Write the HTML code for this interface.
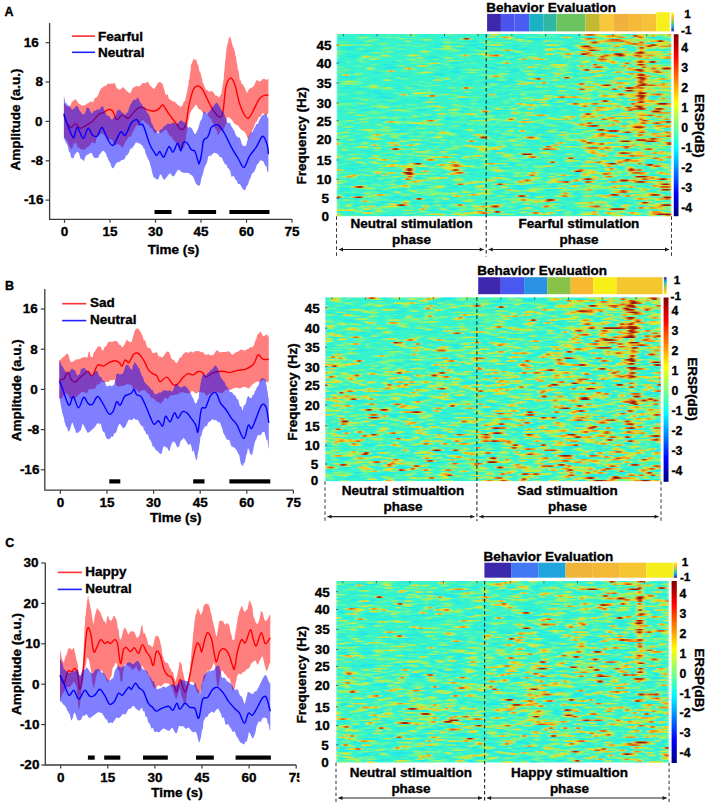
<!DOCTYPE html><html><head><meta charset="utf-8"><style>html,body{margin:0;padding:0;background:#fff}svg{display:block}</style></head><body>
<svg width="708" height="806" viewBox="0 0 708 806">
<defs>
<linearGradient id="jet" x1="0" y1="0" x2="0" y2="1"><stop offset="0" stop-color="#800000"/><stop offset="0.125" stop-color="#ff0000"/><stop offset="0.375" stop-color="#ffff00"/><stop offset="0.5" stop-color="#80ff80"/><stop offset="0.625" stop-color="#00ffff"/><stop offset="0.875" stop-color="#0000ff"/><stop offset="1" stop-color="#000080"/></linearGradient>
<linearGradient id="parD" x1="0" y1="0" x2="0" y2="1"><stop offset="0" stop-color="#f9fb0e"/><stop offset="0.25" stop-color="#f5b836"/><stop offset="0.5" stop-color="#7ccb5e"/><stop offset="0.75" stop-color="#12b1d0"/><stop offset="1" stop-color="#3e26a8"/></linearGradient>
<linearGradient id="parU" x1="0" y1="1" x2="0" y2="0"><stop offset="0" stop-color="#f9fb0e"/><stop offset="0.25" stop-color="#f5b836"/><stop offset="0.5" stop-color="#7ccb5e"/><stop offset="0.75" stop-color="#12b1d0"/><stop offset="1" stop-color="#3e26a8"/></linearGradient>
<filter id="hb" x="0" y="0" width="1" height="1"><feGaussianBlur stdDeviation="0.8 0.45"/></filter>
<clipPath id="clipA"><rect x="336.5" y="34" width="335" height="182.5"/></clipPath>
<clipPath id="clipB"><rect x="325" y="297.3" width="336" height="184"/></clipPath>
<clipPath id="clipC"><rect x="336" y="581" width="333.3" height="181.7"/></clipPath>
</defs>
<rect width="708" height="806" fill="#fff"/>
<text x="4.6" y="16.2" font-size="12.5" font-family="Liberation Sans, sans-serif" font-weight="bold" stroke="#000" stroke-width="0.35">A</text>
<path d="M63.9,103.4 64.9,104.0 66.3,105.6 67.8,107.0 69.3,107.1 70.2,106.2 71.1,103.7 72.0,101.6 72.9,101.2 73.9,100.5 74.8,99.2 75.9,99.4 77.0,101.1 78.1,103.1 79.2,103.8 80.2,104.3 81.4,105.4 82.5,105.5 83.6,105.4 84.9,105.0 86.0,104.5 87.2,103.6 88.5,103.0 89.8,101.9 91.1,101.2 92.0,101.9 92.9,102.5 93.8,100.7 94.7,98.5 95.6,97.6 96.5,97.6 97.3,96.6 98.0,95.5 98.7,93.7 99.3,91.7 99.9,90.9 100.5,89.6 101.2,88.3 101.9,88.0 102.9,87.3 103.9,86.2 105.0,85.9 106.0,85.8 107.1,84.3 108.2,83.5 109.4,84.1 110.7,83.6 112.0,83.6 113.2,83.6 114.4,82.9 115.4,84.6 116.4,87.4 117.2,88.5 118.1,89.0 119.0,89.7 120.2,89.6 121.3,88.8 122.4,87.5 123.7,87.3 124.8,88.9 126.1,90.3 127.4,91.4 128.6,92.5 129.9,93.2 130.8,92.4 131.7,90.3 132.7,87.9 133.6,87.0 134.5,87.4 135.3,86.6 136.1,85.7 137.7,86.5 139.2,86.6 140.8,85.3 141.9,83.6 143.2,83.1 144.4,83.3 145.7,83.0 147.0,82.1 148.0,81.9 149.0,83.8 150.0,85.5 151.0,86.4 152.1,87.6 153.2,88.7 154.2,88.8 155.3,87.4 156.4,85.4 157.6,83.2 158.7,82.2 159.9,82.2 161.0,82.6 161.6,83.1 162.1,83.5 162.7,84.6 163.3,86.4 163.9,88.4 164.4,90.1 165.0,92.7 165.6,94.5 166.2,94.7 166.8,95.0 167.3,94.6 167.9,94.8 168.4,97.3 168.9,98.9 170.1,99.5 171.3,100.2 172.4,101.2 173.5,101.6 174.5,101.5 175.6,102.4 177.0,104.3 178.4,105.3 179.7,106.2 181.1,106.7 182.3,105.6 182.8,104.6 183.2,103.0 183.6,102.1 184.0,101.8 184.4,101.3 184.8,100.9 185.2,100.7 185.5,98.9 185.9,96.9 186.3,95.7 186.6,93.7 187.0,92.3 187.3,90.3 187.6,88.6 187.9,86.7 188.2,86.1 188.4,85.2 188.6,82.3 188.8,80.2 189.0,80.1 189.2,79.7 189.4,78.7 189.6,77.1 189.7,74.9 189.9,73.9 190.1,73.2 190.3,72.4 190.4,71.4 190.6,69.7 190.8,67.1 190.9,65.6 191.1,64.7 191.3,64.6 191.8,63.3 192.4,61.7 193.0,60.3 193.5,59.2 194.1,58.8 194.6,59.2 195.2,60.0 195.8,59.8 196.3,59.6 196.9,62.0 197.4,64.1 198.0,64.4 198.4,65.1 198.7,67.7 199.1,69.4 199.5,71.0 199.9,72.3 200.2,72.2 200.6,73.1 201.0,74.8 201.3,76.4 201.7,77.4 202.1,79.0 202.4,80.9 202.8,82.9 203.1,83.6 203.5,83.5 203.9,84.8 204.3,86.0 204.7,87.2 205.5,89.0 206.3,89.8 207.2,90.1 208.2,90.9 209.2,91.6 210.2,91.5 211.4,91.0 212.5,91.4 213.7,92.8 214.7,94.6 215.7,95.7 216.7,95.5 217.6,96.2 218.4,97.5 219.2,97.2 219.6,96.3 220.0,95.5 220.4,95.2 220.8,94.8 221.1,93.7 221.5,93.0 221.8,90.7 222.2,87.9 222.6,84.8 222.7,83.3 222.8,83.6 222.9,85.3 223.0,85.0 223.2,82.9 223.3,81.6 223.4,80.0 223.5,78.9 223.6,79.5 223.8,78.6 223.9,75.6 224.0,73.4 224.1,72.2 224.2,71.2 224.4,70.8 224.5,69.8 224.6,68.1 224.7,67.0 224.8,65.6 225.0,62.9 225.1,61.0 225.2,60.1 225.3,59.9 225.4,59.2 225.6,58.3 225.7,56.8 225.8,55.2 225.9,54.0 226.2,51.4 226.4,48.6 226.7,46.8 227.0,46.5 227.2,45.0 227.5,43.8 227.7,43.5 228.0,43.2 228.2,41.4 228.5,39.4 228.8,38.7 229.0,38.3 229.3,37.5 230.1,36.6 230.9,38.8 231.8,42.5 232.6,45.4 232.9,47.3 233.1,48.4 233.4,46.8 233.7,45.6 233.9,47.4 234.2,50.1 234.4,50.9 234.7,50.7 234.9,52.0 235.2,53.8 235.5,55.3 235.7,56.2 236.0,56.9 236.2,58.2 236.4,60.3 236.6,62.1 236.8,63.1 237.1,64.0 237.3,65.2 237.5,67.3 237.7,68.6 237.9,69.8 238.1,70.6 238.4,69.9 238.6,70.7 238.8,72.9 239.1,74.3 239.3,76.5 239.7,79.4 240.2,79.7 240.6,80.1 241.0,81.7 241.5,83.4 242.0,84.2 242.4,84.1 242.9,84.2 243.3,85.2 243.8,86.0 244.7,87.4 245.6,89.8 246.5,92.0 247.4,92.4 248.3,90.4 249.2,89.1 250.1,88.6 250.9,88.1 251.8,87.5 252.7,86.9 253.6,86.1 254.5,84.8 255.3,82.7 256.2,80.6 257.2,80.2 258.5,80.9 259.9,81.4 261.4,80.6 262.8,78.9 264.0,78.7 265.3,79.2 266.5,79.7 267.6,79.7 268.4,78.1 L268.4,112.7 267.3,114.7 265.9,114.9 264.2,113.8 262.8,112.9 261.8,114.2 260.9,115.9 260.1,116.7 259.2,116.9 258.3,117.8 257.8,119.4 257.2,120.8 256.7,121.7 256.2,122.1 255.6,122.3 255.1,124.1 254.5,125.6 253.9,127.0 253.4,128.4 252.9,129.2 252.4,129.8 251.8,131.4 251.3,132.8 250.7,133.9 250.2,134.9 249.7,136.2 249.2,137.6 248.7,138.8 248.3,139.5 247.5,138.6 246.9,136.5 246.4,135.3 245.8,133.8 244.9,132.2 244.1,131.6 243.2,130.7 242.3,130.5 241.3,130.0 240.2,128.6 239.2,127.2 238.2,125.8 237.2,124.9 236.2,124.7 235.2,124.2 234.2,123.4 233.3,122.1 232.3,120.5 231.5,119.5 230.2,118.2 229.0,117.4 227.9,117.1 227.0,117.6 226.6,119.6 226.4,122.5 226.2,123.7 226.0,123.7 225.7,124.0 225.3,124.8 224.8,126.5 224.1,128.2 223.2,129.5 222.3,130.0 221.3,130.2 220.2,131.7 219.2,133.7 218.1,135.1 217.6,134.6 217.0,131.8 216.5,129.8 215.9,129.1 215.3,128.7 214.7,128.1 214.1,126.3 213.5,124.1 213.0,122.1 212.4,122.2 211.8,120.7 211.3,118.3 210.8,117.9 210.3,118.8 209.0,117.0 207.8,114.2 206.7,112.6 205.7,112.0 204.7,112.9 203.7,114.2 202.8,113.0 202.0,111.4 201.1,110.3 200.2,109.6 199.1,109.2 198.0,108.3 196.9,105.6 195.8,104.6 194.8,105.9 193.9,107.5 193.0,108.5 192.1,109.8 191.3,110.8 190.9,111.4 190.6,112.6 190.3,113.0 190.0,113.5 189.7,114.4 189.4,116.4 189.1,119.3 188.8,120.0 188.5,119.8 188.2,121.7 187.9,124.0 187.7,124.6 187.5,126.0 187.3,128.1 187.1,130.4 186.9,131.7 186.7,132.2 186.5,133.1 186.3,135.3 186.1,137.5 185.9,138.9 185.7,139.9 185.5,140.5 185.3,141.8 185.1,143.2 184.8,144.5 184.6,146.0 183.8,147.8 183.0,148.8 182.1,148.6 181.2,148.6 180.1,148.4 179.5,148.1 178.8,148.4 178.0,147.1 177.3,144.7 176.5,143.4 175.7,142.7 174.9,141.6 174.2,140.7 173.4,140.0 172.6,138.8 171.9,137.3 171.1,136.3 170.3,136.5 169.5,135.7 168.8,134.0 168.0,133.2 167.3,131.5 166.7,130.0 165.2,129.7 164.0,130.6 162.5,131.9 161.4,132.7 160.2,133.2 158.9,131.9 157.6,131.4 156.3,132.3 155.3,133.3 154.3,132.9 153.2,131.1 152.2,128.6 151.1,128.3 150.1,127.8 149.2,125.5 148.3,124.1 147.4,124.4 146.6,124.1 145.7,122.7 144.8,121.9 143.9,121.1 142.9,119.9 141.8,120.3 140.8,122.8 139.8,124.3 138.7,125.2 137.7,125.8 136.9,125.0 136.1,125.4 135.4,127.2 134.6,128.8 133.8,130.4 133.0,131.8 132.2,133.1 131.5,135.2 130.8,136.8 130.1,136.9 129.4,136.4 128.7,137.0 128.0,137.9 127.3,139.4 126.6,140.4 125.9,140.7 125.3,141.9 124.0,145.1 122.8,147.6 121.5,147.1 120.3,145.5 119.0,144.5 117.8,144.0 116.6,144.8 115.3,145.6 114.1,144.2 112.8,141.1 111.9,139.7 111.0,139.7 110.2,138.9 109.3,139.1 108.4,140.0 107.5,140.0 106.6,138.3 105.4,136.2 104.1,134.9 102.9,133.8 101.6,133.4 100.4,133.9 99.7,134.5 99.0,135.1 98.3,136.0 97.6,136.5 96.9,137.2 96.3,139.2 95.6,142.4 94.9,144.1 94.2,143.2 92.9,142.2 91.7,142.7 90.5,144.5 89.2,146.2 88.0,146.4 87.1,147.0 86.2,148.6 85.3,149.2 84.4,149.3 83.5,150.1 82.6,149.5 81.8,149.2 81.0,149.4 80.2,148.4 79.4,147.7 78.5,147.7 77.8,147.6 77.0,145.4 76.2,142.9 75.5,142.6 74.5,143.2 73.7,144.2 72.8,146.6 71.9,149.1 70.9,148.7 70.2,147.2 69.5,146.4 68.7,144.5 67.9,142.5 67.1,140.8 66.3,140.2 65.5,139.3 64.9,138.1 64.3,137.5 63.9,136.8 Z" fill="#ff0000" fill-opacity="0.5"/>
<path d="M63.9,115.1 C64.4,116.4 65.8,120.8 67.0,122.8 C68.2,124.9 69.5,127.4 70.9,127.5 C72.3,127.6 74.0,123.5 75.5,123.6 C77.1,123.7 78.4,128.0 80.2,128.3 C82.0,128.5 84.3,126.3 86.4,125.2 C88.5,124.0 90.6,123.1 92.6,121.3 C94.7,119.5 97.0,115.7 98.8,114.3 C100.7,112.9 101.9,113.5 103.5,112.7 C105.1,111.9 106.6,109.9 108.2,109.6 C109.7,109.4 111.4,109.5 112.8,111.2 C114.2,112.9 115.2,119.1 116.7,119.7 C118.3,120.4 120.2,115.3 122.1,115.1 C124.1,114.8 126.3,118.8 128.4,118.2 C130.4,117.5 132.5,113.0 134.6,111.2 C136.6,109.4 138.7,107.5 140.8,107.3 C142.9,107.0 144.9,109.0 147.0,109.6 C149.1,110.3 151.4,111.2 153.2,111.2 C155.0,111.2 156.3,110.7 157.9,109.6 C159.4,108.6 161.4,105.4 162.5,105.0 C163.6,104.5 163.4,105.7 164.5,107.2 C165.5,108.6 167.1,111.2 168.9,113.9 C170.8,116.5 173.6,120.2 175.6,122.8 C177.7,125.4 179.6,129.1 181.2,129.5 C182.9,129.9 184.4,129.1 185.7,125.0 C187.0,120.9 187.7,110.9 189.1,104.9 C190.4,99.0 192.0,92.4 193.5,89.3 C195.0,86.1 196.5,85.9 198.0,85.9 C199.5,85.9 201.0,87.2 202.5,89.3 C203.9,91.3 205.4,95.2 206.9,98.2 C208.4,101.2 209.5,104.2 211.4,107.2 C213.3,110.1 216.2,115.0 218.1,116.1 C220.0,117.2 221.3,118.7 222.6,113.9 C223.9,109.0 224.6,93.0 225.9,87.0 C227.2,81.1 228.9,78.5 230.4,78.1 C231.9,77.7 233.4,80.7 234.9,84.8 C236.4,88.9 237.8,97.8 239.3,102.7 C240.8,107.5 242.3,111.2 243.8,113.9 C245.3,116.5 246.6,119.1 248.3,118.3 C249.9,117.6 252.2,112.4 253.9,109.4 C255.5,106.4 256.8,102.7 258.3,100.4 C259.8,98.2 261.1,96.9 262.8,96.0 C264.5,95.0 267.4,95.0 268.4,94.9" fill="none" stroke="#ff0000" stroke-width="1.4"/>
<path d="M63.9,94.1 64.0,95.1 64.2,96.8 64.5,99.1 64.8,100.0 65.1,101.6 65.4,103.0 65.8,103.0 66.2,102.9 67.0,104.4 67.8,105.2 68.8,105.2 69.8,106.3 70.9,108.3 72.0,109.4 73.3,109.3 74.6,108.0 75.9,106.3 77.1,105.9 77.8,106.5 78.5,107.7 79.2,109.8 79.9,111.1 80.5,111.8 81.2,112.6 81.9,113.4 82.5,114.3 83.2,114.6 83.9,114.2 84.6,113.8 85.3,112.5 86.0,109.8 86.7,108.0 87.3,107.5 88.0,108.0 88.9,108.2 89.7,109.5 90.5,111.8 91.5,113.6 92.6,112.9 93.5,111.2 94.6,110.8 95.7,110.6 96.9,109.6 98.0,109.2 99.2,109.7 100.2,108.3 101.2,106.7 102.1,106.2 102.9,106.5 103.7,108.0 104.4,110.2 105.1,111.9 105.8,113.4 106.6,115.1 107.6,115.9 108.6,115.9 109.7,116.6 110.7,118.6 111.8,119.7 112.8,119.0 113.4,117.9 114.1,117.1 114.7,116.2 115.3,115.9 115.9,114.7 116.6,112.6 117.2,110.5 117.8,109.7 118.4,110.4 119.0,110.1 119.9,109.6 120.8,111.0 121.7,112.3 122.6,112.4 123.5,113.2 124.4,114.5 125.3,114.8 125.8,114.0 126.4,113.2 127.0,112.4 127.6,112.2 128.2,111.1 128.7,109.2 129.3,107.5 129.9,105.5 130.4,104.5 131.0,104.1 131.5,103.0 132.7,101.0 133.9,99.7 135.0,99.8 136.1,99.4 137.0,98.1 137.9,97.6 138.8,99.1 139.8,101.7 140.8,103.2 141.6,103.7 142.5,105.4 143.3,106.9 144.3,107.2 145.2,108.0 146.1,110.3 147.0,112.6 147.5,113.0 148.0,112.9 148.4,114.0 148.9,115.1 149.4,115.8 149.9,117.0 150.4,118.7 150.8,120.3 151.3,122.3 151.8,123.8 152.3,124.5 152.7,124.6 153.2,125.9 154.1,128.1 155.0,129.4 155.8,130.1 156.7,131.2 157.6,133.1 158.5,133.5 159.4,131.8 160.3,129.6 161.2,129.3 162.1,129.2 163.0,127.5 164.0,125.9 164.9,125.9 165.8,125.4 166.7,124.0 168.1,123.4 169.5,123.9 170.9,124.0 172.2,122.9 173.4,122.5 174.7,123.1 175.7,124.0 176.7,124.4 177.9,123.2 178.9,122.0 180.0,120.9 181.2,120.3 182.3,121.1 183.5,121.9 184.3,121.9 185.0,122.6 185.8,123.8 186.6,125.1 187.4,126.7 188.2,127.9 189.1,127.1 190.1,127.2 191.2,127.7 192.3,128.9 193.5,131.7 194.6,134.0 195.8,133.8 196.2,132.9 196.7,131.5 197.2,130.6 197.7,129.9 198.2,128.3 198.7,126.8 199.2,124.8 199.7,123.1 200.1,121.9 200.6,120.7 201.1,119.8 201.6,119.3 202.0,118.4 202.5,115.9 203.6,112.6 204.8,111.5 205.9,112.3 206.9,113.4 208.0,113.4 208.8,112.1 209.5,111.4 210.2,110.7 210.9,109.5 211.6,108.2 212.3,107.1 213.0,106.4 213.6,105.9 215.2,103.7 216.6,102.4 218.1,104.1 218.8,105.4 219.5,106.0 220.2,107.4 221.0,109.6 221.7,110.5 222.4,110.9 223.1,112.0 223.7,112.9 224.3,114.0 224.8,116.0 225.3,117.5 225.8,118.2 226.3,119.3 227.0,121.9 227.6,122.9 228.3,122.9 229.1,122.8 229.9,123.1 230.7,124.6 231.5,126.8 232.3,127.6 233.0,128.8 233.7,130.0 234.5,131.0 235.2,133.3 235.9,135.3 236.6,136.1 237.3,137.0 238.0,137.4 238.6,137.3 239.3,137.4 240.1,138.4 241.0,141.1 241.8,143.9 242.6,145.3 243.4,146.1 244.2,146.3 244.9,145.8 245.5,146.0 246.1,145.6 246.6,143.4 247.1,141.5 247.6,140.0 248.1,138.4 248.7,136.8 249.4,135.3 250.0,133.9 250.6,133.0 251.2,132.3 251.9,132.0 252.6,131.7 253.3,130.4 254.0,128.7 254.7,127.7 255.4,126.4 256.1,124.3 256.8,123.9 257.4,124.3 258.1,123.5 258.8,121.4 259.5,119.7 260.2,118.6 260.9,117.5 261.5,116.4 262.2,115.6 262.8,115.3 264.1,114.5 265.4,113.7 266.6,114.5 267.6,117.5 268.4,118.3 L268.4,172.0 268.1,171.7 267.7,171.8 267.2,171.0 266.7,167.8 266.2,165.6 265.6,166.2 265.0,165.4 264.0,162.4 263.0,161.1 261.9,160.7 260.6,160.2 260.0,160.4 259.3,161.9 258.7,163.0 258.0,163.6 257.3,164.3 256.6,165.5 255.9,168.1 255.2,169.8 254.5,171.0 253.9,172.1 253.3,172.8 252.7,173.3 252.1,173.4 251.5,174.6 251.0,177.1 250.4,178.0 249.9,178.9 249.4,179.9 248.8,181.7 248.3,184.0 247.5,185.2 246.6,185.9 245.8,188.4 245.0,190.4 244.2,190.1 243.4,189.6 242.7,189.1 241.9,187.5 241.2,186.3 240.5,185.1 239.8,184.2 239.1,184.0 238.2,184.0 237.6,183.0 236.9,180.9 236.1,179.9 235.4,179.6 234.6,178.0 233.8,176.1 233.0,175.7 232.3,176.8 231.5,176.7 230.8,173.8 230.2,170.9 229.5,169.7 228.8,168.8 228.2,168.3 227.5,167.7 226.8,165.6 226.1,164.2 225.5,164.6 224.8,164.0 224.1,162.6 223.3,161.0 222.6,159.5 221.9,157.8 221.2,157.1 220.4,157.2 219.7,157.1 218.9,155.8 218.1,154.3 216.8,153.4 215.5,153.0 214.2,152.8 212.8,153.7 211.5,155.0 210.3,156.6 209.8,155.8 209.3,155.2 208.7,156.0 208.2,157.1 207.8,159.0 207.3,161.5 206.8,162.9 206.3,163.7 205.8,165.0 205.4,166.1 204.9,166.5 204.5,167.7 204.0,168.9 203.6,170.9 203.1,173.1 202.6,174.8 202.1,176.2 201.7,177.1 201.2,178.8 200.8,181.7 200.3,183.9 199.9,184.9 199.4,185.7 199.0,185.4 198.5,185.5 198.0,185.5 197.4,184.9 196.7,184.5 196.1,183.8 195.4,182.5 194.7,180.5 194.0,178.8 193.3,177.4 192.6,175.9 192.0,175.2 191.3,175.2 189.9,174.0 188.6,172.9 187.3,172.8 185.9,173.0 184.6,172.8 183.2,172.8 181.8,172.3 180.4,171.0 179.1,169.8 177.9,170.1 176.8,171.5 175.9,173.1 175.1,174.2 174.3,175.7 173.4,176.6 172.3,175.9 171.2,174.5 170.1,173.2 168.9,174.1 168.0,175.4 167.1,176.6 166.2,177.8 165.3,178.7 164.5,179.7 163.3,179.3 162.3,177.0 161.0,174.4 159.9,174.8 158.7,178.2 157.4,179.8 156.1,179.0 154.8,177.7 154.4,177.3 153.9,177.8 153.5,177.0 153.1,175.8 152.7,174.3 152.3,172.7 151.9,171.2 151.5,168.9 151.0,167.0 150.6,166.0 150.2,164.7 149.8,163.0 149.4,161.7 149.0,161.0 148.6,160.1 148.0,158.8 147.5,158.0 147.0,156.7 146.5,155.3 146.0,154.8 145.5,153.3 144.9,150.6 144.4,148.7 143.9,148.6 143.4,148.2 142.9,146.3 142.3,145.6 141.1,144.7 139.9,143.4 138.6,143.3 137.4,142.7 136.1,142.3 135.4,143.2 134.6,144.9 133.8,145.8 133.0,146.8 132.2,148.3 131.5,148.7 130.7,148.2 129.9,149.7 129.1,151.9 128.4,153.4 127.6,154.7 126.8,155.3 126.0,155.8 125.3,157.5 124.5,159.1 123.7,159.6 122.5,160.0 121.2,160.2 120.0,161.5 118.7,161.9 117.5,162.3 116.3,163.3 115.1,165.0 113.9,167.6 112.6,168.6 111.3,166.5 110.7,164.0 110.1,162.7 109.6,161.7 108.9,161.0 108.3,159.4 107.7,157.8 107.1,157.1 106.4,155.3 105.8,153.2 105.2,152.4 104.6,151.9 104.1,151.2 103.5,150.8 102.5,150.8 101.7,152.1 100.8,153.2 100.0,153.9 99.1,155.5 98.2,157.7 97.3,158.1 96.2,157.7 95.1,157.9 94.0,157.6 92.8,155.4 91.7,153.1 90.6,153.0 89.5,153.5 88.7,154.2 87.9,154.5 87.1,155.0 86.3,155.5 85.6,156.2 84.8,158.4 84.1,160.7 83.3,160.8 82.6,159.7 81.9,159.0 81.2,159.2 80.5,158.5 79.7,155.6 79.0,153.3 78.4,152.4 77.7,151.7 77.1,151.8 76.4,152.5 75.8,153.5 75.2,153.8 74.6,154.8 74.0,157.0 73.3,158.5 72.4,158.1 72.0,158.0 71.6,158.1 71.1,157.2 70.6,154.7 70.1,152.7 69.6,152.2 69.0,151.4 68.4,149.3 67.9,146.5 67.3,144.7 66.8,144.0 66.2,143.0 65.7,141.9 65.3,141.2 64.9,139.9 64.5,139.0 64.2,138.7 63.9,138.4 Z" fill="#0000ff" fill-opacity="0.5"/>
<path d="M63.9,113.5 C64.3,114.8 64.7,117.3 66.2,121.3 C67.8,125.3 71.4,136.5 73.2,137.6 C75.0,138.6 75.4,127.4 77.1,127.5 C78.8,127.6 81.5,138.2 83.3,138.4 C85.1,138.5 86.4,128.8 88.0,128.3 C89.5,127.7 91.1,134.0 92.6,135.3 C94.2,136.5 95.7,137.3 97.3,136.0 C98.8,134.7 100.4,127.4 101.9,127.5 C103.5,127.6 104.8,133.8 106.6,136.8 C108.4,139.8 110.5,146.1 112.8,145.4 C115.2,144.6 118.5,133.8 120.6,132.1 C122.7,130.5 123.4,136.8 125.3,135.3 C127.1,133.7 129.5,125.4 131.5,122.8 C133.4,120.2 135.5,119.4 136.9,119.7 C138.3,120.0 139.1,124.0 140.0,124.7 C140.9,125.5 141.6,123.4 142.5,124.2 C143.3,125.1 144.1,127.4 144.9,129.7 C145.8,131.9 146.6,135.1 147.4,137.6 C148.2,140.1 149.1,142.7 149.9,144.5 C150.6,146.3 151.1,147.1 151.9,148.5 C152.6,149.8 153.6,151.3 154.3,152.4 C155.1,153.6 155.7,155.2 156.3,155.4 C157.0,155.6 157.7,154.1 158.3,153.4 C158.9,152.8 159.2,151.2 159.8,151.4 C160.4,151.7 161.1,153.9 161.8,154.9 C162.4,155.9 163.1,157.6 163.7,157.4 C164.4,157.1 165.1,154.9 165.7,153.4 C166.4,151.9 167.1,149.6 167.7,148.5 C168.3,147.3 168.7,146.5 169.2,146.5 C169.7,146.5 170.1,147.5 170.7,148.5 C171.2,149.5 172.0,152.3 172.6,152.4 C173.3,152.6 174.0,150.8 174.6,149.5 C175.3,148.1 176.0,145.5 176.6,144.5 C177.2,143.5 177.5,142.7 178.1,143.5 C178.7,144.3 179.6,148.3 180.1,149.5 C180.6,150.6 180.6,151.3 181.0,150.4 C181.5,149.6 182.0,145.9 182.5,144.5 C183.0,143.1 183.4,142.4 184.0,142.0 C184.7,141.7 185.7,142.0 186.5,142.5 C187.2,143.0 187.8,144.0 188.5,145.0 C189.1,146.0 189.8,147.6 190.4,148.5 C191.1,149.4 191.8,150.1 192.4,150.4 C193.1,150.8 193.7,149.6 194.4,150.4 C195.1,151.3 195.7,153.4 196.4,155.4 C197.0,157.4 197.9,161.0 198.4,162.3 C198.9,163.6 198.9,164.5 199.3,163.3 C199.8,162.1 200.7,159.0 201.3,155.4 C202.0,151.8 202.6,144.3 203.3,141.5 C204.0,138.7 204.6,139.2 205.3,138.6 C205.9,137.9 206.6,138.4 207.3,137.6 C207.9,136.8 208.5,135.4 209.2,133.6 C209.9,131.9 209.9,128.7 211.4,127.3 C212.9,125.8 215.9,123.9 218.1,125.0 C220.3,126.1 222.6,130.2 224.8,134.0 C227.0,137.7 229.3,143.3 231.5,147.4 C233.7,151.5 236.2,155.2 238.2,158.5 C240.3,161.9 241.9,167.9 243.8,167.5 C245.7,167.1 247.3,159.7 249.4,156.3 C251.4,153.0 253.9,150.7 256.1,147.4 C258.3,144.0 260.9,136.6 262.8,136.2 C264.7,135.8 266.3,142.2 267.3,145.1 C268.2,148.1 268.2,152.6 268.4,154.1" fill="none" stroke="#0000ff" stroke-width="1.4"/>
<path d="M49.6,23.0 V219.3 H292.0" fill="none" stroke="#3a3a3a" stroke-width="1.3"/>
<path d="M45.6,42.7 H49.6" stroke="#3a3a3a" stroke-width="1.2"/>
<text x="38.9" y="47.0" font-size="13.5" text-anchor="end" font-family="Liberation Sans, sans-serif" font-weight="bold" stroke="#000" stroke-width="0.35">16</text>
<path d="M45.6,82.0 H49.6" stroke="#3a3a3a" stroke-width="1.2"/>
<text x="43" y="86.3" font-size="13.5" text-anchor="end" font-family="Liberation Sans, sans-serif" font-weight="bold" stroke="#000" stroke-width="0.35">8</text>
<path d="M45.6,121.4 H49.6" stroke="#3a3a3a" stroke-width="1.2"/>
<text x="42.6" y="125.7" font-size="13.5" text-anchor="end" font-family="Liberation Sans, sans-serif" font-weight="bold" stroke="#000" stroke-width="0.35">0</text>
<path d="M45.6,160.8 H49.6" stroke="#3a3a3a" stroke-width="1.2"/>
<text x="43" y="165.1" font-size="13.5" text-anchor="end" font-family="Liberation Sans, sans-serif" font-weight="bold" stroke="#000" stroke-width="0.35">-8</text>
<path d="M45.6,200.1 H49.6" stroke="#3a3a3a" stroke-width="1.2"/>
<text x="43.4" y="204.4" font-size="13.5" text-anchor="end" font-family="Liberation Sans, sans-serif" font-weight="bold" stroke="#000" stroke-width="0.35">-16</text>
<path d="M64.5,219.3 V222.8" stroke="#3a3a3a" stroke-width="1.2"/>
<text x="64.5" y="236.3" font-size="13.5" text-anchor="middle" font-family="Liberation Sans, sans-serif" font-weight="bold" stroke="#000" stroke-width="0.35">0</text>
<path d="M110.0,219.3 V222.8" stroke="#3a3a3a" stroke-width="1.2"/>
<text x="110.0" y="236.3" font-size="13.5" text-anchor="middle" font-family="Liberation Sans, sans-serif" font-weight="bold" stroke="#000" stroke-width="0.35">15</text>
<path d="M155.5,219.3 V222.8" stroke="#3a3a3a" stroke-width="1.2"/>
<text x="155.5" y="236.3" font-size="13.5" text-anchor="middle" font-family="Liberation Sans, sans-serif" font-weight="bold" stroke="#000" stroke-width="0.35">30</text>
<path d="M201.0,219.3 V222.8" stroke="#3a3a3a" stroke-width="1.2"/>
<text x="201.0" y="236.3" font-size="13.5" text-anchor="middle" font-family="Liberation Sans, sans-serif" font-weight="bold" stroke="#000" stroke-width="0.35">45</text>
<path d="M246.5,219.3 V222.8" stroke="#3a3a3a" stroke-width="1.2"/>
<text x="246.5" y="236.3" font-size="13.5" text-anchor="middle" font-family="Liberation Sans, sans-serif" font-weight="bold" stroke="#000" stroke-width="0.35">60</text>
<path d="M292.0,219.3 V222.8" stroke="#3a3a3a" stroke-width="1.2"/>
<text x="292.0" y="236.3" font-size="13.5" text-anchor="middle" font-family="Liberation Sans, sans-serif" font-weight="bold" stroke="#000" stroke-width="0.35">75</text>
<text x="173.4" y="253.6" font-size="13.5" text-anchor="middle" font-family="Liberation Sans, sans-serif" font-weight="bold" stroke="#000" stroke-width="0.35">Time (s)</text>
<text x="20.2" y="119.5" font-size="13.5" text-anchor="middle" transform="rotate(-90 20.2 119.5)" font-family="Liberation Sans, sans-serif" font-weight="bold" stroke="#000" stroke-width="0.35">Amplitude (a.u.)</text>
<path d="M72,36.1 H95" stroke="#ff3030" stroke-width="1.6"/>
<path d="M72,52.3 H95" stroke="#2020ff" stroke-width="1.6"/>
<text x="98" y="40.9" font-size="13.5" font-family="Liberation Sans, sans-serif" font-weight="bold" stroke="#000" stroke-width="0.35">Fearful</text>
<text x="98" y="57.2" font-size="13.5" font-family="Liberation Sans, sans-serif" font-weight="bold" stroke="#000" stroke-width="0.35">Neutral</text>
<rect x="154.5" y="210" width="17.0" height="4.0" fill="#000"/>
<rect x="188.4" y="210" width="27.7" height="4.0" fill="#000"/>
<rect x="229.4" y="210" width="40.1" height="4.0" fill="#000"/>
<text x="4.9" y="289.5" font-size="12.5" font-family="Liberation Sans, sans-serif" font-weight="bold" stroke="#000" stroke-width="0.35">B</text>
<path d="M59.3,360.0 60.2,360.0 61.5,358.7 62.8,357.2 63.6,356.7 64.5,356.2 65.4,355.2 66.3,354.1 67.2,353.9 67.7,353.7 68.2,353.9 68.6,355.4 69.1,357.2 69.5,359.0 70.1,360.7 70.6,361.8 71.8,362.1 73.1,361.4 74.5,360.7 75.9,359.3 77.2,359.2 78.5,359.4 79.8,359.0 81.1,358.2 82.4,357.6 83.8,357.2 85.2,356.8 86.3,357.8 87.1,357.9 87.7,356.0 88.2,354.0 88.9,351.8 89.4,351.0 89.9,353.0 90.5,356.2 91.0,357.2 91.7,356.8 92.4,357.1 92.8,356.8 93.2,354.8 93.7,352.7 94.1,352.1 94.6,352.0 95.1,350.9 95.6,349.7 96.1,349.4 96.6,348.7 97.1,347.5 97.6,346.9 98.6,346.3 99.7,346.2 100.8,347.1 101.8,349.8 102.8,350.8 103.4,349.9 104.0,348.2 104.6,346.8 105.1,346.6 105.7,346.4 106.4,345.7 107.1,343.9 108.4,342.0 109.9,341.6 111.4,342.0 112.8,341.7 114.1,340.9 115.7,340.7 117.1,341.6 118.4,343.1 119.3,344.7 120.2,345.0 121.0,345.3 121.9,347.2 122.8,347.2 123.5,345.8 124.2,344.9 124.9,343.6 125.7,341.7 126.4,340.2 127.1,340.1 128.6,341.2 130.1,342.1 131.5,342.0 132.0,340.8 132.5,338.7 133.0,336.5 133.4,335.0 133.9,333.9 134.4,331.9 134.9,330.2 136.4,328.6 137.9,328.5 139.3,329.9 140.0,330.8 140.7,331.8 141.3,333.6 142.0,334.8 142.8,336.4 143.2,338.0 143.6,339.8 144.1,340.4 144.6,340.3 145.1,340.4 145.6,341.6 146.1,343.7 146.6,345.6 147.1,346.7 147.9,347.4 148.8,348.1 149.8,348.2 150.7,348.6 151.5,350.8 152.3,352.9 154.1,352.9 155.8,352.6 156.4,352.4 157.0,352.1 157.7,354.0 158.4,356.3 159.2,356.3 160.1,356.3 161.1,357.3 162.1,357.5 163.3,356.4 164.5,354.6 165.7,353.0 166.8,351.8 167.8,351.4 168.7,351.8 169.6,352.9 170.4,355.4 171.2,358.2 172.0,359.1 172.7,359.5 173.4,360.1 174.6,361.1 175.7,362.7 176.8,363.1 177.9,361.5 178.4,360.6 178.9,359.8 179.5,358.3 180.0,357.0 180.5,357.2 181.1,357.8 181.7,356.4 182.3,354.9 183.6,353.8 184.9,352.4 186.3,351.9 187.7,352.8 189.1,352.7 190.5,351.3 191.8,352.0 193.2,352.6 194.6,351.6 195.9,351.1 197.3,351.2 198.7,350.9 200.1,351.6 201.3,352.2 202.5,352.1 203.7,352.7 204.7,354.2 205.8,355.0 206.9,354.6 208.3,354.1 209.7,355.1 211.1,355.3 212.5,355.3 213.6,354.8 214.7,353.0 215.8,351.2 216.9,350.3 218.1,350.8 219.4,351.9 220.7,352.4 222.1,352.1 223.4,351.9 224.8,351.9 226.1,352.0 227.5,351.5 228.8,351.3 230.2,352.6 231.5,354.2 232.8,354.7 234.2,353.7 235.5,352.3 236.9,352.1 238.2,351.4 239.6,350.4 241.0,349.5 242.4,349.7 243.7,350.4 244.9,350.4 246.2,349.7 247.3,349.3 248.3,349.0 249.4,347.7 250.5,346.9 251.7,347.4 252.8,346.8 253.9,345.3 254.4,343.5 254.9,341.7 255.4,340.4 255.9,339.5 256.4,338.7 256.8,336.8 257.2,335.6 257.8,333.9 258.3,333.5 258.8,334.1 259.4,332.9 260.1,331.5 260.9,331.7 261.7,333.7 262.8,335.8 263.9,336.5 265.3,335.1 266.7,334.6 268.0,335.9 268.8,336.9 L268.8,380.4 268.0,382.4 266.8,382.0 265.4,381.3 264.0,380.0 262.8,379.8 261.6,380.7 260.6,381.6 259.6,381.8 258.3,381.8 257.1,381.8 255.8,382.1 254.4,382.9 253.0,384.0 251.6,385.3 250.3,387.1 248.9,388.5 247.6,388.2 246.3,387.3 244.9,387.0 243.6,386.7 242.2,387.2 240.9,388.3 239.6,388.6 238.2,388.0 236.9,387.8 235.5,387.8 234.2,387.9 232.8,388.8 231.5,389.4 230.2,389.8 228.8,390.3 227.5,389.6 226.1,389.5 224.8,390.8 223.5,392.1 222.1,393.2 220.8,393.0 219.4,392.7 218.1,392.4 216.8,392.1 215.4,391.6 214.1,391.7 212.7,392.9 211.4,393.7 210.0,393.8 208.6,394.2 207.2,395.7 205.9,395.4 204.7,392.8 203.4,392.5 202.3,392.9 201.3,392.1 200.2,392.1 198.9,392.0 197.6,392.7 195.8,393.4 194.7,392.7 193.5,391.5 192.2,391.1 190.9,391.7 189.5,393.0 188.1,393.4 186.8,393.1 185.5,392.9 184.3,392.5 183.0,392.3 181.7,392.1 180.4,392.6 179.2,393.3 177.9,394.2 176.6,394.6 175.3,394.8 174.1,395.0 172.8,395.0 171.5,395.2 170.3,395.6 168.9,397.2 168.0,399.0 167.0,398.9 166.0,397.7 165.0,397.8 164.0,399.2 163.0,400.8 162.0,402.2 161.0,403.7 160.1,403.4 159.3,402.4 158.3,402.1 157.3,401.8 156.5,401.7 155.6,400.4 154.8,399.3 154.0,398.9 153.2,398.3 152.3,398.2 151.2,397.5 150.0,395.7 148.8,394.1 147.7,393.2 146.5,392.4 145.4,390.8 144.2,390.0 143.0,390.3 141.9,390.3 140.7,390.9 139.6,391.9 138.4,391.8 137.3,390.5 136.1,389.1 134.9,389.2 133.8,389.2 132.6,387.9 131.5,385.1 130.1,384.4 128.7,384.6 127.3,384.1 125.9,384.5 124.5,385.5 123.1,386.1 121.6,386.0 120.1,386.2 118.7,386.8 117.6,386.1 116.7,386.1 116.0,385.0 115.4,382.1 114.8,379.8 114.1,379.7 112.9,380.3 111.7,380.1 110.3,380.2 108.9,381.6 107.6,382.1 106.2,381.9 104.8,382.3 103.3,382.2 101.9,381.6 100.9,381.9 99.9,383.5 98.8,384.4 97.8,384.3 96.8,385.0 95.9,387.0 95.0,388.7 93.5,388.8 92.2,388.9 91.0,389.2 89.8,388.9 88.6,389.8 87.5,392.3 86.5,393.2 85.4,392.7 84.0,391.9 82.5,391.7 81.1,392.5 80.0,393.8 78.9,394.7 77.8,395.6 76.7,397.0 75.2,398.2 73.8,398.6 72.4,399.1 71.4,399.6 70.6,399.3 69.8,398.4 68.9,396.9 68.1,395.0 67.3,393.7 66.5,393.4 65.4,393.0 64.5,394.0 63.4,395.8 62.2,397.5 61.0,399.1 60.0,398.6 59.3,398.2 Z" fill="#ff0000" fill-opacity="0.5"/>
<path d="M59.3,379.1 C60.1,379.1 62.2,380.2 63.7,379.1 C65.1,377.9 66.7,372.0 68.0,372.1 C69.3,372.3 70.2,378.4 71.5,380.0 C72.8,381.5 74.4,382.1 75.9,381.7 C77.3,381.3 78.7,378.6 80.2,377.3 C81.6,376.0 83.2,374.9 84.5,373.9 C85.8,372.9 86.7,371.0 88.0,371.3 C89.3,371.6 90.8,376.6 92.4,375.6 C94.0,374.6 95.7,366.8 97.6,365.2 C99.5,363.6 101.8,366.5 103.7,366.1 C105.5,365.6 107.0,363.4 108.9,362.6 C110.8,361.7 113.2,360.8 115.0,360.8 C116.7,360.8 118.1,361.7 119.3,362.6 C120.5,363.4 120.9,366.5 121.9,366.1 C122.9,365.6 124.2,360.5 125.4,360.0 C126.5,359.4 127.6,363.4 128.9,362.6 C130.2,361.7 131.8,356.3 133.2,354.8 C134.6,353.2 136.1,352.6 137.5,353.0 C139.0,353.5 140.6,355.6 141.9,357.4 C143.2,359.1 144.2,361.3 145.4,363.4 C146.5,365.6 147.5,368.7 148.8,370.4 C150.1,372.1 151.9,373.0 153.2,373.9 C154.5,374.7 155.5,374.3 156.7,375.6 C157.8,376.9 158.5,381.4 160.1,381.7 C161.8,381.9 164.5,376.6 166.7,377.1 C168.9,377.6 171.5,383.8 173.4,384.9 C175.3,386.0 176.4,384.9 177.9,383.8 C179.4,382.7 180.7,379.9 182.3,378.2 C184.0,376.5 186.1,374.3 187.9,373.7 C189.8,373.2 191.8,375.2 193.5,374.9 C195.2,374.5 196.5,371.9 198.0,371.5 C199.5,371.1 201.2,371.7 202.5,372.6 C203.8,373.6 204.3,376.9 205.8,377.1 C207.3,377.3 209.3,374.7 211.4,373.7 C213.4,372.8 215.9,371.9 218.1,371.5 C220.3,371.1 222.9,371.3 224.8,371.5 C226.7,371.7 227.8,372.6 229.3,372.6 C230.8,372.6 232.3,371.9 233.7,371.5 C235.2,371.1 236.4,370.8 238.2,370.4 C240.1,370.0 242.7,370.0 244.9,369.3 C247.2,368.5 249.9,367.2 251.6,365.9 C253.3,364.6 253.9,363.3 255.0,361.5 C256.1,359.6 257.0,355.1 258.3,354.7 C259.6,354.4 261.0,358.5 262.8,359.2 C264.5,360.0 267.8,359.2 268.8,359.2" fill="none" stroke="#ff0000" stroke-width="1.4"/>
<path d="M59.3,361.7 59.7,361.3 60.1,361.6 60.7,362.4 61.3,365.0 61.9,365.7 62.6,366.3 63.2,367.8 63.7,368.8 64.8,370.4 65.9,372.0 67.2,372.5 68.1,372.6 69.1,371.9 70.2,370.6 71.3,369.2 72.4,368.5 73.1,369.3 73.9,370.3 74.6,369.9 75.4,370.8 76.1,373.1 76.8,375.1 77.6,375.5 78.3,374.7 79.1,374.5 79.8,373.8 80.6,370.5 81.3,368.2 82.1,368.9 82.8,368.3 83.9,367.9 84.9,368.6 86.0,369.6 87.0,371.5 88.0,371.8 89.2,372.0 90.2,374.1 91.3,375.7 92.4,375.8 93.2,374.6 94.1,372.8 95.0,371.9 95.9,371.0 96.7,370.9 97.4,370.9 98.1,372.7 98.7,375.2 99.4,376.0 100.2,376.9 100.8,376.8 101.4,377.2 102.1,379.6 102.8,380.8 103.5,380.4 104.2,381.0 104.8,381.8 105.4,383.7 106.6,386.3 107.6,386.4 108.9,385.4 110.1,385.4 111.5,385.9 112.9,385.7 114.1,384.5 114.5,383.0 114.9,380.9 115.2,380.6 115.5,380.5 115.8,378.5 116.1,375.8 116.4,374.3 116.8,373.9 117.1,373.6 117.6,373.4 118.8,374.0 120.1,374.4 121.5,374.1 122.8,373.7 123.4,372.4 123.9,370.6 124.5,369.4 125.0,367.9 125.5,365.7 126.1,365.2 126.6,365.2 127.1,364.5 128.2,365.1 129.4,367.3 130.5,368.8 131.5,369.8 132.0,369.9 132.4,368.0 132.8,365.9 133.1,364.9 133.6,364.2 134.1,362.9 134.8,362.3 135.7,363.2 136.7,364.8 137.6,366.0 138.4,367.8 139.0,368.2 139.5,368.6 140.0,370.8 140.4,372.2 140.9,372.8 141.4,374.5 141.9,375.8 142.6,376.5 143.3,378.1 144.0,380.9 144.7,382.2 145.4,382.9 146.0,383.9 146.7,384.6 147.3,385.0 148.0,385.5 148.8,386.7 149.5,387.2 150.2,388.1 151.0,389.5 151.7,389.8 152.5,389.8 153.3,391.6 154.1,393.4 155.3,394.3 156.5,394.4 157.8,393.3 159.3,392.6 160.4,392.8 161.7,391.9 163.0,390.4 164.4,390.2 165.6,390.2 166.7,390.7 168.0,391.0 169.1,390.6 170.1,390.1 171.2,391.3 172.1,391.7 173.0,390.4 173.9,388.2 174.7,386.1 175.6,384.6 176.8,384.0 177.9,385.1 179.0,386.2 180.1,387.1 181.2,387.5 182.3,387.3 183.4,386.0 184.6,385.4 185.3,386.5 186.1,387.6 186.8,387.3 187.6,388.2 188.5,389.7 189.3,390.9 190.2,391.9 190.8,393.2 191.5,395.5 192.2,397.0 192.9,397.7 193.6,399.2 194.3,401.3 195.0,403.0 195.7,403.8 196.3,403.1 196.9,402.2 197.1,401.9 197.4,400.4 197.7,399.6 197.9,399.5 198.1,399.0 198.4,399.3 198.6,398.9 198.8,396.9 199.0,394.4 199.2,392.3 199.5,390.7 199.7,389.5 199.9,388.5 200.1,386.5 200.3,385.3 200.5,383.9 200.7,382.6 200.9,382.0 201.1,381.3 201.3,379.8 202.2,376.3 203.1,374.3 203.9,374.3 204.8,375.3 205.8,375.3 206.9,374.0 208.0,372.8 209.2,372.0 210.3,370.2 211.4,369.6 212.6,368.9 213.7,366.9 214.8,365.5 215.9,365.7 216.4,366.3 217.0,367.2 217.5,367.8 218.1,369.2 218.7,371.0 219.2,372.2 219.8,374.1 220.3,376.2 221.1,378.1 221.8,378.8 222.6,379.6 223.3,381.0 224.1,381.4 224.8,382.2 225.5,384.4 226.3,386.8 227.0,387.0 227.8,387.3 228.5,388.9 229.3,390.7 230.2,392.2 231.1,392.0 232.0,392.2 232.8,393.2 233.7,394.8 234.5,395.1 235.2,395.5 236.0,396.8 236.7,398.7 237.5,399.2 238.2,399.4 238.8,401.8 239.3,404.2 239.9,405.7 240.4,406.5 241.0,406.2 241.6,407.1 242.1,409.8 242.7,410.6 243.1,408.4 243.6,406.5 244.0,405.4 244.5,404.9 244.9,404.8 245.4,404.2 245.8,403.5 246.3,401.7 246.7,399.1 247.2,397.5 248.6,396.1 250.1,397.7 251.6,398.2 252.2,396.3 252.7,394.6 253.3,394.8 253.9,394.8 254.4,392.7 255.0,390.8 255.5,390.6 256.1,389.7 256.6,387.7 257.2,387.0 257.8,386.8 258.3,385.6 258.9,384.0 259.4,382.1 260.0,380.4 260.6,379.1 262.1,378.3 263.6,378.6 265.0,379.2 265.3,378.8 265.6,379.6 265.8,381.0 266.1,383.5 266.4,385.1 266.7,386.2 266.9,388.8 267.2,390.7 267.5,390.8 267.7,392.3 267.9,394.4 268.2,396.6 268.4,398.1 268.5,398.6 268.7,398.4 268.8,398.3 L268.8,447.5 268.6,449.2 268.3,447.2 268.0,443.8 267.6,441.3 267.2,439.6 266.8,440.1 266.4,439.8 265.9,437.6 265.5,436.1 265.0,434.5 264.6,432.4 264.3,431.8 263.9,431.8 262.7,432.0 261.7,433.6 260.6,435.2 259.7,435.3 258.9,434.9 257.9,435.1 257.0,437.0 256.1,439.8 255.7,440.4 255.4,440.5 255.0,441.9 254.7,442.9 254.3,444.3 254.0,446.1 253.6,447.8 253.3,450.0 252.9,451.8 252.6,453.0 252.2,454.6 251.9,454.9 251.6,454.6 250.8,454.7 250.0,453.5 249.2,450.5 248.3,448.5 247.9,448.0 247.5,450.5 247.1,453.3 246.7,454.0 246.2,455.4 245.8,457.8 245.3,460.6 244.9,462.1 244.4,462.9 243.9,463.1 243.5,464.2 243.1,466.5 242.7,466.5 242.2,464.8 241.8,464.4 241.3,464.9 240.9,463.9 240.5,461.7 240.1,460.2 239.7,457.2 239.2,454.9 238.7,454.1 238.2,453.7 237.6,452.3 236.9,450.5 236.1,449.7 235.4,448.6 234.6,447.8 233.8,447.5 233.0,446.9 232.3,446.5 231.5,446.5 230.8,445.1 230.2,442.5 229.5,440.6 228.8,439.8 228.2,439.8 227.5,440.1 226.8,439.2 226.1,438.2 225.5,436.8 224.8,435.4 224.2,434.6 223.7,433.8 223.1,432.3 222.5,429.5 221.9,427.5 221.3,426.3 220.7,424.4 220.2,422.9 219.6,422.3 219.1,421.7 218.6,422.1 218.1,422.4 216.5,420.3 215.2,420.1 213.6,420.2 212.6,419.0 211.5,420.0 210.3,421.4 209.2,421.6 208.0,423.1 206.9,426.0 206.2,426.6 205.4,426.0 204.7,427.1 204.0,428.2 203.3,429.0 202.6,430.6 202.0,433.2 201.3,435.8 201.1,437.2 200.9,437.1 200.6,436.0 200.4,436.6 200.2,439.7 199.9,442.7 199.7,443.9 199.5,444.0 199.3,445.3 199.1,447.2 198.9,449.1 198.7,449.7 198.4,450.5 198.2,452.4 198.0,453.1 197.8,453.7 197.6,455.3 197.4,457.2 197.2,458.5 197.1,458.7 196.9,459.4 196.3,460.3 195.9,459.3 195.4,457.3 195.0,455.5 194.5,454.2 194.0,451.7 193.5,450.0 193.0,451.2 192.5,452.1 192.0,450.0 191.5,447.1 190.9,445.0 190.4,444.1 189.7,444.1 189.1,444.9 188.0,444.5 186.9,442.5 185.7,440.6 184.5,438.8 183.4,438.0 182.3,439.4 181.7,440.5 181.1,440.3 180.5,441.2 180.0,443.1 179.5,445.4 178.9,446.7 178.4,447.0 177.9,447.2 177.0,447.1 176.1,444.8 175.2,442.8 174.3,441.9 173.4,441.2 172.7,442.0 171.9,443.2 171.2,444.7 170.4,447.4 169.7,450.7 168.9,451.3 168.0,449.0 167.1,447.5 166.2,447.6 165.3,446.9 164.5,445.9 163.9,446.3 163.5,447.0 163.0,447.4 162.6,449.5 162.1,451.9 161.6,453.2 161.0,454.1 160.1,454.1 159.0,452.8 158.0,451.6 156.9,450.7 155.8,450.1 155.1,449.1 154.5,447.5 153.8,446.5 153.2,447.0 152.5,445.9 151.9,443.5 151.2,441.8 150.6,440.6 150.0,439.8 149.4,439.0 148.8,437.6 148.3,435.6 147.7,434.4 147.1,434.0 146.5,434.5 145.9,433.6 145.4,431.7 144.7,430.6 144.1,429.9 143.4,427.9 142.8,426.6 142.1,426.0 141.5,426.1 140.8,425.1 140.2,424.1 139.3,422.5 138.4,420.8 137.5,419.7 136.7,419.8 135.8,419.9 134.9,418.7 133.6,418.5 132.3,419.7 131.0,420.2 129.7,419.5 129.1,419.4 128.4,420.3 127.8,421.7 127.1,422.8 126.5,424.1 125.8,425.9 125.2,427.0 124.5,427.6 123.5,428.2 122.4,427.6 121.4,425.7 120.3,424.2 119.3,424.1 118.7,424.9 118.1,426.2 117.6,427.6 117.0,429.9 116.4,431.5 115.8,432.6 115.2,433.3 114.7,433.0 114.1,434.0 113.2,436.3 112.3,436.9 111.5,436.6 110.6,438.0 109.7,439.1 108.9,439.1 108.2,439.5 107.6,439.1 106.9,438.3 106.3,438.1 105.6,436.6 105.0,434.1 104.3,432.2 103.7,431.9 103.0,431.6 102.4,430.6 101.7,427.7 101.1,424.7 100.4,423.2 99.7,423.7 99.1,424.4 98.4,423.3 97.6,423.0 96.7,424.2 95.8,425.6 95.0,427.1 94.1,427.7 93.2,428.7 92.2,429.5 91.1,430.4 90.1,431.5 89.1,432.3 88.0,432.7 87.3,432.4 86.5,431.1 85.8,429.3 85.0,427.9 84.3,426.6 83.5,425.1 82.8,423.8 82.2,424.9 81.6,427.6 81.1,429.4 80.5,430.4 79.9,430.8 79.3,431.4 78.7,432.6 78.2,432.6 77.6,432.5 77.0,432.9 76.4,433.0 75.8,431.9 75.2,429.8 74.6,428.4 74.0,426.8 73.4,425.0 72.9,423.2 72.4,422.4 71.7,423.7 71.2,425.3 70.6,427.6 70.1,429.5 69.6,430.4 68.9,431.1 68.5,432.0 68.1,431.2 67.7,429.2 67.3,428.1 66.8,427.0 66.3,427.0 65.9,426.8 65.4,424.6 65.0,423.1 64.5,421.9 64.1,419.1 63.7,417.1 63.4,416.6 63.1,415.3 62.8,414.3 62.4,413.2 62.1,412.3 61.8,410.6 61.5,408.4 61.2,407.0 60.9,406.0 60.6,403.6 60.4,402.5 60.1,401.6 59.9,399.5 59.7,398.3 59.5,397.6 59.3,398.2 Z" fill="#0000ff" fill-opacity="0.5"/>
<path d="M59.3,380.8 C59.9,382.3 61.2,385.5 62.8,389.5 C64.4,393.6 67.2,404.0 68.9,405.2 C70.6,406.3 71.7,396.0 73.2,396.5 C74.8,396.9 76.7,407.6 78.5,407.8 C80.2,407.9 82.1,398.1 83.7,397.3 C85.3,396.6 86.6,402.3 88.0,403.4 C89.5,404.6 90.8,405.4 92.4,404.3 C94.0,403.1 95.8,396.6 97.6,396.5 C99.3,396.3 100.9,400.5 102.8,403.4 C104.7,406.3 107.1,412.5 108.9,413.8 C110.6,415.1 111.9,413.3 113.2,411.2 C114.5,409.2 115.5,402.7 116.7,401.7 C117.8,400.7 118.9,406.0 120.2,405.2 C121.5,404.3 123.2,398.2 124.5,396.5 C125.8,394.7 126.8,395.3 128.0,394.7 C129.1,394.1 130.4,393.9 131.5,393.0 C132.5,392.1 133.2,389.2 134.1,389.5 C134.9,389.8 135.5,393.6 136.7,394.7 C137.8,395.9 139.6,394.7 141.0,396.5 C142.5,398.2 143.9,402.0 145.4,405.2 C146.8,408.3 148.3,412.4 149.7,415.6 C151.2,418.8 152.6,423.4 154.1,424.3 C155.5,425.1 156.9,420.5 158.4,420.8 C159.8,421.1 161.5,426.8 162.7,426.0 C163.9,425.2 164.4,416.9 165.6,416.2 C166.8,415.5 168.6,422.3 170.1,421.8 C171.5,421.2 173.2,413.4 174.5,412.8 C175.8,412.3 176.6,418.6 177.9,418.4 C179.2,418.2 180.9,412.7 182.3,411.7 C183.8,410.8 185.3,411.7 186.8,412.8 C188.3,414.0 189.8,416.4 191.3,418.4 C192.8,420.5 194.6,422.9 195.8,425.1 C196.9,427.4 197.1,434.5 198.0,431.8 C198.9,429.2 200.0,413.6 201.3,409.5 C202.6,405.4 204.3,409.5 205.8,407.3 C207.3,405.0 208.6,398.5 210.3,396.1 C212.0,393.7 214.2,391.6 215.9,392.7 C217.5,393.9 218.7,400.0 220.3,402.8 C222.0,405.6 224.1,406.9 225.9,409.5 C227.8,412.1 229.6,415.8 231.5,418.4 C233.4,421.0 235.0,421.8 237.1,425.1 C239.1,428.5 241.9,438.5 243.8,438.5 C245.7,438.5 247.0,426.8 248.3,425.1 C249.6,423.5 250.3,429.6 251.6,428.5 C252.9,427.4 254.4,422.3 256.1,418.4 C257.8,414.5 260.0,406.9 261.7,405.0 C263.4,403.2 265.0,404.3 266.1,407.3 C267.3,410.2 268.4,420.3 268.8,422.9" fill="none" stroke="#0000ff" stroke-width="1.4"/>
<path d="M44.8,288.9 V490.2 H293.4" fill="none" stroke="#3a3a3a" stroke-width="1.3"/>
<path d="M40.8,309.0 H44.8" stroke="#3a3a3a" stroke-width="1.2"/>
<text x="37.8" y="313.3" font-size="13.5" text-anchor="end" font-family="Liberation Sans, sans-serif" font-weight="bold" stroke="#000" stroke-width="0.35">16</text>
<path d="M40.8,349.2 H44.8" stroke="#3a3a3a" stroke-width="1.2"/>
<text x="37.8" y="353.5" font-size="13.5" text-anchor="end" font-family="Liberation Sans, sans-serif" font-weight="bold" stroke="#000" stroke-width="0.35">8</text>
<path d="M40.8,389.4 H44.8" stroke="#3a3a3a" stroke-width="1.2"/>
<text x="37.8" y="393.7" font-size="13.5" text-anchor="end" font-family="Liberation Sans, sans-serif" font-weight="bold" stroke="#000" stroke-width="0.35">0</text>
<path d="M40.8,429.6 H44.8" stroke="#3a3a3a" stroke-width="1.2"/>
<text x="39.4" y="433.9" font-size="13.5" text-anchor="end" font-family="Liberation Sans, sans-serif" font-weight="bold" stroke="#000" stroke-width="0.35">-8</text>
<path d="M40.8,469.8 H44.8" stroke="#3a3a3a" stroke-width="1.2"/>
<text x="39.4" y="474.1" font-size="13.5" text-anchor="end" font-family="Liberation Sans, sans-serif" font-weight="bold" stroke="#000" stroke-width="0.35">-16</text>
<path d="M60.4,490.2 V493.7" stroke="#3a3a3a" stroke-width="1.2"/>
<text x="60.4" y="506.9" font-size="13.5" text-anchor="middle" font-family="Liberation Sans, sans-serif" font-weight="bold" stroke="#000" stroke-width="0.35">0</text>
<path d="M107.0,490.2 V493.7" stroke="#3a3a3a" stroke-width="1.2"/>
<text x="107.0" y="506.9" font-size="13.5" text-anchor="middle" font-family="Liberation Sans, sans-serif" font-weight="bold" stroke="#000" stroke-width="0.35">15</text>
<path d="M153.6,490.2 V493.7" stroke="#3a3a3a" stroke-width="1.2"/>
<text x="153.6" y="506.9" font-size="13.5" text-anchor="middle" font-family="Liberation Sans, sans-serif" font-weight="bold" stroke="#000" stroke-width="0.35">30</text>
<path d="M200.2,490.2 V493.7" stroke="#3a3a3a" stroke-width="1.2"/>
<text x="200.2" y="506.9" font-size="13.5" text-anchor="middle" font-family="Liberation Sans, sans-serif" font-weight="bold" stroke="#000" stroke-width="0.35">45</text>
<path d="M246.8,490.2 V493.7" stroke="#3a3a3a" stroke-width="1.2"/>
<text x="246.8" y="506.9" font-size="13.5" text-anchor="middle" font-family="Liberation Sans, sans-serif" font-weight="bold" stroke="#000" stroke-width="0.35">60</text>
<path d="M293.4,490.2 V493.7" stroke="#3a3a3a" stroke-width="1.2"/>
<text x="293.4" y="506.9" font-size="13.5" text-anchor="middle" font-family="Liberation Sans, sans-serif" font-weight="bold" stroke="#000" stroke-width="0.35">75</text>
<text x="175.7" y="522.1" font-size="13.5" text-anchor="middle" font-family="Liberation Sans, sans-serif" font-weight="bold" stroke="#000" stroke-width="0.35">Time (s)</text>
<text x="20.7" y="390.2" font-size="13.5" text-anchor="middle" transform="rotate(-90 20.7 390.2)" font-family="Liberation Sans, sans-serif" font-weight="bold" stroke="#000" stroke-width="0.35">Amplitude (a.u.)</text>
<path d="M62.2,303.7 H86.3" stroke="#ff3030" stroke-width="1.6"/>
<path d="M62.2,320.6 H86.3" stroke="#2020ff" stroke-width="1.6"/>
<text x="90" y="307.1" font-size="13.5" font-family="Liberation Sans, sans-serif" font-weight="bold" stroke="#000" stroke-width="0.35">Sad</text>
<text x="90" y="324.2" font-size="13.5" font-family="Liberation Sans, sans-serif" font-weight="bold" stroke="#000" stroke-width="0.35">Neutral</text>
<rect x="109.3" y="479.3" width="11.0" height="4.2" fill="#000"/>
<rect x="193.2" y="479.3" width="11.3" height="4.2" fill="#000"/>
<rect x="229.4" y="479.3" width="40.9" height="4.2" fill="#000"/>
<text x="5.2" y="547.2" font-size="12.5" font-family="Liberation Sans, sans-serif" font-weight="bold" stroke="#000" stroke-width="0.35">C</text>
<path d="M60.0,649.6 60.1,650.3 60.4,650.9 60.6,651.6 60.9,653.3 61.3,655.4 61.6,656.9 62.0,658.8 62.3,659.6 62.6,659.7 62.9,660.8 63.5,662.2 64.1,661.6 64.7,659.5 65.3,656.9 65.9,655.2 66.5,654.5 67.1,652.6 67.7,650.4 68.3,649.2 68.9,648.1 70.5,648.5 71.9,650.0 72.9,648.6 73.9,648.0 74.2,649.1 74.5,651.3 74.9,652.0 75.3,653.4 75.7,655.7 76.1,658.2 76.5,660.1 76.8,661.0 77.1,661.4 77.3,662.4 77.5,663.7 77.8,664.1 78.0,665.7 78.2,668.3 78.4,670.6 78.7,672.4 78.9,673.8 79.1,674.4 79.4,674.8 79.6,675.8 79.8,676.8 80.2,676.8 80.6,676.2 81.0,674.3 81.4,672.1 81.8,671.4 82.1,671.3 82.5,670.5 82.8,668.1 82.9,666.6 82.9,664.4 83.0,663.4 83.1,662.5 83.1,661.4 83.2,659.5 83.3,657.9 83.3,657.8 83.4,657.3 83.4,655.8 83.5,654.2 83.6,653.8 83.6,653.5 83.7,652.4 83.7,650.2 83.8,646.6 83.8,644.1 83.9,643.9 83.9,642.7 84.0,641.9 84.0,641.5 84.1,640.1 84.1,638.4 84.2,636.5 84.3,634.7 84.3,634.5 84.4,632.9 84.4,631.3 84.5,630.4 84.6,628.7 84.6,627.0 84.7,626.0 84.8,625.1 84.9,624.3 85.0,623.3 85.1,619.8 85.2,616.7 85.4,615.9 85.5,615.8 85.6,615.9 85.7,614.7 85.9,613.2 86.0,611.2 86.1,609.2 86.3,608.4 86.4,607.9 86.6,607.2 86.7,605.2 86.8,603.6 87.0,602.8 87.1,601.3 87.2,599.7 87.4,600.3 87.5,600.5 87.6,598.9 87.8,596.4 88.1,595.2 88.4,596.8 88.7,599.0 89.0,600.1 89.3,601.1 89.5,602.7 89.8,603.5 90.1,605.0 90.4,607.3 90.7,608.7 91.0,609.6 91.3,611.4 91.6,613.9 91.9,615.5 92.2,617.6 92.5,619.6 92.8,620.6 93.1,621.8 93.4,623.3 93.7,623.9 94.0,622.2 94.3,619.0 94.5,616.7 94.8,615.8 95.1,615.0 95.3,614.3 95.6,612.9 95.9,611.5 96.2,610.9 96.4,609.8 96.7,608.5 97.4,608.3 98.2,609.5 98.9,610.5 99.7,611.5 100.3,612.2 100.9,613.8 101.5,615.5 102.1,616.7 102.7,618.2 103.3,620.0 103.9,621.1 104.5,621.6 105.1,622.1 105.6,623.1 106.0,624.1 106.3,622.8 106.6,620.4 106.9,618.3 107.2,617.0 107.6,616.1 108.1,615.9 108.7,617.7 109.3,619.7 109.9,620.1 110.6,620.6 111.3,620.7 112.2,619.3 113.0,617.6 113.8,615.8 114.6,615.9 115.0,617.1 115.5,617.9 115.9,618.6 116.3,619.2 116.7,620.4 117.1,622.5 117.5,625.9 117.8,628.2 118.0,628.5 118.2,629.1 118.4,629.1 118.6,629.5 118.9,631.6 119.1,633.9 119.3,635.6 119.5,637.1 119.8,638.6 120.0,639.7 120.3,639.8 120.5,639.0 120.9,638.6 121.3,637.9 121.6,637.2 122.0,635.9 122.4,634.0 122.9,631.7 123.3,629.8 123.7,629.0 124.1,628.9 124.5,627.9 125.1,627.1 125.6,628.5 126.2,630.0 126.8,630.6 127.3,632.1 127.9,634.1 128.5,634.6 129.3,633.1 130.1,632.1 130.8,631.3 131.6,631.0 132.4,631.5 133.2,631.8 134.1,631.8 134.9,633.1 135.7,635.4 136.4,637.4 138.0,637.4 139.4,635.3 140.0,633.5 140.6,630.1 141.2,626.7 141.8,624.8 142.4,626.0 142.8,628.7 143.2,631.5 143.6,633.7 144.0,633.5 144.4,633.0 144.9,633.3 145.3,634.4 145.8,635.9 146.3,637.3 146.8,638.3 147.3,640.0 147.9,642.9 148.4,644.9 148.9,645.3 149.3,644.3 150.8,646.0 152.3,646.8 152.6,647.4 153.0,646.2 153.4,644.6 153.8,643.0 154.2,641.3 154.6,639.6 155.0,638.1 155.5,636.5 155.9,635.8 156.3,635.8 157.1,635.9 157.9,636.3 158.7,637.1 159.5,639.2 160.2,641.7 160.5,643.3 160.7,644.6 161.0,645.0 161.2,646.2 161.5,647.0 161.7,648.9 162.0,651.7 162.2,653.3 162.5,654.3 162.7,655.7 163.0,656.6 163.2,656.8 163.5,657.6 163.7,658.7 164.0,659.7 165.0,661.7 165.9,662.7 166.9,662.7 167.9,663.2 168.5,664.5 169.1,666.4 169.6,667.7 170.2,668.2 170.8,669.0 171.4,670.7 171.9,671.8 172.5,671.7 173.1,672.3 173.6,675.1 174.2,677.4 174.8,679.6 175.3,681.5 175.9,680.7 176.2,679.1 176.5,677.4 176.8,676.9 177.1,676.2 177.4,674.3 177.7,672.4 178.0,671.0 178.3,669.7 178.6,668.4 179.0,666.1 179.3,663.3 179.6,661.6 179.9,661.8 180.3,662.4 180.7,662.5 181.1,663.0 181.5,664.1 181.9,666.3 182.3,669.0 182.6,671.0 183.0,672.5 183.4,674.0 183.8,675.7 184.4,678.8 185.0,681.8 185.5,683.9 186.1,685.3 186.7,685.4 187.2,685.4 187.8,684.5 188.0,682.7 188.1,681.2 188.2,680.2 188.4,678.5 188.5,678.0 188.7,678.4 188.8,677.1 189.0,675.7 189.1,674.5 189.3,673.7 189.4,673.5 189.6,672.9 189.7,671.7 189.9,670.1 190.0,668.7 190.2,667.8 190.3,665.9 190.4,663.3 190.6,661.5 190.7,660.8 190.9,660.6 191.0,659.1 191.1,657.0 191.3,655.1 191.4,653.4 191.5,651.6 191.7,650.5 191.8,649.6 191.9,648.0 192.1,646.5 192.2,645.2 192.3,643.3 192.5,642.0 192.6,641.0 192.7,639.7 192.9,637.8 193.0,635.9 193.1,634.5 193.2,633.5 193.3,632.3 193.5,631.0 193.6,629.8 193.7,629.8 193.8,629.4 193.9,627.0 194.0,626.0 194.2,625.8 194.3,624.7 194.4,622.6 194.5,620.2 194.6,620.1 194.8,620.6 195.1,618.1 195.4,615.4 195.7,613.5 196.0,613.9 196.3,613.8 196.6,611.7 196.9,610.3 197.2,610.2 197.5,610.0 197.7,608.0 198.2,607.5 198.6,609.6 199.0,610.8 199.5,611.7 199.9,612.4 200.3,614.1 200.7,615.2 201.1,614.4 201.5,613.8 201.8,613.1 202.2,611.7 202.6,610.9 203.0,609.2 203.3,606.4 203.7,605.7 204.5,604.8 205.2,603.8 205.9,604.0 206.7,604.1 207.3,603.8 207.9,604.0 208.5,604.4 209.1,605.5 209.7,607.6 210.0,608.4 210.2,609.7 210.5,611.5 210.8,612.7 211.1,613.5 211.4,613.8 211.7,615.1 212.0,617.4 212.3,619.6 212.6,620.7 212.9,621.4 213.2,622.3 213.5,624.0 213.8,625.7 214.2,626.4 214.5,627.9 214.8,629.8 215.1,631.0 215.4,632.8 215.8,634.4 216.1,635.3 216.3,636.3 216.6,636.4 216.9,635.2 217.2,633.0 217.5,631.8 217.7,631.0 218.0,629.3 218.2,628.0 218.5,626.3 218.7,624.2 219.0,622.2 219.3,620.4 219.6,621.0 220.8,620.8 222.1,620.7 223.6,622.0 224.5,623.9 225.5,624.8 226.5,623.4 227.5,623.0 228.5,624.2 229.0,624.7 229.4,626.0 229.8,628.2 230.2,630.4 230.7,632.9 231.1,634.3 231.5,635.1 231.9,637.0 232.3,639.1 232.7,639.7 233.1,640.2 233.5,640.3 233.8,639.7 234.1,639.8 234.3,639.9 234.6,638.0 234.8,635.6 235.1,634.9 235.3,633.1 235.6,630.8 235.8,629.7 236.0,629.2 236.3,627.4 236.5,625.0 236.8,623.4 237.0,622.9 237.2,621.7 237.5,619.1 237.8,617.0 238.1,616.3 238.5,615.6 238.8,613.9 239.1,612.1 239.5,611.1 239.8,610.7 240.1,609.5 240.5,608.6 240.8,608.0 241.1,606.8 241.5,606.1 242.2,606.4 243.0,608.2 243.8,610.8 244.6,611.9 245.4,611.5 245.9,610.5 246.5,609.8 247.0,609.9 247.6,608.7 248.2,605.6 248.8,602.4 249.3,600.4 249.9,600.8 250.4,602.0 250.7,602.5 251.0,604.0 251.3,604.4 251.5,603.5 251.8,604.7 252.1,606.5 252.3,607.6 252.6,608.8 252.8,610.8 253.1,613.2 253.3,616.2 253.6,617.5 253.8,616.8 254.1,617.0 254.4,618.6 255.4,621.6 256.4,623.6 257.4,624.0 258.3,622.5 258.7,621.7 259.0,621.1 259.3,619.7 259.6,617.9 259.8,616.4 260.1,615.6 260.4,614.8 260.7,612.4 261.0,610.6 261.3,611.3 261.8,611.8 262.4,612.0 262.9,613.2 263.5,615.9 264.1,618.8 264.7,620.0 265.3,621.1 266.3,620.7 267.5,619.0 268.6,617.2 269.6,614.4 270.3,615.9 L270.3,663.6 269.6,663.0 268.5,666.9 267.4,669.9 266.3,670.9 265.8,669.3 265.3,667.7 264.8,665.6 264.3,663.6 263.8,661.4 263.3,658.9 262.8,657.1 262.3,656.6 261.5,657.3 260.7,658.9 259.9,660.3 259.1,662.1 258.3,664.4 257.4,664.6 256.4,662.5 255.4,660.7 254.4,660.6 253.6,661.6 252.8,662.2 251.9,662.8 251.0,663.9 250.2,665.9 249.4,667.6 248.5,668.4 247.7,669.2 247.0,668.8 246.2,669.4 245.4,671.2 244.1,671.8 242.8,672.1 241.5,674.2 240.1,674.2 238.8,673.6 237.5,675.5 237.2,676.6 236.9,677.8 236.6,679.0 236.3,680.3 236.0,681.9 235.6,682.9 235.3,685.2 235.0,687.4 234.7,687.9 234.4,688.8 234.1,689.8 233.8,690.2 233.5,690.5 233.2,690.8 232.8,690.6 232.5,690.2 232.2,689.2 231.9,687.6 231.5,685.6 231.2,683.6 230.9,682.2 230.5,682.2 230.2,680.8 229.9,678.9 229.5,678.7 228.2,678.2 226.9,676.6 225.6,674.5 224.6,674.0 223.6,672.2 222.6,670.6 221.6,671.0 221.3,671.3 221.0,672.2 220.7,673.8 220.3,674.5 220.0,676.5 219.7,679.8 219.4,682.3 219.1,684.1 218.8,685.4 218.5,686.8 218.2,687.6 217.9,687.3 217.6,686.3 217.4,685.6 217.2,685.7 217.1,685.6 216.9,684.3 216.7,683.6 216.6,682.6 216.4,680.2 216.3,677.3 216.1,676.5 216.0,676.4 215.8,673.7 215.7,670.9 215.5,669.8 215.3,668.7 215.2,667.0 215.0,665.4 214.8,664.6 214.6,663.9 213.7,663.0 212.7,665.4 211.7,668.0 210.7,669.5 209.9,670.4 209.1,671.0 208.3,670.5 207.5,670.6 206.7,672.6 206.1,675.2 205.5,676.9 204.9,677.8 204.3,680.1 203.8,681.9 203.2,681.5 202.7,682.3 202.3,684.9 201.9,687.4 201.5,688.9 201.2,689.8 200.8,690.6 200.5,692.7 200.1,693.9 199.7,693.8 199.0,693.8 198.3,693.3 197.6,692.5 196.8,691.4 196.0,689.4 195.2,687.3 194.4,685.1 193.6,682.9 192.8,682.0 191.5,681.4 190.1,682.5 188.8,685.5 188.5,686.4 188.3,686.6 188.0,687.2 187.8,688.8 187.5,690.6 187.3,691.4 187.0,693.2 186.8,695.5 186.5,697.7 186.2,699.8 186.0,701.0 185.7,702.3 185.4,703.3 185.1,702.8 184.8,702.9 184.5,704.2 184.1,704.2 183.6,702.4 183.2,700.5 182.8,698.8 182.4,697.7 181.9,697.4 181.5,696.3 181.1,694.0 180.6,691.2 180.2,688.9 179.9,688.3 179.3,689.3 178.8,691.2 178.3,693.1 177.8,694.9 177.3,696.4 176.9,698.1 176.4,698.8 175.9,698.8 175.5,698.1 175.1,697.1 174.8,696.0 174.4,694.6 174.0,694.3 173.7,693.1 173.3,690.6 172.8,689.0 172.4,687.6 171.9,686.7 170.9,686.1 169.8,684.7 168.6,683.5 167.3,683.5 166.0,683.1 164.7,683.3 163.4,684.0 162.0,685.4 160.6,686.5 159.3,685.8 158.2,685.0 157.0,686.9 156.0,687.9 155.2,688.7 154.3,687.8 153.8,686.8 153.3,687.4 152.8,685.8 152.3,683.7 151.8,683.0 151.3,681.4 150.8,680.1 150.3,679.5 149.7,678.4 149.2,676.9 148.6,675.4 148.0,674.2 147.5,673.7 146.9,672.9 146.3,671.7 145.5,670.7 144.7,669.7 143.9,668.8 143.1,667.2 142.4,665.9 141.9,665.5 141.4,665.9 141.0,667.7 140.6,669.7 140.2,670.9 139.8,672.1 139.4,671.5 139.0,671.0 138.6,670.8 138.2,670.4 137.8,669.5 137.3,668.9 136.9,667.8 136.4,666.4 135.5,666.9 134.5,668.4 133.5,669.0 132.4,669.7 131.4,669.3 130.5,667.6 129.5,666.3 128.5,666.0 127.1,665.1 125.7,663.7 124.5,664.8 124.3,666.0 124.0,667.8 123.8,669.6 123.6,671.3 123.4,671.8 123.2,671.3 123.0,672.2 122.8,675.2 122.7,678.1 122.5,679.9 122.3,680.8 122.1,682.1 121.9,682.6 121.7,682.3 121.5,681.6 121.2,681.2 121.0,681.1 120.7,681.1 120.4,680.4 120.2,678.0 119.9,675.3 119.6,673.2 119.4,671.8 119.1,670.4 118.8,669.9 118.5,670.8 117.9,669.8 117.3,666.4 116.8,663.9 116.2,662.8 115.6,662.8 115.1,663.2 114.7,664.5 114.3,666.1 113.9,666.7 113.5,666.9 113.1,667.1 112.6,668.1 112.1,671.2 111.7,675.1 111.2,676.6 110.7,676.9 110.1,678.3 109.6,680.4 109.1,680.9 108.6,681.2 107.8,682.1 107.0,681.6 106.2,679.3 105.4,676.4 104.6,675.2 103.6,674.4 102.7,672.0 101.7,670.2 100.7,670.4 99.3,670.7 97.9,671.5 96.7,674.6 96.4,675.9 96.1,676.5 95.8,677.4 95.5,679.8 95.3,682.0 95.0,683.0 94.8,683.4 94.5,685.0 94.2,687.1 94.0,687.6 93.7,687.6 93.5,687.4 93.3,686.4 93.1,685.5 92.9,685.4 92.7,684.9 92.5,683.1 92.3,682.4 92.1,681.4 91.9,679.1 91.7,676.9 91.5,675.8 91.3,673.4 91.1,670.9 90.9,670.0 90.7,669.4 90.4,667.4 90.0,665.6 89.6,663.6 89.3,661.1 88.9,659.7 88.5,659.1 88.1,658.5 87.8,658.0 87.4,657.7 87.0,657.8 86.6,659.6 86.3,662.3 85.9,664.6 85.5,666.5 85.2,668.0 84.8,669.1 84.6,669.3 84.4,669.4 84.2,670.4 84.0,672.4 83.9,674.8 83.7,677.1 83.5,678.5 83.3,678.8 83.1,680.3 82.9,682.2 82.7,682.4 82.5,682.9 82.4,684.7 82.2,686.2 82.0,686.2 81.8,686.8 81.6,688.7 81.4,691.5 81.2,694.5 81.1,696.1 80.9,696.6 80.7,698.7 80.5,700.9 80.3,702.1 80.1,703.5 79.9,705.1 79.8,706.0 79.6,707.4 79.4,707.9 79.2,707.3 79.0,707.7 78.8,708.6 78.7,709.0 78.5,709.4 78.4,708.8 78.3,707.7 78.1,705.7 78.0,704.0 77.8,702.2 77.7,700.8 77.6,699.5 77.4,697.9 77.3,696.8 77.1,695.0 77.0,693.5 76.8,691.9 76.7,689.0 76.6,686.9 76.4,686.2 76.3,685.1 76.1,685.0 76.0,685.8 75.8,685.2 74.5,681.7 72.9,683.3 72.0,684.3 71.0,685.8 69.9,686.8 68.9,687.0 67.9,687.1 67.0,686.7 66.2,687.2 65.5,688.9 64.7,690.8 63.9,692.0 63.3,692.8 62.7,694.1 62.0,695.3 61.4,696.8 60.8,698.7 60.3,701.0 60.0,701.2 Z" fill="#ff0000" fill-opacity="0.5"/>
<path d="M60.0,675.4 C60.6,676.7 62.6,684.0 63.9,683.3 C65.3,682.7 66.6,673.4 67.9,671.4 C69.2,669.4 70.7,671.9 71.9,671.4 C73.0,670.9 73.9,667.8 74.9,668.4 C75.8,669.1 77.0,671.9 77.8,675.4 C78.7,678.9 79.0,689.6 79.8,689.3 C80.6,688.9 81.8,681.7 82.8,673.4 C83.8,665.1 84.9,647.3 85.8,639.6 C86.6,632.0 86.9,628.7 87.8,627.7 C88.6,626.7 89.7,629.7 90.7,633.7 C91.7,637.7 92.7,649.2 93.7,651.6 C94.7,653.9 95.5,649.6 96.7,647.6 C97.9,645.6 99.3,640.3 100.7,639.6 C102.0,639.0 103.5,643.3 104.6,643.6 C105.8,643.9 106.6,641.6 107.6,641.6 C108.6,641.6 109.4,643.9 110.6,643.6 C111.8,643.3 113.4,639.6 114.6,639.6 C115.7,639.6 116.6,639.6 117.5,643.6 C118.5,647.6 119.5,662.5 120.5,663.5 C121.5,664.5 122.5,652.2 123.5,649.6 C124.5,646.9 125.3,647.3 126.5,647.6 C127.6,647.9 129.1,651.6 130.5,651.6 C131.8,651.6 133.1,647.3 134.4,647.6 C135.7,647.9 137.1,654.0 138.4,653.5 C139.7,653.0 141.0,644.9 142.4,644.6 C143.7,644.3 145.0,649.4 146.3,651.6 C147.7,653.7 149.1,655.2 150.3,657.5 C151.5,659.8 152.3,666.4 153.3,665.5 C154.3,664.5 155.1,653.2 156.3,651.6 C157.4,649.9 158.9,652.5 160.2,655.5 C161.5,658.5 162.7,666.2 164.0,669.5 C165.3,672.9 166.6,674.2 167.9,675.5 C169.3,676.8 170.8,675.5 171.9,677.5 C173.1,679.5 174.1,685.1 174.9,687.4 C175.7,689.7 176.1,692.7 176.9,691.4 C177.7,690.1 178.9,680.1 179.9,679.5 C180.9,678.8 181.9,685.4 182.8,687.4 C183.8,689.4 184.7,693.4 185.8,691.4 C187.0,689.4 188.6,680.8 189.8,675.5 C191.0,670.2 191.6,664.9 192.8,659.6 C193.9,654.3 195.6,646.0 196.8,643.7 C197.9,641.4 198.9,644.4 199.7,645.7 C200.6,647.0 200.9,652.6 201.7,651.7 C202.5,650.7 203.7,642.9 204.7,639.7 C205.7,636.6 206.5,632.8 207.7,632.8 C208.8,632.8 210.5,635.9 211.7,639.7 C212.8,643.5 213.8,652.0 214.6,655.6 C215.5,659.3 215.8,662.3 216.6,661.6 C217.5,660.9 218.4,653.8 219.6,651.7 C220.8,649.5 222.1,648.3 223.6,648.7 C225.1,649.0 227.1,650.8 228.5,653.6 C230.0,656.5 231.5,663.1 232.5,665.6 C233.5,668.0 233.7,670.9 234.5,668.5 C235.3,666.2 236.3,656.5 237.5,651.7 C238.6,646.9 240.1,641.2 241.5,639.7 C242.8,638.2 243.9,644.4 245.4,642.7 C246.9,641.1 249.1,630.3 250.4,629.8 C251.7,629.3 252.4,637.1 253.4,639.7 C254.4,642.4 255.0,646.9 256.4,645.7 C257.7,644.5 259.8,633.1 261.3,632.8 C262.8,632.5 263.8,642.9 265.3,643.7 C266.8,644.5 269.4,638.7 270.3,637.7" fill="none" stroke="#ff0000" stroke-width="1.4"/>
<path d="M60.0,659.5 60.3,659.3 60.8,659.9 61.3,661.7 61.9,662.4 62.5,664.1 63.2,666.7 63.8,669.3 64.4,669.7 64.9,669.5 66.0,670.5 67.0,672.1 67.9,673.2 68.9,672.7 70.2,672.5 71.5,672.3 72.9,671.6 73.9,671.0 74.9,671.2 75.9,671.5 76.8,670.6 77.5,669.3 78.1,670.4 78.7,672.9 79.2,674.9 79.8,675.6 80.6,675.3 81.3,674.5 82.1,672.4 82.8,669.8 83.5,669.4 84.2,669.9 85.0,669.6 85.8,668.4 86.7,667.4 87.7,668.2 88.7,670.1 89.7,671.6 91.1,673.1 92.4,673.7 93.7,672.4 94.7,670.7 95.6,669.3 96.6,669.6 97.7,669.3 98.9,669.0 100.2,670.3 101.5,672.2 102.7,672.9 103.4,672.7 103.9,673.3 104.5,674.3 105.0,674.8 105.6,675.8 106.6,677.8 107.6,679.8 108.7,680.8 109.6,680.5 110.4,679.9 111.1,679.4 111.8,678.6 112.6,678.2 113.1,678.2 113.6,676.4 114.2,673.5 114.8,671.1 115.4,669.6 116.0,668.9 116.6,667.8 117.9,666.3 119.2,666.6 120.5,667.5 121.8,667.2 123.2,666.6 124.5,666.0 125.8,664.3 127.1,663.0 128.5,662.4 129.7,661.9 131.0,662.9 132.3,663.9 133.4,664.1 135.0,662.8 136.4,661.3 137.3,661.0 138.3,661.2 139.4,662.7 140.4,664.8 141.4,667.0 142.4,668.8 143.4,669.4 144.4,669.9 145.1,669.9 145.9,670.4 146.7,670.9 147.5,672.3 148.3,674.0 149.1,675.7 149.9,677.0 150.7,677.8 151.5,679.3 152.3,681.0 153.1,681.2 153.9,681.4 154.7,684.2 155.5,686.9 156.3,688.6 157.6,689.4 158.9,688.5 160.2,688.5 161.5,688.1 162.7,686.6 164.0,686.6 165.3,687.8 166.6,687.1 167.9,686.2 169.3,685.6 170.6,685.0 171.9,684.4 173.2,684.2 174.6,685.5 175.9,686.0 176.9,685.0 177.9,684.1 178.9,683.3 179.9,682.0 180.8,680.3 181.8,679.9 182.8,680.2 183.8,680.5 185.0,680.7 186.3,681.1 187.6,681.1 188.8,682.2 189.9,684.1 190.9,684.3 191.9,684.4 192.8,685.3 194.3,684.2 195.8,683.2 196.2,685.0 196.7,687.5 197.2,688.9 197.7,689.2 198.3,689.5 198.8,690.8 199.3,693.0 199.7,694.6 200.0,694.6 200.3,693.6 200.6,692.6 200.9,691.4 201.1,688.7 201.3,686.1 201.6,684.6 201.9,683.5 202.1,683.2 202.4,682.5 202.7,680.2 203.4,676.6 204.2,675.0 205.1,674.5 205.9,673.4 206.7,672.5 208.0,671.1 209.3,671.2 210.7,671.3 211.7,670.5 212.6,670.4 213.6,670.3 214.6,669.2 216.0,666.9 217.4,665.4 218.6,665.7 219.0,666.0 219.4,666.5 219.8,668.6 220.1,670.2 220.4,670.2 220.8,671.3 221.2,674.3 221.6,677.0 222.5,678.0 223.5,677.6 224.5,677.7 225.6,678.6 226.5,680.6 227.5,681.6 228.5,682.1 229.5,682.5 230.5,683.2 231.5,684.4 232.5,686.5 233.5,688.6 234.5,689.5 235.3,689.9 236.2,689.8 237.0,689.0 237.8,689.4 238.6,691.8 239.5,694.2 240.2,695.4 240.9,696.0 241.7,696.4 242.4,697.9 243.1,699.9 243.8,702.2 244.4,703.7 245.0,703.1 245.5,701.2 246.0,698.7 246.4,697.0 246.9,695.8 247.4,693.5 247.9,691.6 248.4,692.0 249.6,692.6 250.8,693.2 252.1,694.1 253.4,693.7 254.2,691.9 255.1,691.1 255.9,691.7 256.8,690.6 257.6,688.8 258.3,687.6 259.0,686.6 259.6,685.1 260.1,683.5 260.7,682.7 261.2,681.8 261.8,680.5 262.3,679.4 263.3,677.5 264.3,675.7 265.3,675.0 266.3,675.4 266.9,676.6 267.5,678.5 268.2,680.2 268.8,681.4 269.4,682.2 269.9,683.8 270.3,683.4 L270.3,731.1 270.1,730.1 269.8,730.4 269.6,729.2 269.2,727.3 268.9,725.0 268.5,723.6 268.1,724.0 267.8,724.1 267.4,721.3 267.0,719.3 266.6,718.5 266.3,718.1 265.0,717.7 263.7,717.7 262.3,718.2 261.5,720.2 260.7,722.4 259.8,721.5 259.0,721.1 258.1,723.1 257.4,724.4 256.9,725.1 256.5,726.6 256.1,728.8 255.7,731.1 255.3,732.8 254.9,734.2 254.5,734.9 254.2,735.6 253.8,736.8 253.4,738.2 252.4,738.2 251.5,736.6 250.5,734.6 249.4,732.6 248.9,732.0 248.5,733.7 248.0,736.4 247.5,739.0 247.0,740.6 246.5,741.8 246.0,741.7 245.4,741.6 244.9,742.8 244.4,744.2 243.4,744.2 242.4,743.5 241.4,743.1 240.4,742.5 239.5,741.3 238.6,739.5 237.9,738.1 237.2,737.2 236.4,736.1 235.5,733.7 234.8,731.5 234.1,731.2 233.3,731.9 232.5,731.7 231.7,730.0 230.9,728.3 230.2,727.6 229.5,726.5 228.4,724.5 227.4,724.1 226.5,724.9 225.6,724.5 225.0,722.7 224.4,719.5 223.9,717.5 223.3,717.2 222.7,718.3 222.2,718.0 221.6,715.8 220.8,713.3 220.0,712.1 219.2,710.5 218.4,708.8 217.6,708.8 216.3,709.7 215.0,711.4 213.6,712.9 212.7,711.9 211.7,711.4 210.7,712.6 209.7,713.2 208.7,714.1 208.0,715.4 207.2,717.1 206.5,717.2 205.8,716.7 205.1,718.3 204.4,719.7 203.7,720.7 203.4,722.5 203.1,725.5 202.9,728.4 202.6,729.4 202.3,729.6 202.0,730.7 201.8,731.8 201.5,733.0 201.3,735.2 201.0,737.0 200.8,737.8 200.5,738.7 200.3,739.6 200.0,741.1 199.7,742.1 198.9,742.0 198.1,739.8 197.4,736.3 196.6,733.6 195.8,732.1 194.8,731.8 193.8,732.0 192.8,732.2 191.8,731.5 190.8,730.1 189.8,728.9 188.8,727.5 187.8,727.8 186.5,728.7 185.2,728.4 183.8,726.8 182.8,726.0 181.9,726.2 180.9,726.4 179.9,726.1 179.1,726.1 178.3,728.0 177.5,731.2 176.7,733.2 175.9,733.3 174.9,732.4 173.9,730.6 172.9,728.6 171.9,727.7 170.9,728.8 169.9,730.4 168.9,730.7 167.9,730.5 166.7,729.9 165.4,729.2 164.0,728.6 162.9,728.8 161.7,729.8 160.5,731.1 159.3,732.2 158.2,732.2 156.8,731.5 155.5,731.9 154.3,731.7 153.5,729.1 152.7,727.4 151.9,728.7 151.1,728.1 150.3,725.3 149.7,723.6 149.2,723.2 148.6,722.8 148.0,721.6 147.5,719.6 146.9,716.8 146.3,716.6 145.8,717.4 145.2,715.3 144.6,711.9 144.1,711.1 143.5,711.8 142.9,710.5 142.4,708.3 141.0,708.3 139.7,710.6 138.4,710.7 137.4,709.3 136.5,709.6 135.5,708.1 134.4,706.4 133.3,705.7 132.0,706.8 130.7,708.7 129.5,708.8 128.5,709.1 127.5,710.7 126.5,712.8 125.5,714.5 124.5,714.3 123.5,713.8 122.5,714.4 121.5,715.6 120.5,717.0 119.5,717.7 118.5,718.2 117.5,717.7 116.6,717.3 115.6,718.7 114.6,720.2 113.6,721.5 112.6,723.2 111.6,722.7 110.6,722.3 109.6,723.0 108.9,723.8 108.2,722.6 107.5,721.0 106.8,719.5 106.1,719.5 105.3,718.7 104.6,717.3 103.8,716.0 103.0,714.7 102.2,713.3 101.3,712.9 100.5,712.5 99.7,712.4 98.7,712.2 97.7,712.4 96.7,713.0 95.7,714.1 94.7,714.5 93.5,715.4 92.2,716.4 91.0,717.3 89.7,718.2 88.8,717.8 87.8,716.0 86.8,714.5 85.8,714.3 84.8,715.8 84.1,715.9 83.4,715.2 82.7,716.1 81.9,717.8 81.2,719.4 80.5,720.0 79.8,720.1 79.1,720.6 78.3,720.6 77.6,719.9 76.8,718.3 76.1,716.0 75.5,714.2 74.9,713.0 74.1,712.7 73.5,714.9 73.0,717.4 72.4,718.4 71.9,719.5 71.3,720.7 70.7,719.1 70.2,716.0 69.6,714.0 68.9,713.2 68.4,711.9 67.9,710.9 67.3,710.9 66.8,709.0 66.2,707.7 65.6,707.1 64.9,705.8 63.9,704.9 62.8,703.9 61.6,701.8 60.7,701.5 60.0,701.2 Z" fill="#0000ff" fill-opacity="0.5"/>
<path d="M60.0,675.4 C60.6,676.7 62.4,680.0 63.9,683.3 C65.4,686.6 67.2,694.1 68.9,695.2 C70.6,696.4 72.2,689.6 73.9,690.3 C75.5,690.9 77.0,699.2 78.8,699.2 C80.6,699.2 83.0,690.8 84.8,690.3 C86.6,689.8 88.1,695.4 89.7,696.2 C91.4,697.1 93.1,696.4 94.7,695.2 C96.4,694.1 98.0,689.3 99.7,689.3 C101.3,689.3 103.0,692.8 104.6,695.2 C106.3,697.7 107.9,703.2 109.6,704.2 C111.3,705.2 113.1,703.0 114.6,701.2 C116.1,699.4 117.2,694.2 118.5,693.2 C119.9,692.3 120.9,696.2 122.5,695.2 C124.2,694.2 127.0,688.3 128.5,687.3 C130.0,686.3 130.3,689.9 131.4,689.3 C132.6,688.6 134.1,683.5 135.4,683.3 C136.7,683.2 138.1,687.0 139.4,688.3 C140.7,689.6 141.9,688.8 143.4,691.3 C144.8,693.7 146.8,700.5 148.3,703.2 C149.8,705.8 151.0,705.8 152.3,707.1 C153.6,708.5 154.9,710.8 156.3,711.1 C157.6,711.5 158.9,709.8 160.2,709.1 C161.5,708.5 162.5,707.8 164.0,707.3 C165.4,706.8 167.5,705.8 168.9,706.3 C170.4,706.8 171.6,710.8 172.9,710.3 C174.2,709.8 175.7,703.5 176.9,703.3 C178.0,703.1 178.5,709.3 179.9,709.3 C181.2,709.3 183.2,703.6 184.8,703.3 C186.5,703.0 188.1,706.5 189.8,707.3 C191.5,708.1 193.3,706.5 194.8,708.3 C196.3,710.1 197.4,719.7 198.7,718.2 C200.1,716.7 201.2,702.8 202.7,699.3 C204.2,695.9 206.0,699.0 207.7,697.4 C209.3,695.7 211.0,691.1 212.6,689.4 C214.3,687.7 215.8,686.8 217.6,687.4 C219.4,688.1 221.8,691.1 223.6,693.4 C225.4,695.7 226.7,698.8 228.5,701.3 C230.4,703.8 232.7,706.3 234.5,708.3 C236.3,710.3 237.8,710.8 239.5,713.2 C241.1,715.7 242.9,723.2 244.4,723.2 C245.9,723.2 247.1,714.6 248.4,713.2 C249.7,711.9 250.9,716.2 252.4,715.2 C253.9,714.2 255.7,710.1 257.4,707.3 C259.0,704.5 260.8,700.0 262.3,698.3 C263.8,696.7 265.0,695.2 266.3,697.4 C267.6,699.5 269.6,708.9 270.3,711.3" fill="none" stroke="#0000ff" stroke-width="1.4"/>
<path d="M45.3,563.0 V765.0 H296.2" fill="none" stroke="#3a3a3a" stroke-width="1.3"/>
<path d="M41.3,563.0 H45.3" stroke="#3a3a3a" stroke-width="1.2"/>
<text x="38.6" y="567.3" font-size="13.5" text-anchor="end" font-family="Liberation Sans, sans-serif" font-weight="bold" stroke="#000" stroke-width="0.35">30</text>
<path d="M41.3,603.4 H45.3" stroke="#3a3a3a" stroke-width="1.2"/>
<text x="38.6" y="607.7" font-size="13.5" text-anchor="end" font-family="Liberation Sans, sans-serif" font-weight="bold" stroke="#000" stroke-width="0.35">20</text>
<path d="M41.3,643.8 H45.3" stroke="#3a3a3a" stroke-width="1.2"/>
<text x="40.2" y="648.1" font-size="13.5" text-anchor="end" font-family="Liberation Sans, sans-serif" font-weight="bold" stroke="#000" stroke-width="0.35">10</text>
<path d="M41.3,684.2 H45.3" stroke="#3a3a3a" stroke-width="1.2"/>
<text x="39.4" y="688.5" font-size="13.5" text-anchor="end" font-family="Liberation Sans, sans-serif" font-weight="bold" stroke="#000" stroke-width="0.35">0</text>
<path d="M41.3,724.6 H45.3" stroke="#3a3a3a" stroke-width="1.2"/>
<text x="39.4" y="728.9" font-size="13.5" text-anchor="end" font-family="Liberation Sans, sans-serif" font-weight="bold" stroke="#000" stroke-width="0.35">-10</text>
<path d="M41.3,765.0 H45.3" stroke="#3a3a3a" stroke-width="1.2"/>
<text x="39.4" y="769.3" font-size="13.5" text-anchor="end" font-family="Liberation Sans, sans-serif" font-weight="bold" stroke="#000" stroke-width="0.35">-20</text>
<path d="M60.7,765.0 V768.5" stroke="#3a3a3a" stroke-width="1.2"/>
<text x="60.7" y="782.0" font-size="13.5" text-anchor="middle" font-family="Liberation Sans, sans-serif" font-weight="bold" stroke="#000" stroke-width="0.35">0</text>
<path d="M107.8,765.0 V768.5" stroke="#3a3a3a" stroke-width="1.2"/>
<text x="107.8" y="782.0" font-size="13.5" text-anchor="middle" font-family="Liberation Sans, sans-serif" font-weight="bold" stroke="#000" stroke-width="0.35">15</text>
<path d="M154.9,765.0 V768.5" stroke="#3a3a3a" stroke-width="1.2"/>
<text x="154.9" y="782.0" font-size="13.5" text-anchor="middle" font-family="Liberation Sans, sans-serif" font-weight="bold" stroke="#000" stroke-width="0.35">30</text>
<path d="M202.0,765.0 V768.5" stroke="#3a3a3a" stroke-width="1.2"/>
<text x="202.0" y="782.0" font-size="13.5" text-anchor="middle" font-family="Liberation Sans, sans-serif" font-weight="bold" stroke="#000" stroke-width="0.35">45</text>
<path d="M249.1,765.0 V768.5" stroke="#3a3a3a" stroke-width="1.2"/>
<text x="249.1" y="782.0" font-size="13.5" text-anchor="middle" font-family="Liberation Sans, sans-serif" font-weight="bold" stroke="#000" stroke-width="0.35">60</text>
<path d="M296.2,765.0 V768.5" stroke="#3a3a3a" stroke-width="1.2"/>
<text x="296.2" y="782.0" font-size="13.5" text-anchor="middle" font-family="Liberation Sans, sans-serif" font-weight="bold" stroke="#000" stroke-width="0.35">75</text>
<text x="177" y="797.0" font-size="13.5" text-anchor="middle" font-family="Liberation Sans, sans-serif" font-weight="bold" stroke="#000" stroke-width="0.35">Time (s)</text>
<text x="21.3" y="664" font-size="13.5" text-anchor="middle" transform="rotate(-90 21.3 664)" font-family="Liberation Sans, sans-serif" font-weight="bold" stroke="#000" stroke-width="0.35">Amplitude (a.u.)</text>
<path d="M57.7,572.4 H81.9" stroke="#ff3030" stroke-width="1.6"/>
<path d="M57.7,589.4 H81.9" stroke="#2020ff" stroke-width="1.6"/>
<text x="85.2" y="576.3" font-size="13.5" font-family="Liberation Sans, sans-serif" font-weight="bold" stroke="#000" stroke-width="0.35">Happy</text>
<text x="85.2" y="593.4" font-size="13.5" font-family="Liberation Sans, sans-serif" font-weight="bold" stroke="#000" stroke-width="0.35">Neutral</text>
<rect x="87.9" y="755.5" width="6.8" height="4.2" fill="#000"/>
<rect x="104.2" y="755.5" width="16.1" height="4.2" fill="#000"/>
<rect x="143" y="755.5" width="24.8" height="4.2" fill="#000"/>
<rect x="196" y="755.5" width="17.8" height="4.2" fill="#000"/>
<rect x="235.6" y="755.5" width="35.3" height="4.2" fill="#000"/>
<rect x="299.5" y="700" width="20" height="106" fill="#fff"/>
<g clip-path="url(#clipA)" filter="url(#hb)">
<rect x="336.5" y="34" width="335" height="182.3" fill="rgb(54, 243, 204)"/>
<path stroke="rgb(32, 232, 232)" stroke-width="1.35" fill="none" d="M357.5 34.7h8m115 0h2m76 0h7M421.5 36.0h5m58 0h3m75 0h8M440.5 37.3h9m24 0h2m41 0h6m62 0h9m56 0h8M336.5 38.6h9m135 0h3m14 0h3m24 0h21m13 0h2M380.5 39.9h6m24 0h3m73 0h3m41 0h12m19 0h6M418.5 41.2h5m47 0h6m22 0h11m71 0h3M359.5 42.5h3m183 0h5M336.5 43.8h3m61 0h3m34 0h7m32 0h6m91 0h7m64 0h6M450.5 45.1h27m39 0h4m104 0h3M350.5 46.4h13m71 0h3m48 0h16m10 0h6m43 0h7m32 0h2M342.5 47.7h12m47 0h5m28 0h5m24 0h2m11 0h3m66 0h11m12 0h4m50 0h6M347.5 49.0h5m106 0h8m11 0h9m26 0h4m4 0h9M364.5 50.3h8m200 0h8m78 0h8M361.5 51.6h6m30 0h8m30 0h6m17 0h9m27 0h5M508.5 52.9h3m94 0h2m16 0h5M346.5 54.2h4m26 0h2m134 0h6M352.5 55.5h6m114 0h3m97 0h9M347.5 56.8h9m58 0h7m7 0h8m56 0h8M430.5 58.1h9m75 0h3m83 0h4M336.5 59.4h5m138 0h2m16 0h3m4 0h10m101 0h5M374.5 60.7h4m150 0h1M336.5 62.0h6m49 0h5m36 0h4m3 0h1m10 0h15m204 0h2M336.5 63.3h2m112 0h7m65 0h1m35 0h3m92 0h1M383.5 64.6h7m46 0h3m54 0h4m77 0h1M367.5 65.9h6m10 0h4m111 0h8M387.5 67.2h19m52 0h9m17 0h10m122 0h9M382.5 68.5h11m61 0h5m14 0h3m12 0h8m75 0h4M441.5 69.8h5m64 0h8m6 0h6m13 0h3m51 0h5M451.5 71.1h10m52 0h5m50 0h12m28 0h5M350.5 72.4h4m18 0h8m72 0h8m48 0h5m25 0h4m86 0h8M435.5 73.7h10m36 0h1m116 0h3M431.5 75.0h12m130 0h4m13 0h4m63 0h4M341.5 76.3h8m49 0h8m65 0h2m152 0h1M342.5 77.6h15m31 0h3m88 0h3m51 0h6m17 0h3M508.5 78.9h5m84 0h13M374.5 80.2h2m19 0h4m65 0h7m51 0h10m132 0h3M444.5 81.5h3m19 0h5m11 0h31m38 0h2M451.5 82.8h5m22 0h5m9 0h10m13 0h2m78 0h3M388.5 84.1h1m73 0h8m32 0h9m29 0h4M345.5 85.4h7m7 0h4m30 0h7m168 0h5M383.5 86.7h3m24 0h8M343.5 88.0h7m46 0h5m22 0h4m67 0h4m9 0h6m3 0h3m14 0h8m119 0h6M356.5 89.3h9m79 0h8m35 0h4m33 0h8m9 0h3m17 0h5M373.5 90.6h2m238 0h5M372.5 91.9h7m77 0h2m158 0h1m12 0h4M374.5 93.2h8m60 0h7m37 0h6m12 0h6m143 0h2M364.5 94.5h6m8 0h6m3 0h6m104 0h7M351.5 95.9h4m25 0h2m82 0h3m43 0h4m18 0h2m24 0h11m82 0h6M376.5 97.2h15m28 0h10m4 0h5m65 0h4m144 0h6M385.5 98.5h6m30 0h6m32 0h8m21 0h1m4 0h5m59 0h4m49 0h5m6 0h8M351.5 99.8h6m43 0h8m50 0h7m104 0h5m18 0h9m4 0h6M341.5 101.1h7m57 0h1m10 0h10m50 0h6m66 0h5M380.5 102.4h6m8 0h8m164 0h6M391.5 103.7h6m32 0h11m44 0h6m38 0h2m5 0h5m13 0h10m61 0h1M358.5 105.0h5m136 0h11M360.5 106.3h3m46 0h5M351.5 107.6h3m39 0h4m89 0h3m65 0h4m6 0h9m3 0h6M371.5 108.9h6m24 0h1m30 0h2m29 0h7m50 0h5m29 0h5m30 0h2M360.5 110.2h10m48 0h8m70 0h6m26 0h5m6 0h8m24 0h3m40 0h5m23 0h5M336.5 111.5h4m119 0h4m41 0h1m35 0h6m7 0h4m111 0h3M341.5 112.8h1m143 0h14m41 0h8M385.5 114.1h8m7 0h6m85 0h3m165 0h1M426.5 116.7h6m119 0h1m61 0h10M414.5 118.0h7m23 0h12m14 0h3m5 0h5M347.5 119.3h3m29 0h9m14 0h6m37 0h6m20 0h6m150 0h9M380.5 120.6h4m140 0h6m70 0h2M506.5 121.9h4M506.5 123.2h5m44 0h8m58 0h4M408.5 124.5h8m110 0h1m8 0h6m84 0h2m33 0h4M388.5 125.8h7m10 0h8m18 0h10m20 0h8M393.5 127.1h6m96 0h22m25 0h10m15 0h4m19 0h3M345.5 128.4h7m48 0h3m125 0h1m134 0h5M403.5 129.7h1m25 0h1m104 0h9m1 0h4m13 0h2m17 0h6m27 0h3M394.5 131.0h13m5 0h3m19 0h6m10 0h11m97 0h10m84 0h15M358.5 132.3h2m30 0h2m4 0h4m75 0h3m58 0h8m63 0h7M484.5 133.6h10m37 0h5m19 0h7m56 0h8M338.5 134.9h7m67 0h4m80 0h5m28 0h2M355.5 136.2h3m69 0h6m27 0h6m72 0h7M401.5 137.5h9m96 0h11m24 0h10M435.5 138.8h10m6 0h1m26 0h4m71 0h4M358.5 140.1h8m25 0h7m102 0h4m29 0h6M346.5 141.4h14m8 0h8m36 0h4m111 0h4M414.5 142.7h10m90 0h1m22 0h3m5 0h8M427.5 144.0h12m27 0h15m4 0h10m57 0h8m23 0h4m39 0h4m17 0h3M493.5 145.3h3m74 0h9M372.5 146.6h5M339.5 147.9h5m41 0h5m73 0h8m51 0h4M587.5 149.2h8m32 0h9M361.5 150.5h7m49 0h4m18 0h3m51 0h5m8 0h5m20 0h4m16 0h4M343.5 151.8h6m19 0h7m22 0h1m56 0h5m35 0h10M341.5 153.1h3m5 0h7m90 0h18m94 0h10M386.5 154.4h5m34 0h6M489.5 155.8h2m171 0h1M404.5 157.1h10m7 0h2m34 0h3M436.5 158.4h3m56 0h8m40 0h6m68 0h7M413.5 159.7h6m39 0h3m66 0h8m23 0h4m12 0h11M402.5 161.0h1m60 0h8m24 0h1m28 0h2m126 0h7M336.5 162.3h3m10 0h3m46 0h10m7 0h4m17 0h6m33 0h5m22 0h6m68 0h4m80 0h11M425.5 163.6h10m75 0h4m22 0h15m25 0h4m65 0h9M347.5 164.9h11m135 0h20m57 0h5M561.5 166.2h3M359.5 167.5h6m136 0h2m65 0h5m28 0h3m13 0h5M344.5 168.8h10m66 0h10m70 0h11m28 0h6m43 0h4M352.5 170.1h2m111 0h12m71 0h2M353.5 171.4h1m134 0h3m54 0h2m11 0h3m40 0h4M356.5 172.7h13m64 0h1m8 0h5m128 0h5M345.5 174.0h5m29 0h7m78 0h10m27 0h7m65 0h4M336.5 175.3h2m87 0h4m4 0h7m17 0h3m25 0h8m57 0h2m99 0h9M365.5 176.6h2m8 0h3m97 0h6m15 0h12m50 0h6m5 0h7M403.5 177.9h3m7 0h10m85 0h14m27 0h4m76 0h3M360.5 179.2h2m33 0h4m17 0h9m94 0h3m88 0h3M351.5 180.5h3m20 0h4m3 0h4m95 0h2m79 0h7m36 0h11m31 0h10M336.5 181.8h2m59 0h6m20 0h4m68 0h8m25 0h7M366.5 183.1h5m21 0h8m101 0h11m64 0h18m15 0h6m28 0h5M343.5 184.4h9m94 0h5m18 0h2m6 0h3m52 0h13m26 0h10M514.5 185.7h13m25 0h3M420.5 187.0h5m27 0h5m58 0h4m28 0h6m92 0h8M339.5 188.3h12m51 0h2m15 0h3m22 0h10m53 0h2m10 0h4M391.5 189.6h13m67 0h1m42 0h7m28 0h11m43 0h4m47 0h3M336.5 190.9h14m25 0h6m58 0h11m46 0h7m41 0h5m98 0h6M383.5 192.2h5m106 0h3m27 0h7m29 0h7m30 0h10m55 0h2M336.5 193.5h2m16 0h4m173 0h7m35 0h7m13 0h16m19 0h2m39 0h2M344.5 194.8h22m137 0h9m17 0h5m90 0h2M346.5 196.1h9m25 0h4m11 0h4m36 0h7m173 0h5M390.5 197.4h11m4 0h5m39 0h4m49 0h6m16 0h9m43 0h4m32 0h3M339.5 198.7h18m32 0h4m10 0h8m60 0h3m68 0h3m78 0h4M423.5 200.0h9m58 0h5m69 0h5m2 0h6m41 0h4m13 0h2m9 0h7M381.5 201.3h5m68 0h3m122 0h2m57 0h1M377.5 202.6h21m14 0h7m22 0h25m27 0h5m54 0h9m52 0h16M424.5 203.9h20m37 0h6m135 0h11M354.5 205.2h6m9 0h14m141 0h7m64 0h5m13 0h3M441.5 206.5h3m74 0h8m7 0h4m24 0h4M419.5 207.8h6m92 0h3m41 0h4m32 0h8m25 0h5M449.5 209.1h5m56 0h7m20 0h3M366.5 210.4h5m55 0h8m87 0h7m42 0h5m8 0h13M336.5 211.7h5m66 0h5m29 0h6m14 0h7m62 0h4m24 0h5m77 0h3m24 0h3M351.5 213.0h2m69 0h2m25 0h3m43 0h2m76 0h5M517.5 214.3h7M379.5 215.6h17m9 0h6m72 0h4m12 0h9m35 0h9"/>
<path stroke="rgb(105, 248, 150)" stroke-width="1.35" fill="none" d="M336.5 34.7h4m47 0h3m15 0h9m32 0h7m18 0h3m14 0h11m40 0h6m36 0h22m8 0h16m9 0h35M357.5 36.0h2m19 0h2m18 0h2m9 0h7m38 0h1m55 0h3m34 0h8m27 0h4m9 0h25m9 0h27m7 0h8M357.5 37.3h12m13 0h16m68 0h2m19 0h8m3 0h15m13 0h17m17 0h11m26 0h32m6 0h10m17 0h9M358.5 38.6h6m33 0h9m3 0h7m45 0h11m33 0h9m51 0h6m8 0h19m6 0h3m7 0h7m10 0h17M370.5 39.9h7m41 0h14m10 0h8m7 0h5m17 0h3m16 0h6m9 0h11m26 0h1m31 0h8m6 0h61M364.5 41.2h8m12 0h1m19 0h7m74 0h6m26 0h16m9 0h10m2 0h9m10 0h3m10 0h4m6 0h72M336.5 42.5h1m3 0h6m96 0h15m22 0h13m2 0h17m68 0h32m11 0h26m8 0h15M377.5 43.8h13m70 0h7m30 0h3m21 0h9m10 0h4m17 0h3m21 0h18m1 0h10m1 0h26m12 0h15M336.5 45.1h37m23 0h17m7 0h8m58 0h18m39 0h18m12 0h9m5 0h4m18 0h12m11 0h39M336.5 46.4h3m74 0h8m21 0h22m56 0h4m51 0h20m16 0h11m7 0h42M383.5 47.7h11m50 0h7m33 0h6m5 0h2m63 0h3m13 0h38m22 0h35M358.5 49.0h6m17 0h10m6 0h8m26 0h23m36 0h13m41 0h23m12 0h13m8 0h27m10 0h10m13 0h3m7 0h1M420.5 50.3h6m25 0h9m14 0h7m4 0h9m4 0h17m29 0h10m7 0h8m16 0h19m4 0h17m11 0h9m25 0h1M336.5 51.6h10m37 0h10m25 0h13m17 0h5m26 0h10m23 0h10m32 0h1m15 0h24m25 0h11m4 0h30m2 0h5M370.5 52.9h13m17 0h2m117 0h2m22 0h1m10 0h9m5 0h7m9 0h17m30 0h29M336.5 54.2h5m58 0h1m10 0h4m11 0h3m42 0h19m32 0h6m3 0h6m9 0h10m4 0h84m9 0h19M363.5 55.5h5m12 0h9m14 0h17m35 0h14m12 0h22m39 0h4m14 0h6m18 0h80M361.5 56.8h21m3 0h7m48 0h4m62 0h8m10 0h12m27 0h8m25 0h17m6 0h9m5 0h13m8 0h17M336.5 58.1h3m20 0h8m7 0h6m36 0h7m21 0h8m7 0h3m19 0h7m18 0h3m18 0h12m26 0h5m8 0h12m18 0h6m8 0h9m7 0h33M357.5 59.4h6m5 0h10m27 0h11m16 0h6m29 0h3m16 0h7m24 0h11m4 0h16m13 0h5m11 0h3m6 0h26m13 0h16m10 0h3M357.5 60.7h6m33 0h6m9 0h15m19 0h17m40 0h8m58 0h22m5 0h24m12 0h19m2 0h8m9 0h2M346.5 62.0h4m10 0h7m52 0h3m77 0h6m9 0h8m27 0h5m24 0h12m15 0h13m6 0h2m6 0h25M409.5 63.3h10m3 0h25m16 0h3m4 0h7m18 0h16m55 0h3m12 0h4m5 0h4m15 0h36M369.5 64.6h8m50 0h5m11 0h6m38 0h1m34 0h6m5 0h8m8 0h18m23 0h15m14 0h6m7 0h39M354.5 65.9h8m33 0h10m11 0h15m28 0h5m25 0h4m23 0h6m18 0h27m9 0h12m30 0h11m8 0h8m3 0h14M336.5 67.2h8m23 0h6m61 0h5m8 0h6m45 0h7m7 0h2m12 0h12m14 0h11m3 0h7m10 0h3m3 0h18m21 0h5m4 0h12m3 0h19M336.5 68.5h2m27 0h9m28 0h13m10 0h7m33 0h4m12 0h2m36 0h10m12 0h10m9 0h7m10 0h13m10 0h9m4 0h58M340.5 69.8h10m17 0h7m39 0h4m13 0h7m24 0h29m66 0h11m12 0h13m13 0h4m13 0h30m8 0h11M336.5 71.1h5m37 0h17m5 0h7m84 0h3m11 0h4m12 0h14m25 0h5m17 0h5m4 0h14m12 0h7m11 0h28m3 0h5M336.5 72.4h7m73 0h17m33 0h10m26 0h1m45 0h11m3 0h10m15 0h11m12 0h14m16 0h3m6 0h22M353.5 73.7h9m23 0h5m23 0h12m72 0h12m16 0h10m19 0h12m10 0h6m39 0h25m5 0h19M341.5 75.0h9m4 0h5m119 0h28m20 0h21m49 0h22m9 0h22m16 0h6M336.5 76.3h1m49 0h4m42 0h5m22 0h6m22 0h15m50 0h9m3 0h8m18 0h11m30 0h29m4 0h7M336.5 77.6h2m26 0h3m28 0h5m38 0h8m39 0h8m1 0h9m20 0h3m19 0h7m9 0h12m6 0h11m9 0h3m11 0h13m4 0h20m8 0h4m3 0h6M356.5 78.9h8m35 0h9m35 0h7m7 0h4m23 0h4m12 0h5m21 0h18m8 0h7m15 0h7m4 0h9m19 0h20m2 0h14m3 0h19M383.5 80.2h8m41 0h10m38 0h2m15 0h8m10 0h3m26 0h16m6 0h3m28 0h14m24 0h24M340.5 81.5h20m59 0h4m29 0h4m19 0h4m38 0h10m55 0h14m12 0h9m9 0h39M343.5 82.8h8m4 0h7m64 0h6m30 0h2m59 0h25m23 0h2m12 0h7m12 0h54m6 0h7M338.5 84.1h24m50 0h5m72 0h9m17 0h13m24 0h4m9 0h22m3 0h11m7 0h6m7 0h11m3 0h14m8 0h14M368.5 85.4h10m40 0h6m5 0h11m49 0h6m11 0h5m23 0h3m17 0h10m13 0h9m10 0h17m3 0h7m10 0h36M342.5 86.7h1m17 0h19m23 0h1m21 0h4m43 0h2m12 0h6m10 0h8m4 0h6m16 0h14m6 0h13m12 0h16m4 0h27m3 0h41M368.5 88.0h24m13 0h9m32 0h10m5 0h13m4 0h10m79 0h8m15 0h10m9 0h10m3 0h26M383.5 89.3h11m23 0h4m2 0h7m30 0h5m9 0h1m20 0h3m12 0h11m52 0h29m6 0h12m4 0h45M336.5 90.6h1m72 0h8m35 0h7m42 0h3m37 0h8m8 0h11m16 0h10m4 0h11m12 0h50M357.5 91.9h3m64 0h9m30 0h8m12 0h3m34 0h22m36 0h13m5 0h15m25 0h10m3 0h8m9 0h5M354.5 93.2h11m28 0h5m14 0h23m87 0h4m15 0h4m11 0h10m16 0h2m21 0h20m2 0h22m15 0h2M337.5 94.5h10m51 0h9m5 0h8m17 0h19m32 0h7m13 0h6m5 0h6m38 0h6m14 0h8m7 0h6m4 0h63M406.5 95.9h9m5 0h19m13 0h7m44 0h2m38 0h10m25 0h12m8 0h50m11 0h11M456.5 97.2h25m7 0h10m26 0h12m14 0h34m2 0h5m1 0h28m5 0h8m4 0h10M351.5 98.5h11m34 0h4m31 0h4m13 0h8m53 0h7m4 0h13m8 0h10m30 0h12m39 0h16m8 0h12M361.5 99.8h10m13 0h8m35 0h6m38 0h7m30 0h8m13 0h19m68 0h8m2 0h25m12 0h6M372.5 101.1h6m11 0h7m58 0h6m42 0h5m12 0h14m24 0h10m5 0h11m9 0h19m25 0h35M422.5 102.4h14m2 0h4m63 0h5m28 0h9m7 0h8m21 0h13m6 0h11m20 0h28m9 0h1M336.5 103.7h16m4 0h10m14 0h3m77 0h2m8 0h6m26 0h6m7 0h10m40 0h55m8 0h17m1 0h25M336.5 105.0h17m24 0h4m25 0h11m34 0h7m62 0h31m24 0h13m23 0h6m20 0h15m6 0h13M336.5 106.3h3m31 0h20m3 0h9m23 0h16m15 0h11m19 0h7m6 0h14m6 0h7m4 0h7m10 0h3m5 0h7m17 0h11m12 0h5m5 0h15m4 0h40M377.5 107.6h12m24 0h16m8 0h9m21 0h7m5 0h3m11 0h6m17 0h7m12 0h4m47 0h59m6 0h20M344.5 108.9h5m58 0h7m38 0h8m17 0h3m13 0h10m6 0h8m10 0h7m46 0h5m11 0h20m3 0h29m4 0h15M348.5 110.2h8m34 0h20m23 0h10m5 0h12m11 0h12m78 0h6m11 0h32m13 0h13m16 0h19M369.5 111.5h8m8 0h3m12 0h12m57 0h1m9 0h12m20 0h9m72 0h6m21 0h2m10 0h33M347.5 112.8h8m8 0h20m65 0h11m19 0h3m29 0h22m2 0h2m54 0h8m7 0h11m4 0h30m1 0h20M343.5 114.1h3m26 0h6m42 0h7m10 0h13m4 0h25m33 0h6m8 0h1m15 0h1m36 0h21m16 0h8m13 0h12m16 0h4M355.5 115.4h13m43 0h5m7 0h8m19 0h15m5 0h8m9 0h7m6 0h6m15 0h27m17 0h4m10 0h27m5 0h60M378.5 116.7h9m10 0h4m10 0h9m17 0h7m6 0h4m7 0h1m12 0h20m25 0h5m34 0h19m2 0h23m2 0h6m21 0h14m7 0h19M363.5 118.0h12m1 0h24m6 0h4m51 0h4m21 0h5m16 0h10m29 0h9m11 0h7m8 0h8m5 0h4m5 0h49m15 0h2M356.5 119.3h10m27 0h3m39 0h7m45 0h29m5 0h9m10 0h5m3 0h24m7 0h17m1 0h23m17 0h9m10 0h15M344.5 120.6h10m68 0h19m28 0h22m4 0h25m14 0h10m34 0h8m3 0h1m16 0h15m6 0h6m4 0h18m6 0h4M336.5 121.9h5m1 0h4m13 0h9m15 0h30m6 0h18m15 0h13m31 0h4m17 0h25m13 0h18m8 0h6m2 0h45m3 0h11m4 0h19M343.5 123.2h1m9 0h6m25 0h2m8 0h9m2 0h23m8 0h3m28 0h8m5 0h5m12 0h2m41 0h5m24 0h7m7 0h12m33 0h38M336.5 124.5h6m24 0h3m6 0h7m37 0h26m22 0h5m5 0h11m1 0h7m10 0h6m34 0h7m20 0h18m7 0h6m4 0h13m9 0h15m23 0h3M336.5 125.8h3m10 0h3m26 0h6m68 0h6m42 0h5m12 0h9m19 0h12m21 0h34m7 0h26m4 0h22M342.5 127.1h11m31 0h6m26 0h2m17 0h6m8 0h4m79 0h6m37 0h5m25 0h3m10 0h30m5 0h18M381.5 128.4h7m28 0h10m59 0h1m11 0h4m7 0h7m56 0h16m11 0h8m9 0h3m6 0h36M346.5 129.7h4m7 0h41m11 0h6m21 0h4m23 0h10m6 0h7m25 0h2m39 0h5m13 0h5m16 0h17m13 0h22m12 0h8M367.5 131.0h7m6 0h11m53 0h2m23 0h6m20 0h4m7 0h8m4 0h8m19 0h11m25 0h13m8 0h20m14 0h12M336.5 132.3h1m3 0h10m19 0h6m32 0h6m5 0h32m43 0h4m29 0h7m15 0h20m13 0h8m11 0h3m14 0h32m11 0h11M336.5 133.6h8m9 0h7m7 0h2m13 0h26m13 0h5m10 0h19m22 0h4m20 0h11m54 0h17m7 0h18m27 0h36M370.5 134.9h15m6 0h11m44 0h10m15 0h16m18 0h20m11 0h8m12 0h13m10 0h4m8 0h26m15 0h25m6 0h8M336.5 136.2h3m2 0h8m17 0h15m8 0h9m10 0h8m2 0h6m11 0h8m10 0h1m23 0h9m29 0h6m44 0h4m5 0h2m5 0h46m5 0h10m8 0h21M336.5 137.5h9m18 0h14m14 0h7m18 0h4m7 0h16m34 0h13m10 0h4m18 0h17m15 0h5m2 0h8m13 0h18m2 0h11m8 0h9m9 0h11m15 0h6M338.5 138.8h5m5 0h5m16 0h15m13 0h5m7 0h2m47 0h3m8 0h5m13 0h5m6 0h4m12 0h9m3 0h18m17 0h17m7 0h7m5 0h8m7 0h15m10 0h34M346.5 140.1h8m19 0h4m31 0h21m10 0h7m16 0h4m24 0h5m12 0h9m38 0h4m7 0h24m5 0h12m19 0h2m6 0h26m7 0h2M398.5 141.4h10m42 0h5m12 0h9m20 0h22m21 0h8m7 0h2m21 0h13m24 0h21m1 0h32M336.5 142.7h7m18 0h8m17 0h13m31 0h13m7 0h4m29 0h5m7 0h3m22 0h6m29 0h12m11 0h65m6 0h5m6 0h11M336.5 144.0h4m8 0h6m5 0h8m7 0h6m33 0h9m38 0h2m35 0h8m6 0h10m68 0h19m9 0h6m15 0h6m9 0h5m7 0h6M336.5 145.3h5m28 0h10m6 0h18m1 0h12m35 0h4m8 0h10m8 0h6m13 0h5m7 0h13m10 0h6m8 0h13m19 0h24m21 0h45M340.5 146.6h8m7 0h12m17 0h5m45 0h6m13 0h35m5 0h14m35 0h13m8 0h26m10 0h35m4 0h16m3 0h5M351.5 147.9h8m1 0h21m46 0h2m20 0h9m17 0h23m14 0h5m33 0h12m17 0h35m7 0h22m7 0h18M340.5 149.2h7m42 0h30m14 0h6m5 0h14m19 0h24m15 0h14m9 0h21m5 0h4m28 0h10m15 0h1m18 0h15M341.5 150.5h8m24 0h6m14 0h5m6 0h1m20 0h8m44 0h11m33 0h4m49 0h3m5 0h16m7 0h8m26 0h23M389.5 151.8h4m18 0h18m10 0h9m31 0h10m36 0h5m12 0h9m33 0h16m15 0h28m15 0h9M381.5 153.1h11m1 0h6m16 0h24m34 0h8m15 0h8m13 0h5m15 0h13m37 0h21m8 0h55M336.5 154.4h4m8 0h17m14 0h2m14 0h18m28 0h18m24 0h6m12 0h13m4 0h18m9 0h10m9 0h10m6 0h5m7 0h15m7 0h9m9 0h11m16 0h12M336.5 155.8h8m27 0h9m29 0h23m33 0h3m1 0h15m17 0h14m10 0h10m5 0h7m9 0h3m11 0h3m6 0h6m10 0h14m4 0h44m10 0h4M336.5 157.1h5m12 0h5m24 0h18m28 0h25m9 0h9m29 0h9m14 0h17m4 0h6m18 0h5m85 0h13M344.5 158.4h19m5 0h14m9 0h6m8 0h8m9 0h10m21 0h4m3 0h6m6 0h6m6 0h5m19 0h19m6 0h6m24 0h13m9 0h16m8 0h4m25 0h26m3 0h4M345.5 159.7h9m22 0h15m32 0h15m12 0h2m13 0h5m10 0h8m20 0h8m28 0h10m12 0h6m20 0h8m10 0h36m9 0h12M353.5 161.0h2m18 0h2m16 0h8m9 0h3m19 0h2m9 0h18m42 0h7m4 0h8m44 0h17m4 0h6m9 0h46M356.5 162.3h8m4 0h9m11 0h2m56 0h13m67 0h5m15 0h11m25 0h23m10 0h10m3 0h16m10 0h4M345.5 163.6h6m10 0h6m6 0h13m21 0h16m16 0h5m7 0h11m19 0h26m60 0h5m12 0h6m6 0h47m14 0h8M339.5 164.9h4m42 0h17m4 0h8m8 0h3m10 0h29m18 0h8m26 0h11m27 0h6m21 0h2m19 0h9m7 0h7m16 0h15m6 0h9M362.5 166.2h2m14 0h51m14 0h32m6 0h6m15 0h8m22 0h21m16 0h30m3 0h12m11 0h7m17 0h20M399.5 167.5h15m14 0h32m10 0h28m25 0h4m8 0h9m81 0h10m4 0h3m7 0h8m5 0h8M365.5 168.8h7m5 0h8m6 0h2m3 0h19m27 0h24m22 0h8m21 0h1m14 0h1m26 0h7m31 0h19m9 0h11m13 0h7m6 0h9M336.5 170.1h9m14 0h6m37 0h13m16 0h3m12 0h16m25 0h30m18 0h8m31 0h21m8 0h18m3 0h20m23 0h4M365.5 171.4h20m20 0h9m5 0h11m6 0h3m14 0h9m20 0h1m11 0h15m14 0h2m10 0h3m32 0h27m18 0h23m17 0h15M337.5 172.7h12m24 0h24m2 0h15m9 0h5m22 0h17m46 0h27m2 0h3m38 0h41m3 0h23m4 0h11m5 0h1M336.5 174.0h3m20 0h7m4 0h1m27 0h37m8 0h18m53 0h5m14 0h5m10 0h13m19 0h10m8 0h17m3 0h3m6 0h23m8 0h13M345.5 175.3h15m3 0h12m6 0h7m17 0h10m50 0h4m30 0h5m9 0h27m16 0h20m4 0h16m4 0h20m3 0h7m6 0h5M340.5 176.6h17m34 0h23m8 0h3m8 0h5m18 0h2m54 0h12m23 0h8m25 0h7m3 0h8m3 0h15m15 0h28M339.5 177.9h4m29 0h1m5 0h18m29 0h23m8 0h5m15 0h2m11 0h16m24 0h13m15 0h7m27 0h8m10 0h3m8 0h4m12 0h7m4 0h16M336.5 179.2h2m13 0h4m22 0h6m19 0h12m13 0h11m14 0h12m17 0h5m15 0h10m19 0h8m9 0h15m15 0h31m9 0h3m8 0h43M336.5 180.5h9m14 0h6m27 0h4m19 0h15m21 0h12m8 0h4m10 0h12m22 0h22m8 0h9m13 0h10m37 0h23m24 0h6M341.5 181.8h6m37 0h9m12 0h15m12 0h10m16 0h7m6 0h19m17 0h19m13 0h33m10 0h16m8 0h15m8 0h37M336.5 183.1h6m64 0h9m6 0h3m25 0h2m12 0h13m40 0h4m2 0h15m2 0h2m5 0h6m16 0h4m26 0h8m19 0h4m23 0h9m5 0h5M336.5 184.4h1m33 0h9m5 0h12m8 0h27m23 0h12m24 0h37m34 0h7m17 0h8m4 0h4m28 0h16m8 0h18M336.5 185.7h2m5 0h3m10 0h12m8 0h6m13 0h15m24 0h10m23 0h1m8 0h10m53 0h10m8 0h5m7 0h32m10 0h21m17 0h22M336.5 187.0h4m6 0h20m5 0h2m15 0h22m18 0h18m28 0h9m7 0h5m4 0h10m30 0h3m23 0h14m7 0h34m6 0h9m21 0h15M358.5 188.3h18m7 0h14m38 0h6m33 0h7m7 0h15m26 0h38m11 0h35m21 0h23m4 0h10M336.5 189.6h3m15 0h3m11 0h5m9 0h5m20 0h3m7 0h18m12 0h4m11 0h3m12 0h22m6 0h7m14 0h18m20 0h31m15 0h14m15 0h11m9 0h12M407.5 190.9h10m9 0h9m26 0h5m7 0h3m9 0h7m16 0h29m21 0h9m39 0h3m9 0h27m11 0h10M343.5 192.2h5m3 0h6m9 0h12m15 0h7m13 0h29m18 0h12m11 0h5m14 0h7m25 0h5m31 0h2m8 0h14m16 0h34m24 0h3M362.5 193.5h8m27 0h5m12 0h13m3 0h29m15 0h19m12 0h4m7 0h9m34 0h11m13 0h5m27 0h8m16 0h21M336.5 194.8h6m29 0h22m8 0h10m14 0h24m15 0h17m86 0h2m25 0h7m6 0h14m9 0h34m6 0h1M362.5 196.1h14m13 0h1m61 0h14m30 0h11m7 0h16m11 0h7m4 0h25m5 0h31m10 0h11m6 0h10m8 0h14M336.5 197.4h8m4 0h23m4 0h8m54 0h7m22 0h4m11 0h8m46 0h9m40 0h4m13 0h8m16 0h3m6 0h20m7 0h10M362.5 198.7h1m9 0h4m38 0h10m9 0h6m2 0h8m9 0h6m26 0h4m8 0h26m57 0h8m13 0h13m12 0h40M341.5 200.0h13m7 0h6m7 0h15m75 0h11m25 0h2m7 0h51m20 0h7m54 0h2m12 0h7M336.5 201.3h4m19 0h16m15 0h21m23 0h6m21 0h12m9 0h15m14 0h42m10 0h3m6 0h3m12 0h28m12 0h3m14 0h11m14 0h2M365.5 202.6h9m26 0h9m15 0h2m7 0h4m44 0h5m24 0h8m8 0h19m21 0h2m7 0h33m25 0h18m8 0h12M348.5 203.9h6m32 0h10m54 0h5m17 0h5m24 0h8m12 0h10m18 0h11m11 0h27m16 0h4m19 0h12m4 0h12M336.5 205.2h4m4 0h7m38 0h22m9 0h8m5 0h8m8 0h15m4 0h8m12 0h16m29 0h5m7 0h10m3 0h5m21 0h8m11 0h7m11 0h19m5 0h26M336.5 206.5h3m5 0h7m8 0h17m2 0h21m9 0h2m11 0h9m18 0h19m4 0h31m4 0h8m26 0h13m23 0h37m7 0h10m22 0h19M357.5 207.8h7m8 0h18m3 0h9m7 0h6m23 0h4m24 0h3m8 0h1m31 0h3m12 0h8m19 0h7m12 0h3m7 0h6m23 0h6m5 0h7m10 0h26m5 0h3M336.5 209.1h7m5 0h6m8 0h19m8 0h3m26 0h10m11 0h7m14 0h36m23 0h11m15 0h6m33 0h5m4 0h35m30 0h13M336.5 210.4h26m13 0h7m8 0h2m9 0h13m3 0h6m19 0h7m9 0h7m18 0h13m12 0h9m14 0h8m4 0h4m6 0h13m38 0h19m8 0h6m9 0h5m15 0h5M354.5 211.7h9m10 0h15m30 0h10m23 0h5m17 0h12m7 0h12m16 0h7m21 0h3m16 0h4m9 0h4m5 0h9m18 0h10m22 0h16M336.5 213.0h3m23 0h12m30 0h12m39 0h36m28 0h5m5 0h12m5 0h9m9 0h6m11 0h17m5 0h17m5 0h46M336.5 214.3h4m33 0h6m23 0h4m17 0h23m3 0h24m24 0h17m12 0h6m6 0h14m12 0h4m8 0h24m7 0h13m11 0h10m5 0h25M336.5 215.6h8m6 0h8m57 0h6m17 0h8m14 0h7m24 0h3m69 0h10m6 0h5m12 0h4m9 0h17m22 0h10m3 0h10"/>
<path stroke="rgb(170, 240, 80)" stroke-width="1.35" fill="none" d="M336.5 34.7h1m153 0h8m84 0h18m13 0h9m15 0h6m5 0h23M597.5 36.0h21m12 0h16m3 0h6M362.5 37.3h5m121 0h5m7 0h12m50 0h8m33 0h25m8 0h8m20 0h4M399.5 38.6h4m59 0h9m35 0h7m68 0h16m36 0h13M371.5 39.9h4m48 0h7m85 0h7m61 0h6m13 0h32m5 0h4m4 0h6M367.5 41.2h3m36 0h3m116 0h6m13 0h5m48 0h33m4 0h6m7 0h19M444.5 42.5h7m33 0h4m92 0h5m2 0h17m19 0h10m4 0h9m12 0h13M380.5 43.8h5m78 0h1m127 0h8m7 0h6m5 0h23m14 0h13M336.5 45.1h16m11 0h7m118 0h14m44 0h12m16 0h5m34 0h7m14 0h30m1 0h6M443.5 46.4h8m5 0h6m115 0h17m18 0h9m23 0h27M445.5 47.7h4m129 0h24m5 0h3m27 0h18m4 0h7M440.5 49.0h11m95 0h9m1 0h10m15 0h9m12 0h2m2 0h7m4 0h8m13 0h8M453.5 50.3h5m18 0h2m24 0h10m33 0h7m10 0h6m18 0h17m6 0h9m19 0h7M337.5 51.6h2m47 0h5m29 0h9m54 0h3m28 0h6m55 0h15m31 0h8m7 0h26m6 0h3M373.5 52.9h6m177 0h4m10 0h3m11 0h8m4 0h4m32 0h27M336.5 54.2h2m139 0h10m59 0h7m8 0h12m5 0h13m14 0h37m14 0h15M381.5 55.5h6m21 0h10m44 0h6m16 0h18m83 0h75M362.5 56.8h8m157 0h7m30 0h6m27 0h14m10 0h2m11 0h11m12 0h14M417.5 58.1h5m23 0h6m33 0h2m44 0h8m41 0h4m27 0h2m13 0h3m13 0h11m7 0h12M370.5 59.4h6m33 0h4m21 0h2m83 0h8m7 0h12m48 0h17M449.5 60.7h5m129 0h5m9 0h17m19 0h14m8 0h3M581.5 62.0h8m18 0h10m16 0h24M429.5 63.3h10m63 0h8m100 0h7m4 0h10m5 0h8M535.5 64.6h4m12 0h15m25 0h12m31 0h14m10 0h2M398.5 65.9h5m14 0h10m117 0h1m6 0h3m4 0h8m11 0h9m34 0h8m11 0h5m6 0h9M527.5 67.2h8m19 0h6m31 0h14m34 0h9m9 0h14M367.5 68.5h5m32 0h9m131 0h5m29 0h3m21 0h5m8 0h4m6 0h12m7 0h27M344.5 69.8h3m123 0h8m80 0h5m18 0h10m15 0h1m17 0h24m15 0h8M387.5 71.1h7m129 0h7m32 0h1m30 0h11m14 0h5m13 0h25m8 0h2M420.5 72.4h11m37 0h6m78 0h3m10 0h5m19 0h8m15 0h10m28 0h21M355.5 73.7h6m140 0h5m21 0h5m23 0h7m61 0h22m13 0h6M342.5 75.0h7m133 0h1m46 0h4m8 0h3m53 0h5m4 0h2m26 0h14m18 0h5M490.5 76.3h10m54 0h5m8 0h3m22 0h7m33 0h25m10 0h4M397.5 77.6h1m89 0h1m74 0h9m10 0h8m28 0h7m8 0h17m18 0h4M403.5 78.9h1m40 0h5m79 0h15m12 0h1m32 0h4m22 0h17m5 0h12m6 0h17M384.5 80.2h5m45 0h6m59 0h3m50 0h6m49 0h2m28 0h21M345.5 81.5h10m163 0h5m63 0h6m18 0h6m17 0h13m5 0h9M346.5 82.8h1m178 0h10m4 0h8m40 0h3m23 0h16m6 0h20m13 0h3M341.5 84.1h14m136 0h5m21 0h9m49 0h11m6 0h7m25 0h6m7 0h12m9 0h13M370.5 85.4h5m203 0h6m13 0h15m5 0h5m13 0h32M370.5 86.7h7m159 0h6m16 0h6m18 0h13m6 0h8m7 0h8m7 0h12m4 0h24M383.5 88.0h7m17 0h2m41 0h3m9 0h9m99 0h2m51 0h24M576.5 89.3h22m12 0h8m8 0h28m4 0h9M544.5 90.6h1m14 0h6m21 0h6m30 0h25m5 0h5m4 0h10M427.5 91.9h3m35 0h4m69 0h1m41 0h6m12 0h6m3 0h2m27 0h8m7 0h4M413.5 93.2h17m178 0h9m18 0h13M400.5 94.5h6m37 0h5m41 0h5m27 0h3m41 0h3m18 0h3m10 0h4m11 0h57M422.5 95.9h15m107 0h7m48 0h18m8 0h23m13 0h3M458.5 97.2h8m87 0h28m28 0h9m8 0h6m6 0h8M452.5 98.5h1m69 0h6m15 0h7m32 0h9m43 0h13m11 0h9M363.5 99.8h5m106 0h2m55 0h15m71 0h5m6 0h20M392.5 101.1h1m166 0h5m35 0h11m27 0h34M424.5 102.4h9m106 0h7m10 0h4m75 0h24M336.5 103.7h3m20 0h4m109 0h2m42 0h8m43 0h52m10 0h14m8 0h20M453.5 105.0h4m66 0h13m5 0h7m30 0h7m53 0h13m9 0h11M372.5 106.3h13m12 0h2m29 0h12m18 0h4m70 0h4m44 0h9m24 0h11m8 0h14m9 0h6m5 0h5M382.5 107.6h6m51 0h6m24 0h3m121 0h23m4 0h25m9 0h8M454.5 108.9h4m37 0h6m9 0h6m12 0h5m66 0h15m10 0h23m6 0h13M393.5 110.2h11m31 0h4m10 0h6m125 0h3m9 0h16m16 0h11m19 0h6m5 0h5M480.5 111.5h10m103 0h4m42 0h5m4 0h15M349.5 112.8h3m98 0h6m55 0h9m5 0h6m61 0h4m26 0h22m10 0h17M438.5 114.1h8m18 0h12m105 0h17m20 0h5m15 0h9M356.5 115.4h6m64 0h2m61 0h3m34 0h21m34 0h11m2 0h11m7 0h5m4 0h9m4 0h23m6 0h6M412.5 116.7h5m145 0h13m5 0h18m9 0h2m24 0h11m9 0h12M367.5 118.0h2m12 0h4m8 0h2m115 0h6m31 0h7m15 0h3m11 0h3m19 0h28m6 0h11M359.5 119.3h5m73 0h3m49 0h8m9 0h8m8 0h7m23 0h18m10 0h13m6 0h12m27 0h7m13 0h13M347.5 120.6h5m72 0h12m35 0h18m14 0h11m66 0h3m25 0h12m19 0h14M336.5 121.9h2m22 0h6m18 0h16m6 0h4m108 0h17m31 0h4m24 0h15m5 0h7m5 0h6m6 0h7m11 0h15M397.5 123.2h2m10 0h17m115 0h3m27 0h4m9 0h10m36 0h4m3 0h27M337.5 124.5h3m37 0h3m48 0h14m133 0h13m12 0h2m7 0h9m13 0h12m26 0h2M336.5 125.8h1m117 0h3m61 0h4m29 0h4m27 0h30m8 0h24m8 0h19M344.5 127.1h6m35 0h4m231 0h4m3 0h20m8 0h16M418.5 128.4h6m155 0h6m15 0h4m24 0h18m6 0h7M362.5 129.7h10m6 0h3m86 0h5m122 0h12m16 0h20m15 0h5M369.5 131.0h4m11 0h5m119 0h5m6 0h6m23 0h6m33 0h5m11 0h18m16 0h9M342.5 132.3h6m80 0h5m6 0h9m112 0h6m17 0h4m31 0h29m15 0h9M336.5 133.6h4m47 0h6m7 0h6m32 0h15m49 0h5m62 0h12m10 0h16m40 0h24M372.5 134.9h11m13 0h2m52 0h4m19 0h11m25 0h2m27 0h3m17 0h9m27 0h21m19 0h12m2 0h8m10 0h3M336.5 136.2h1m6 0h4m45 0h4m25 0h1m15 0h3m152 0h33m9 0h8m10 0h19M369.5 137.5h5m19 0h4m36 0h8m37 0h11m34 0h15m26 0h2m23 0h9m6 0h8m11 0h5m39 0h4M371.5 138.8h10m90 0h1m44 0h5m7 0h12m47 0h3m10 0h3m13 0h8m15 0h26M348.5 140.1h4m58 0h11m20 0h4m64 0h5m53 0h20m9 0h3m35 0h24M400.5 141.4h6m61 0h8m23 0h6m6 0h6m26 0h3m34 0h9m28 0h17m6 0h26M336.5 142.7h4m23 0h4m21 0h10m125 0h1m32 0h9m17 0h16m6 0h11m5 0h16m2 0h2m11 0h1m9 0h10M336.5 144.0h3m23 0h2m51 0h5m170 0h16m13 0h3m17 0h4m11 0h3m8 0h6M370.5 145.3h8m11 0h11m6 0h9m49 0h7m44 0h9m27 0h9m22 0h9m6 0h6m25 0h22m7 0h14M357.5 146.6h9m89 0h5m6 0h19m10 0h10m38 0h11m10 0h15m22 0h31m9 0h10M364.5 147.9h3m7 0h6m73 0h3m20 0h20m58 0h5m22 0h32m9 0h8m8 0h3m12 0h5m3 0h4M342.5 149.2h3m44 0h14m8 0h5m30 0h4m28 0h22m40 0h19m39 0h8m36 0h12M344.5 150.5h2m30 0h1m50 0h3m49 0h6m99 0h12m10 0h6m35 0h7M414.5 151.8h13m13 0h6m36 0h5m99 0h12m19 0h13m4 0h7m18 0h6M497.5 153.1h6m37 0h8m40 0h10m5 0h3m11 0h27m6 0h21M350.5 154.4h5m41 0h5m6 0h4m39 0h6m49 0h6m8 0h15m14 0h5m13 0h5m23 0h11m14 0h2m12 0h8m20 0h10M373.5 155.8h5m39 0h12m43 0h10m21 0h10m13 0h7m10 0h2m52 0h11m6 0h41m15 0h1M336.5 157.1h4m89 0h22m12 0h6m35 0h1m21 0h12m124 0h9M349.5 158.4h12m8 0h11m46 0h4m43 0h3m34 0h3m9 0h2m41 0h10m12 0h12m41 0h22M378.5 159.7h11m35 0h13m30 0h1m15 0h3m24 0h4m54 0h2m51 0h21m14 0h10M392.5 161.0h5m118 0h3m47 0h14m7 0h4m11 0h7m6 0h29M357.5 162.3h5m8 0h6m71 0h11m90 0h8m27 0h20m13 0h8m6 0h6M363.5 163.6h2m10 0h7m26 0h14m32 0h6m23 0h23m92 0h21m6 0h2m8 0h7m16 0h6M387.5 164.9h12m9 0h5m23 0h26m56 0h4m81 0h7m9 0h5m19 0h12m9 0h4M382.5 166.2h45m20 0h26m61 0h3m7 0h7m29 0h15m9 0h9m37 0h16M402.5 167.5h10m18 0h4m7 0h18m34 0h4m41 0h4m84 0h7m18 0h5m7 0h5M379.5 168.8h3m21 0h11m30 0h14m146 0h11m11 0h9m17 0h1M336.5 170.1h7m60 0h11m34 0h13m28 0h13m36 0h2m35 0h18m12 0h6m15 0h17m25 0h3M373.5 171.4h9m24 0h7m8 0h8m26 0h6m34 0h7m69 0h14m3 0h8m21 0h3m6 0h9m22 0h3M374.5 172.7h7m5 0h9m5 0h13m39 0h13m50 0h5m8 0h10m47 0h15m3 0h10m5 0h3m8 0h19m8 0h8M361.5 174.0h2m37 0h26m20 0h14m90 0h4m27 0h7m11 0h14m16 0h3m5 0h10m13 0h11M348.5 175.3h10m7 0h3m14 0h5m19 0h8m102 0h1m8 0h12m21 0h11m13 0h8m24 0h4m7 0h4m8 0h3M343.5 176.6h12m38 0h6m6 0h8m102 0h2m32 0h5m28 0h2m7 0h6m5 0h13m17 0h25M427.5 177.9h20m44 0h13m27 0h9m18 0h4m30 0h6m40 0h2m8 0h8M403.5 179.2h10m16 0h7m18 0h8m42 0h5m23 0h4m15 0h7m20 0h18m5 0h6m24 0h3m4 0h33M336.5 180.5h4m76 0h12m26 0h7m25 0h9m25 0h13m18 0h6m15 0h8m38 0h21m28 0h4M343.5 181.8h2m62 0h12m54 0h13m28 0h11m21 0h25m12 0h13m11 0h13m11 0h34M336.5 183.1h5m124 0h10m50 0h8m16 0h1m50 0h4m50 0h5m9 0h3M389.5 184.4h5m22 0h4m35 0h10m28 0h17m6 0h8m39 0h4m19 0h5m42 0h1m21 0h16M336.5 185.7h1m21 0h7m14 0h1m18 0h11m29 0h3m36 0h7m75 0h1m10 0h10m13 0h6m14 0h17m20 0h11m2 0h8M336.5 187.0h2m13 0h14m26 0h6m6 0h6m21 0h14m31 0h7m19 0h6m67 0h3m12 0h7m6 0h3m4 0h10m8 0h7m23 0h14M360.5 188.3h14m157 0h6m11 0h3m5 0h9m19 0h6m8 0h12m26 0h7m9 0h3m7 0h6M336.5 189.6h1m91 0h5m46 0h10m17 0h5m19 0h12m24 0h4m2 0h6m4 0h11m18 0h9m20 0h9m11 0h11M410.5 190.9h6m71 0h3m21 0h8m6 0h10m25 0h5m53 0h15m7 0h4m13 0h5M394.5 192.2h5m22 0h3m38 0h7m142 0h19m4 0h4M364.5 193.5h5m64 0h5m6 0h5m1 0h7m19 0h16m68 0h9m76 0h12M338.5 194.8h2m33 0h14m15 0h7m19 0h7m32 0h12m116 0h5m8 0h13m10 0h32M367.5 196.1h7m78 0h10m35 0h6m12 0h12m27 0h19m10 0h8m5 0h15m12 0h9m9 0h6m19 0h2M336.5 197.4h7m7 0h14m75 0h2m95 0h7m59 0h5m28 0h5m22 0h9M414.5 198.7h9m20 0h5m57 0h2m9 0h10m85 0h6m17 0h37M343.5 200.0h4m30 0h1m89 0h6m38 0h3m5 0h16m7 0h16m98 0h5M361.5 201.3h8m24 0h2m8 0h6m53 0h9m61 0h20m42 0h8m43 0h6M401.5 202.6h7m103 0h5m17 0h7m37 0h18m3 0h8m32 0h12m11 0h5M388.5 203.9h7m128 0h7m21 0h6m17 0h14m2 0h7m41 0h9m7 0h5M336.5 205.2h2m8 0h4m43 0h16m26 0h5m15 0h8m8 0h2m18 0h11m33 0h1m12 0h4m52 0h5m13 0h8m17 0h24M347.5 206.5h3m10 0h5m2 0h7m7 0h16m25 0h7m29 0h7m7 0h28m41 0h10m27 0h24m4 0h5m10 0h7m26 0h13m2 0h2M360.5 207.8h2m22 0h3m138 0h6m23 0h2m67 0h2m12 0h24M337.5 209.1h4m9 0h3m10 0h8m4 0h5m39 0h7m14 0h5m27 0h19m29 0h8m66 0h33m32 0h7m3 0h2M336.5 210.4h20m21 0h4m22 0h9m7 0h2m39 0h3m23 0h8m39 0h4m18 0h7m45 0h7m33 0h2m19 0h3M356.5 211.7h5m15 0h6m39 0h3m50 0h10m8 0h10m21 0h3m64 0h7m20 0h7m25 0h14M363.5 213.0h10m34 0h2m48 0h3m4 0h26m30 0h3m7 0h10m7 0h7m12 0h3m14 0h12m9 0h12m11 0h11m10 0h19m1 0h3M336.5 214.3h3m88 0h17m7 0h14m35 0h11m17 0h2m9 0h10m31 0h19m10 0h10m13 0h8m7 0h24M336.5 215.6h5m120 0h4m146 0h13m25 0h7m6 0h9"/>
<path stroke="rgb(228, 228, 45)" stroke-width="1.35" fill="none" d="M491.5 34.7h5m87 0h15m18 0h1m21 0h4m8 0h2m13 0h6M599.5 36.0h18m14 0h14m5 0h5M489.5 37.3h4m8 0h9m53 0h6m36 0h21m10 0h7M462.5 38.6h8m37 0h4m71 0h15m39 0h9M425.5 39.9h3m90 0h3m63 0h5m16 0h18m5 0h5M407.5 41.2h1m138 0h1m51 0h30m20 0h17M588.5 42.5h13m23 0h8m6 0h7m15 0h4m1 0h5M607.5 43.8h4m7 0h21m16 0h10M336.5 45.1h4m150 0h10m48 0h9m19 0h1m37 0h5m16 0h24m8 0h4M445.5 46.4h4m10 0h1m118 0h14m21 0h7m25 0h9m3 0h14M579.5 47.7h21m37 0h9m2 0h6m7 0h3M547.5 49.0h5m7 0h5m19 0h6m31 0h3m16 0h6M503.5 50.3h8m35 0h4m14 0h3m20 0h15m8 0h6m22 0h5M422.5 51.6h6m87 0h4m58 0h12m33 0h6m8 0h10m6 0h9m8 0h2M585.5 52.9h7m40 0h25M480.5 54.2h5m62 0h5m11 0h9m6 0h12m22 0h19m5 0h5m17 0h5m4 0h4M383.5 55.5h2m25 0h6m46 0h6m18 0h15m84 0h11m4 0h27m4 0h26M363.5 56.8h6m196 0h4m29 0h10m27 0h9m17 0h10M418.5 58.1h3m25 0h3m83 0h5m106 0h7m11 0h10M371.5 59.4h4m145 0h6m9 0h10m50 0h14M598.5 60.7h12m25 0h11M582.5 62.0h6m21 0h7m18 0h22M431.5 63.3h6m66 0h6m102 0h5m6 0h8m7 0h6M552.5 64.6h12m27 0h8m35 0h13M419.5 65.9h6m135 0h5m13 0h7m36 0h6m13 0h3m8 0h6M528.5 67.2h5m22 0h3m34 0h12m36 0h7m15 0h9M368.5 68.5h3m34 0h7m214 0h9m12 0h24M581.5 69.8h10m35 0h19M388.5 71.1h5m201 0h9m34 0h24m9 0h1M423.5 72.4h6m161 0h6m17 0h9m30 0h13m5 0h1M528.5 73.7h2m25 0h6m65 0h18m15 0h4M343.5 75.0h5m250 0h3m34 0h12m20 0h2M491.5 76.3h9m56 0h1m36 0h5m39 0h15m18 0h1M562.5 77.6h8m13 0h5m45 0h15m21 0h2M445.5 78.9h3m82 0h12m73 0h5m4 0h6m7 0h10m9 0h11M385.5 80.2h3m47 0h4m199 0h11M348.5 81.5h2m261 0h4m21 0h9m8 0h5M527.5 82.8h7m6 0h6m68 0h12m10 0h11M518.5 84.1h8m51 0h8m7 0h6m27 0h4m8 0h11m11 0h8M580.5 85.4h2m16 0h13m6 0h4m14 0h30M372.5 86.7h3m185 0h2m21 0h11m8 0h5m10 0h6m9 0h10m7 0h4m7 0h10M462.5 88.0h8m154 0h22M577.5 89.3h11m22 0h8m9 0h6m5 0h5m2 0h8m7 0h6M560.5 90.6h4m23 0h4m31 0h22m9 0h3m7 0h8M581.5 91.9h4m52 0h6M414.5 93.2h9m213 0h12M401.5 94.5h5m84 0h4m122 0h28m3 0h18M428.5 95.9h8m109 0h5m50 0h14m14 0h19M459.5 97.2h5m91 0h24m33 0h3m12 0h4m7 0h7M544.5 98.5h5m33 0h7m46 0h11m13 0h7M532.5 99.8h5m4 0h4m73 0h3m8 0h17M600.5 101.1h9m28 0h22M426.5 102.4h6m108 0h4m92 0h21M517.5 103.7h6m46 0h11m2 0h18m6 0h11m12 0h13m12 0h17M525.5 105.0h9m9 0h4m33 0h4m55 0h11m11 0h10M432.5 106.3h7m141 0h8m26 0h8m10 0h13m22 0h4M385.5 107.6h1m208 0h13m3 0h3m10 0h10m2 0h9m12 0h4M496.5 108.9h4m11 0h4m13 0h4m68 0h13m13 0h21m6 0h12M451.5 110.2h3m139 0h13m19 0h9m21 0h4M481.5 111.5h8m160 0h13M512.5 112.8h5m9 0h4m94 0h3m8 0h7m13 0h16M438.5 114.1h6m22 0h8m108 0h12m25 0h4m16 0h7M358.5 115.4h2m168 0h3m2 0h13m37 0h7m7 0h7m9 0h3m6 0h6m8 0h20M566.5 116.7h9m6 0h15m41 0h6m11 0h10M512.5 118.0h2m35 0h3m54 0h12m3 0h10m10 0h7M491.5 119.3h3m13 0h7m9 0h5m26 0h5m3 0h7m13 0h2m15 0h11m28 0h6m17 0h9M425.5 120.6h10m50 0h2m18 0h6m99 0h9m20 0h11M336.5 121.9h1m25 0h1m23 0h11m122 0h14m82 0h5m8 0h2m9 0h5m13 0h14M412.5 123.2h13m147 0h2m11 0h8m45 0h10m2 0h13M438.5 124.5h1m137 0h11m23 0h6m16 0h9m29 0h1M519.5 125.8h1m64 0h17m5 0h5m10 0h22m10 0h18M630.5 127.1h17m9 0h14M633.5 128.4h12m9 0h4M365.5 129.7h5m98 0h3m124 0h11m23 0h12m16 0h5M509.5 131.0h2m8 0h5m27 0h1m37 0h1m14 0h16m18 0h7M344.5 132.3h2m94 0h7m115 0h3m54 0h13m4 0h10m16 0h9M336.5 133.6h2m64 0h2m36 0h3m60 0h1m92 0h10m43 0h22M373.5 134.9h8m93 0h8m77 0h7m29 0h19m21 0h10m5 0h5M595.5 136.2h26m14 0h6m12 0h18M435.5 137.5h5m39 0h9m36 0h13m55 0h5m8 0h6M372.5 138.8h7m151 0h7m81 0h3m20 0h1m4 0h18M412.5 140.1h5m93 0h3m56 0h3m5 0h9m48 0h14m3 0h6M401.5 141.4h4m63 0h7m104 0h9m29 0h15m9 0h19M336.5 142.7h2m50 0h9m160 0h7m20 0h13m8 0h8m15 0h5m29 0h9M336.5 144.0h2m78 0h2m173 0h14m36 0h1m24 0h5M371.5 145.3h6m14 0h8m8 0h7m52 0h2m83 0h8m24 0h7m39 0h12m17 0h6M359.5 146.6h6m103 0h15m13 0h8m40 0h9m13 0h6m34 0h25M375.5 147.9h4m112 0h4m87 0h30m10 0h7M390.5 149.2h11m78 0h7m4 0h8m43 0h17m41 0h6m37 0h11M586.5 150.5h9m12 0h4M420.5 151.8h6m15 0h4m143 0h9m26 0h5m7 0h5m20 0h4M498.5 153.1h4m39 0h5m43 0h8m20 0h26m8 0h13m4 0h3M397.5 154.4h2m121 0h13m34 0h3m25 0h8m32 0h5M375.5 155.8h2m96 0h8m23 0h7m16 0h5m67 0h8m8 0h38M336.5 157.1h3m92 0h19m14 0h4m59 0h10m126 0h8M351.5 158.4h7m12 0h6m190 0h9m15 0h8m43 0h5m4 0h11M379.5 159.7h9m37 0h10m187 0h11m3 0h5m16 0h7M394.5 161.0h2m170 0h6m15 0h2m13 0h4m9 0h26M358.5 162.3h3m10 0h4m74 0h8m91 0h8m28 0h19m13 0h7m9 0h1M410.5 163.6h12m63 0h11m7 0h1m96 0h18m18 0h6m17 0h4M389.5 164.9h7m13 0h2m26 0h24m143 0h5m10 0h4m21 0h10M386.5 166.2h9m5 0h11m7 0h7m25 0h15m4 0h3m73 0h5m33 0h3m19 0h7m39 0h13M406.5 167.5h5m32 0h5m3 0h5m171 0h5m20 0h3m9 0h3M404.5 168.8h9m33 0h8m153 0h8m12 0h7M336.5 170.1h5m63 0h9m36 0h11m34 0h6m76 0h10m3 0h2m15 0h4m16 0h17m26 0h2M406.5 171.4h6m10 0h6m28 0h4m36 0h5m71 0h11m7 0h5m32 0h7M374.5 172.7h6m7 0h7m7 0h12m39 0h12m65 0h8m50 0h10m8 0h7m18 0h17m10 0h6M403.5 174.0h13m32 0h11m122 0h6m13 0h12m26 0h8m15 0h10M350.5 175.3h7m25 0h5m20 0h6m114 0h9m23 0h8m16 0h5M344.5 176.6h10m41 0h1m10 0h7m137 0h2m40 0h4m7 0h11m19 0h22M437.5 177.9h9m47 0h9m31 0h5m55 0h5m51 0h6M403.5 179.2h9m94 0h1m46 0h4m22 0h16m7 0h3m34 0h32M336.5 180.5h1m80 0h6m34 0h1m29 0h6m28 0h11m20 0h3m18 0h6m39 0h20m30 0h3M410.5 181.8h9m55 0h9m32 0h9m23 0h23m13 0h12m13 0h11m13 0h21m4 0h7M336.5 183.1h4m126 0h7m53 0h5m138 0h2M391.5 184.4h2m62 0h9m30 0h12m14 0h1m43 0h2m21 0h2m68 0h14M400.5 185.7h8m72 0h2m89 0h6m18 0h2m18 0h13m23 0h8m6 0h6M336.5 187.0h1m15 0h12m73 0h5m35 0h4m21 0h3m86 0h3m16 0h7m10 0h6m24 0h14M557.5 188.3h6m75 0h3m22 0h3M481.5 189.6h7m18 0h5m64 0h1m8 0h8m20 0h4m25 0h7m12 0h11M411.5 190.9h4m98 0h5m10 0h6m85 0h11m12 0h1M395.5 192.2h3m66 0h3m146 0h16M365.5 193.5h2m85 0h4m22 0h12m71 0h8m78 0h8M374.5 194.8h11m84 0h9m130 0h12m13 0h6m5 0h18M370.5 196.1h2m81 0h8m55 0h11m31 0h12m15 0h5m7 0h14m12 0h8m12 0h3M336.5 197.4h6m9 0h13m173 0h4m63 0h2m56 0h9M415.5 198.7h8m21 0h3m188 0h14m6 0h16M520.5 200.0h10m14 0h13m101 0h1M362.5 201.3h6m36 0h4m56 0h2m67 0h18m95 0h2M401.5 202.6h6m106 0h1m66 0h14m5 0h6m35 0h9M389.5 203.9h4m132 0h3m112 0h6m9 0h3M336.5 205.2h1m10 0h2m45 0h14m29 0h1m18 0h6m31 0h8m104 0h3m15 0h5m21 0h5m3 0h14M369.5 206.5h5m14 0h7m28 0h5m46 0h26m42 0h8m37 0h14m21 0h4m29 0h10M526.5 207.8h4m108 0h22M364.5 209.1h5m51 0h5m16 0h3m32 0h7m113 0h4m6 0h20m34 0h4M336.5 210.4h18m203 0h2m52 0h1m57 0h2M475.5 211.7h8m10 0h8m90 0h5m22 0h5m27 0h12M364.5 213.0h7m94 0h24m42 0h8m9 0h5m52 0h8m15 0h9m13 0h14M336.5 214.3h2m91 0h14m9 0h11m39 0h2m36 0h8m35 0h15m35 0h6m10 0h22M336.5 215.6h1m282 0h4m28 0h3m9 0h8"/>
<path stroke="rgb(245, 190, 35)" stroke-width="1.35" fill="none" d="M493.5 34.7h1m89 0h14m70 0h4M605.5 36.0h12m15 0h11m8 0h3M489.5 37.3h3m10 0h7m54 0h5m38 0h4m5 0h10m12 0h6M462.5 38.6h8m113 0h13m43 0h4M584.5 39.9h4m18 0h16m7 0h3M600.5 41.2h26m24 0h14M589.5 42.5h11m24 0h7m7 0h6m24 0h1M608.5 43.8h3m9 0h1m4 0h14M552.5 45.1h2m82 0h22m10 0h3M579.5 46.4h12m22 0h6m26 0h8m5 0h13M580.5 47.7h19m39 0h7m5 0h2M561.5 49.0h2m22 0h2m53 0h4M504.5 50.3h6m37 0h2m38 0h14m10 0h4m24 0h3M580.5 51.6h8m35 0h4m10 0h7m26 0h1M585.5 52.9h6m42 0h13m5 0h4M548.5 54.2h3m13 0h7m8 0h10m23 0h13m12 0h4m27 0h3M463.5 55.5h4m20 0h13m86 0h8m7 0h25m6 0h23M365.5 56.8h2m199 0h2m30 0h8m30 0h7m21 0h6M533.5 58.1h3m108 0h5m13 0h9M521.5 59.4h5m10 0h7m53 0h12M598.5 60.7h9m30 0h7M610.5 62.0h5m20 0h10m2 0h9M433.5 63.3h2m69 0h5m103 0h3m8 0h7m8 0h4M592.5 64.6h6m37 0h11M420.5 65.9h4m138 0h1m16 0h5m38 0h5m25 0h3M529.5 67.2h3m60 0h11m37 0h6m18 0h4M406.5 68.5h5m216 0h6m16 0h8m3 0h11M582.5 69.8h8m37 0h17M389.5 71.1h4m202 0h6m36 0h8m5 0h10M591.5 72.4h4m19 0h7m32 0h10M556.5 73.7h3m69 0h7m2 0h6m17 0h1M344.5 75.0h4m288 0h10M492.5 76.3h7m96 0h1m42 0h13M563.5 77.6h7m14 0h3m47 0h13M446.5 78.9h1m86 0h8m75 0h2m8 0h2m10 0h9m11 0h8M436.5 80.2h2m200 0h8M611.5 81.5h4m22 0h7M530.5 82.8h3m8 0h5m69 0h9m13 0h7M520.5 84.1h5m53 0h6m9 0h4m41 0h10m12 0h6M599.5 85.4h12m7 0h2m16 0h28M584.5 86.7h8m11 0h2m12 0h5m11 0h8m21 0h6M463.5 88.0h6m155 0h21M578.5 89.3h7m26 0h6m11 0h4m7 0h2m6 0h4m12 0h1M588.5 90.6h1m34 0h20M637.5 91.9h6M637.5 93.2h10M401.5 94.5h4m85 0h3m124 0h9m3 0h4m2 0h8m6 0h14M429.5 95.9h6m112 0h1m53 0h8m22 0h16M461.5 97.2h1m95 0h21m50 0h3m7 0h7M545.5 98.5h3m36 0h2m50 0h9m15 0h6M533.5 99.8h3m7 0h1m86 0h15M600.5 101.1h9m29 0h18M428.5 102.4h2m111 0h2m93 0h9M518.5 103.7h4m49 0h8m5 0h3m3 0h9m9 0h3m19 0h11m14 0h16M527.5 105.0h6m107 0h8m14 0h6M435.5 106.3h2m144 0h6m28 0h6m12 0h11m24 0h3M595.5 107.6h11m18 0h8m4 0h8M497.5 108.9h2m30 0h2m78 0h3m16 0h18m8 0h10M594.5 110.2h9m23 0h7M481.5 111.5h7m162 0h11M513.5 112.8h3m11 0h2m127 0h14M439.5 114.1h3m26 0h4m111 0h9m28 0h2m19 0h3M535.5 115.4h10m39 0h5m9 0h5m11 0h1m8 0h4m10 0h18M569.5 116.7h5m7 0h5m3 0h6m44 0h3m13 0h7M607.5 118.0h9m7 0h6M508.5 119.3h5m12 0h1m37 0h5m32 0h9m29 0h6m19 0h6M426.5 120.6h8m74 0h1m102 0h7m22 0h9M387.5 121.9h7m126 0h11m84 0h4m21 0h3m15 0h13M421.5 123.2h2m163 0h6m47 0h8m4 0h11M577.5 124.5h9m24 0h5m18 0h6M585.5 125.8h15m7 0h3m11 0h5m5 0h11m12 0h17M631.5 127.1h15m18 0h6M635.5 128.4h8M595.5 129.7h10m26 0h8m19 0h3M520.5 131.0h4m81 0h14m20 0h5M441.5 132.3h4m176 0h11m5 0h9m17 0h7M598.5 133.6h7m46 0h9m6 0h5M374.5 134.9h6m95 0h5m81 0h3m33 0h10m2 0h3m24 0h8m7 0h3M596.5 136.2h23m18 0h3m14 0h17M479.5 137.5h8m38 0h10m58 0h3m10 0h4M374.5 138.8h2m271 0h15M578.5 140.1h7m50 0h12m5 0h4M468.5 141.4h6m106 0h7m31 0h13m11 0h17M336.5 142.7h1m52 0h5m164 0h4m23 0h10m12 0h5m52 0h7M336.5 144.0h2m254 0h12m62 0h5M372.5 145.3h4m16 0h7m9 0h5m139 0h6m72 0h6M361.5 146.6h2m115 0h2m17 0h5m43 0h7m68 0h11M376.5 147.9h2m114 0h2m89 0h17m2 0h9m12 0h6M391.5 149.2h9m80 0h3m9 0h5m45 0h15m42 0h6m38 0h10M589.5 150.5h5m13 0h3M442.5 151.8h2m146 0h6m40 0h3m21 0h4M498.5 153.1h3m89 0h6m22 0h14m5 0h5m9 0h11M520.5 154.4h13m63 0h3m37 0h3M475.5 155.8h4m27 0h2m21 0h1m70 0h6m11 0h32M336.5 157.1h1m96 0h4m4 0h8m16 0h2m61 0h9m127 0h7M371.5 158.4h3m192 0h8m19 0h4m54 0h9M381.5 159.7h6m39 0h8m189 0h9m26 0h5M568.5 161.0h1m47 0h2m3 0h19M450.5 162.3h6m93 0h6m29 0h18m15 0h6M411.5 163.6h11m65 0h8m108 0h15m19 0h5m17 0h3M390.5 164.9h4m44 0h7m4 0h11m145 0h3m12 0h2m23 0h9M389.5 166.2h5m8 0h4m45 0h11m84 0h3m57 0h5m41 0h10M628.5 167.5h4m21 0h1M405.5 168.8h8m195 0h6m13 0h7M336.5 170.1h4m64 0h9m37 0h9m118 0h8m42 0h15m28 0h1M407.5 171.4h5m11 0h5m29 0h2m38 0h2m74 0h9m9 0h3m34 0h5M375.5 172.7h4m9 0h5m9 0h10m41 0h11m66 0h6m55 0h4m11 0h5m20 0h15m12 0h5M404.5 174.0h10m35 0h8m125 0h4m15 0h11m27 0h5m20 0h5M351.5 175.3h5m27 0h3m22 0h4m116 0h7m25 0h6m19 0h1M346.5 176.6h7m53 0h6m182 0h1m9 0h9m20 0h19M440.5 177.9h5m51 0h4m94 0h3m52 0h5M404.5 179.2h7m143 0h2m24 0h14m46 0h10m5 0h13M418.5 180.5h3m67 0h3m31 0h9m42 0h5m41 0h18m32 0h2M412.5 181.8h6m99 0h6m26 0h1m5 0h15m14 0h9m16 0h9m15 0h18m7 0h4M468.5 183.1h4m198 0h1M456.5 184.4h8m31 0h10m153 0h12M402.5 185.7h5m165 0h4m41 0h6m28 0h7m8 0h4M353.5 187.0h11m114 0h2m131 0h5m12 0h5m25 0h13M559.5 188.3h2M483.5 189.6h4m20 0h3m76 0h5m51 0h5m13 0h11M619.5 190.9h9M614.5 192.2h14M562.5 193.5h6m81 0h4M376.5 194.8h8m86 0h7m132 0h11m14 0h3m10 0h14M454.5 196.1h6m57 0h9m34 0h8m18 0h3m9 0h12m14 0h7M336.5 197.4h5m11 0h11m299 0h9M415.5 198.7h7m214 0h11m10 0h13M520.5 200.0h7m18 0h11M362.5 201.3h5m168 0h4m5 0h6M402.5 202.6h5m181 0h5m7 0h4m36 0h9M391.5 203.9h1m250 0h3M395.5 205.2h12m50 0h5m33 0h5m124 0h3m32 0h12M370.5 206.5h3m51 0h2m54 0h6m3 0h10m44 0h6m39 0h13m22 0h2m31 0h7M527.5 207.8h2m109 0h6m4 0h11M421.5 209.1h4m183 0h18m35 0h2M346.5 210.4h2m322 0h1M476.5 211.7h7m10 0h8m91 0h4m23 0h2m30 0h10M365.5 213.0h5m96 0h4m8 0h10m44 0h7m10 0h3m54 0h5m18 0h6m16 0h12M336.5 214.3h2m99 0h5m100 0h3m46 0h7m37 0h2m13 0h21M664.5 215.6h7"/>
<path stroke="rgb(236, 140, 30)" stroke-width="1.35" fill="none" d="M584.5 34.7h11m73 0h3M607.5 36.0h9m16 0h7m12 0h3M503.5 37.3h4m58 0h1m51 0h7m13 0h5M463.5 38.6h6m116 0h11M585.5 39.9h2m21 0h13M605.5 41.2h20m26 0h1m4 0h8M590.5 42.5h9m26 0h5m9 0h4M628.5 43.8h10M638.5 45.1h5m5 0h9m11 0h3M580.5 46.4h10m24 0h4m28 0h6m8 0h11M582.5 47.7h12m44 0h6M641.5 49.0h1M505.5 50.3h4m79 0h12M583.5 51.6h4m37 0h1m13 0h5M586.5 52.9h4m44 0h11M565.5 54.2h5m10 0h8m25 0h11m45 0h2M464.5 55.5h2m23 0h10m89 0h4m10 0h7m5 0h11m8 0h8m5 0h7M599.5 56.8h6m32 0h5m24 0h3M645.5 58.1h3m16 0h7M522.5 59.4h3m13 0h1m58 0h10M600.5 60.7h3m36 0h4M611.5 62.0h3m22 0h8m4 0h8M505.5 63.3h3m116 0h5m11 0h1M592.5 64.6h5m39 0h9M581.5 65.9h2m40 0h3M593.5 67.2h10m38 0h5M407.5 68.5h3m217 0h4m19 0h6m5 0h10M583.5 69.8h7m42 0h11M389.5 71.1h3m246 0h6m8 0h7M616.5 72.4h3m35 0h8M629.5 73.7h4m5 0h5M346.5 75.0h1m289 0h9M493.5 76.3h5m141 0h11M563.5 77.6h6m66 0h11M534.5 78.9h7m97 0h8m14 0h5M639.5 80.2h6M637.5 81.5h7M542.5 82.8h3m71 0h6m16 0h5M578.5 84.1h6m55 0h8m14 0h4M600.5 85.4h11m25 0h20m4 0h2M618.5 86.7h3m13 0h6M463.5 88.0h5m156 0h20M578.5 89.3h6m27 0h6M624.5 90.6h10m4 0h3M638.5 91.9h4M637.5 93.2h10M402.5 94.5h2m87 0h2m124 0h7m13 0h6m8 0h11M429.5 95.9h6m167 0h4m28 0h12M558.5 97.2h7m7 0h4m63 0h5M637.5 98.5h7m17 0h4M534.5 99.8h1m96 0h12M601.5 101.1h7m30 0h6m4 0h6M637.5 102.4h7M519.5 103.7h1m52 0h6m13 0h7m32 0h6m20 0h15M530.5 105.0h1M582.5 106.3h5m29 0h3m14 0h11M596.5 107.6h8m21 0h6m5 0h7M629.5 108.9h17m8 0h10M596.5 110.2h2m29 0h6M482.5 111.5h5m164 0h10M658.5 112.8h11M584.5 114.1h7M537.5 115.4h7m42 0h1m52 0h15M572.5 116.7h1m9 0h3m5 0h4m62 0h5M608.5 118.0h6M508.5 119.3h5m52 0h2m34 0h7m31 0h4m21 0h5M427.5 120.6h6m180 0h5m23 0h7M389.5 121.9h3m130 0h3m91 0h3m41 0h11M586.5 123.2h6m48 0h6m6 0h9M579.5 124.5h5m27 0h3M586.5 125.8h13m9 0h1m13 0h3m14 0h1m15 0h8m6 0h2M632.5 127.1h13m20 0h4M637.5 128.4h4M596.5 129.7h9M521.5 131.0h2m83 0h13m22 0h1M622.5 132.3h9m7 0h7m19 0h5M599.5 133.6h6m47 0h5m11 0h3M376.5 134.9h2m220 0h7m32 0h6m9 0h1M599.5 136.2h2m7 0h9m39 0h4m5 0h6M479.5 137.5h8m39 0h8M648.5 138.8h11M580.5 140.1h3m52 0h11M469.5 141.4h4m108 0h5m33 0h12m13 0h13M559.5 142.7h2m25 0h7m72 0h6M336.5 144.0h1m256 0h1m4 0h6m62 0h5M373.5 145.3h2m19 0h3m12 0h2m142 0h3m75 0h3M545.5 146.6h6m71 0h8M585.5 147.9h14m5 0h6m13 0h5M391.5 149.2h8m143 0h13m45 0h3m41 0h8M592.5 151.8h1m68 0h2M499.5 153.1h1m91 0h4m23 0h13m21 0h4M521.5 154.4h11M602.5 155.8h3m22 0h16M443.5 157.1h5m81 0h7m130 0h5M567.5 158.4h7m78 0h7M383.5 159.7h2m42 0h6m191 0h7m28 0h3M622.5 161.0h6m3 0h7M452.5 162.3h2m96 0h5m30 0h1m9 0h6m16 0h5M413.5 163.6h8m67 0h5m113 0h11m20 0h4M440.5 164.9h3m8 0h8m186 0h8M391.5 166.2h1m60 0h8m147 0h3m43 0h7M406.5 168.8h6m197 0h4m15 0h5M338.5 170.1h1m66 0h7m39 0h8m118 0h7m43 0h15M408.5 171.4h3m13 0h3m147 0h8m47 0h2M402.5 172.7h10m43 0h8m69 0h2m74 0h1m22 0h14m14 0h3M405.5 174.0h9m38 0h1m130 0h1m18 0h8m30 0h3M353.5 175.3h2m174 0h5m28 0h2M347.5 176.6h4m56 0h5m193 0h7m22 0h15M595.5 177.9h1m54 0h4M405.5 179.2h5m172 0h11m48 0h7m9 0h10M523.5 180.5h7m44 0h4m41 0h10m2 0h5M413.5 181.8h3m102 0h4m35 0h12m15 0h7m19 0h7m17 0h13m12 0h2M457.5 184.4h6m33 0h7m157 0h10M404.5 185.7h2m246 0h5M354.5 187.0h9m250 0h2m14 0h3m27 0h12M507.5 189.6h3m77 0h4m53 0h1m16 0h10M620.5 190.9h7M617.5 192.2h10M563.5 193.5h4M377.5 194.8h5m89 0h4m134 0h10m30 0h11M456.5 196.1h2m59 0h8m36 0h6m39 0h3m16 0h5M336.5 197.4h5m12 0h10m300 0h8M415.5 198.7h7m215 0h5m17 0h11M521.5 200.0h4m20 0h10M363.5 201.3h3m179 0h5M403.5 202.6h3m183 0h3m49 0h7M396.5 205.2h10m51 0h5m198 0h11M482.5 206.5h2m6 0h9m44 0h6m40 0h11m58 0h4M638.5 207.8h5m6 0h6M421.5 209.1h3m185 0h16M477.5 211.7h4m13 0h6m92 0h3m57 0h6M480.5 213.0h7m45 0h6m12 0h1m55 0h3m21 0h3m19 0h9M336.5 214.3h1m256 0h3m57 0h18M665.5 215.6h6"/>
<path stroke="rgb(205, 72, 22)" stroke-width="1.35" fill="none" d="M586.5 34.7h7M633.5 36.0h4M619.5 37.3h1m18 0h4M463.5 38.6h6m118 0h5M610.5 39.9h10M620.5 41.2h3m34 0h6M591.5 42.5h6m30 0h1m11 0h4M631.5 43.8h6M650.5 45.1h6m14 0h1M581.5 46.4h9m56 0h5M588.5 47.7h3m48 0h4M588.5 50.3h8M639.5 51.6h3M587.5 52.9h3m45 0h9M580.5 54.2h7m27 0h9M494.5 55.5h3m107 0h4m9 0h7m10 0h6M600.5 56.8h4m35 0h2M598.5 59.4h7M637.5 62.0h6m6 0h6M625.5 63.3h3M593.5 64.6h3m41 0h7M595.5 67.2h6m41 0h3M652.5 68.5h3m7 0h9M583.5 69.8h6m45 0h9M638.5 71.1h5m12 0h3M655.5 72.4h5M637.5 75.0h7M564.5 77.6h5m67 0h8M536.5 78.9h4m99 0h7M640.5 80.2h3M638.5 81.5h5M543.5 82.8h1m95 0h3M579.5 84.1h4m57 0h7m15 0h1M602.5 85.4h8m27 0h9m2 0h6M636.5 86.7h3M464.5 88.0h3m158 0h9m5 0h4M579.5 89.3h5m28 0h4M625.5 90.6h8M639.5 91.9h2M638.5 93.2h8M618.5 94.5h5m16 0h2m15 0h4M430.5 95.9h4m202 0h9M560.5 97.2h3m76 0h5M638.5 98.5h5M602.5 101.1h5m32 0h3M637.5 102.4h7M573.5 103.7h4m16 0h3m35 0h3m23 0h10M583.5 106.3h3m48 0h8M626.5 107.6h4m7 0h5M632.5 108.9h13m10 0h8M628.5 110.2h4M484.5 111.5h2m165 0h9M585.5 114.1h5M648.5 115.4h4M509.5 119.3h3m90 0h3m34 0h3m24 0h1M429.5 120.6h3m210 0h5M665.5 121.9h6M587.5 123.2h4m50 0h4m9 0h5M581.5 124.5h1M587.5 125.8h11m60 0h1M633.5 127.1h11m23 0h1M597.5 129.7h7M607.5 131.0h11M624.5 132.3h6m9 0h5m22 0h2M601.5 133.6h3m66 0h1M600.5 134.9h3m35 0h4M666.5 136.2h4M480.5 137.5h6m42 0h5M649.5 138.8h7M636.5 140.1h10M470.5 141.4h2m110 0h3m35 0h10m15 0h11M586.5 142.7h6m75 0h4M336.5 144.0h1m262 0h4m64 0h4M546.5 146.6h4m74 0h5M588.5 147.9h9m8 0h3m16 0h3M392.5 149.2h6m145 0h7m96 0h5M619.5 153.1h10M521.5 154.4h11M630.5 155.8h4M530.5 157.1h5m134 0h2M568.5 158.4h5m81 0h3M429.5 159.7h2m194 0h5M624.5 161.0h2M550.5 162.3h4m43 0h2m19 0h3M414.5 163.6h7m187 0h8m22 0h2M453.5 164.9h4m189 0h7M454.5 166.2h4m196 0h5M406.5 168.8h6m198 0h2m17 0h4M406.5 170.1h6m40 0h6m121 0h3m46 0h7m2 0h4M409.5 171.4h1m164 0h7M403.5 172.7h9m45 0h5m170 0h8M406.5 174.0h7m190 0h4M530.5 175.3h3M408.5 176.6h3m197 0h2m25 0h12M651.5 177.9h2M406.5 179.2h2m176 0h7m51 0h5m11 0h8M525.5 180.5h3m47 0h1m43 0h9M562.5 181.8h7m16 0h5m23 0h1m21 0h10M458.5 184.4h4m35 0h5m159 0h8M355.5 187.0h8m297 0h9M661.5 189.6h9M620.5 190.9h5M621.5 192.2h5M610.5 194.8h8m32 0h9M518.5 196.1h7m38 0h3m60 0h2M336.5 197.4h4m14 0h8m301 0h8M416.5 198.7h5m244 0h4M522.5 200.0h2m22 0h8M546.5 201.3h2M642.5 202.6h6M397.5 205.2h8m53 0h3m200 0h10M491.5 206.5h7m46 0h3m46 0h6M639.5 207.8h3M610.5 209.1h14M494.5 211.7h5M482.5 213.0h4m48 0h3M656.5 214.3h15M667.5 215.6h1"/>
<path stroke="rgb(150, 22, 10)" stroke-width="1.35" fill="none" d="M634.5 36.0h2M464.5 38.6h4M617.5 39.9h1M658.5 41.2h4M593.5 42.5h2M651.5 45.1h4M583.5 46.4h6m58 0h3M640.5 47.7h2M589.5 50.3h5M636.5 52.9h7M581.5 54.2h5m28 0h7M618.5 55.5h5M601.5 56.8h1M639.5 62.0h2m9 0h5M638.5 64.6h5M662.5 68.5h8M585.5 69.8h3m48 0h5M640.5 71.1h1M638.5 75.0h6M565.5 77.6h3m70 0h4M537.5 78.9h2m101 0h5M640.5 81.5h1M581.5 84.1h1m60 0h3M604.5 85.4h6m28 0h6M626.5 88.0h5M581.5 89.3h1m31 0h2M626.5 90.6h6M638.5 93.2h7M620.5 94.5h1M637.5 95.9h8M640.5 97.2h3M640.5 98.5h2M603.5 101.1h4M638.5 102.4h5M658.5 103.7h8M636.5 106.3h4M638.5 107.6h4M638.5 108.9h6m11 0h7M653.5 111.5h6M586.5 114.1h3M640.5 119.3h1M644.5 120.6h1M666.5 121.9h4M656.5 123.2h1M591.5 125.8h5M634.5 127.1h8M599.5 129.7h4M609.5 131.0h3m1 0h4M626.5 132.3h3M481.5 137.5h4M651.5 138.8h3M636.5 140.1h9M622.5 141.4h7m18 0h7M588.5 142.7h2M601.5 144.0h1m65 0h4M625.5 147.9h1M393.5 149.2h4m252 0h1M620.5 153.1h5M522.5 154.4h9M569.5 158.4h3M626.5 159.7h1M551.5 162.3h2M415.5 163.6h5m189 0h6M647.5 164.9h5M407.5 168.8h4m219 0h1M407.5 170.1h4m42 0h4m172 0h4M575.5 171.4h5M404.5 172.7h7M406.5 174.0h6M636.5 176.6h9M585.5 179.2h5m71 0h4M620.5 180.5h7M565.5 181.8h2m19 0h2m49 0h6M498.5 184.4h3m161 0h6M357.5 187.0h5M661.5 189.6h8M622.5 190.9h1M611.5 194.8h6m34 0h7M519.5 196.1h5M336.5 197.4h3m17 0h5m302 0h8M417.5 198.7h3M547.5 200.0h6M642.5 202.6h5M399.5 205.2h4m259 0h8M493.5 206.5h4M611.5 209.1h13M495.5 211.7h4M657.5 214.3h14"/>
</g>
<path d="M343.4,34v2.2M377.1,34v2.2M410.8,34v2.2M444.5,34v2.2M478.2,34v2.2M511.9,34v2.2M545.6,34v2.2M579.3,34v2.2M613.0,34v2.2M646.7,34v2.2M336.5,45.1h2.2M336.5,63.1h2.2M336.5,83.0h2.2M336.5,103.0h2.2M336.5,120.7h2.2M336.5,139.6h2.2M336.5,160.0h2.2M336.5,179.3h2.2M336.5,198.4h2.2" stroke="#333" stroke-width="0.7" fill="none"/>
<path d="M486.2,34 V256.5" stroke="#222" stroke-width="1.1" stroke-dasharray="3.5,2.5"/>
<path d="M336.5,216.3 V256.5" stroke="#333" stroke-width="1" stroke-dasharray="3.5,2.5"/>
<path d="M671.5,216.3 V256.5" stroke="#333" stroke-width="1" stroke-dasharray="3.5,2.5"/>
<text x="331.5" y="49.9" font-size="13.5" text-anchor="end" font-family="Liberation Sans, sans-serif" font-weight="bold" stroke="#000" stroke-width="0.35">45</text>
<text x="331.5" y="67.9" font-size="13.5" text-anchor="end" font-family="Liberation Sans, sans-serif" font-weight="bold" stroke="#000" stroke-width="0.35">40</text>
<text x="331.5" y="87.8" font-size="13.5" text-anchor="end" font-family="Liberation Sans, sans-serif" font-weight="bold" stroke="#000" stroke-width="0.35">35</text>
<text x="331.5" y="107.8" font-size="13.5" text-anchor="end" font-family="Liberation Sans, sans-serif" font-weight="bold" stroke="#000" stroke-width="0.35">30</text>
<text x="331.5" y="125.5" font-size="13.5" text-anchor="end" font-family="Liberation Sans, sans-serif" font-weight="bold" stroke="#000" stroke-width="0.35">25</text>
<text x="331.5" y="144.4" font-size="13.5" text-anchor="end" font-family="Liberation Sans, sans-serif" font-weight="bold" stroke="#000" stroke-width="0.35">20</text>
<text x="331.5" y="164.8" font-size="13.5" text-anchor="end" font-family="Liberation Sans, sans-serif" font-weight="bold" stroke="#000" stroke-width="0.35">15</text>
<text x="331.5" y="184.1" font-size="13.5" text-anchor="end" font-family="Liberation Sans, sans-serif" font-weight="bold" stroke="#000" stroke-width="0.35">10</text>
<text x="329.1" y="203.2" font-size="13.5" text-anchor="end" font-family="Liberation Sans, sans-serif" font-weight="bold" stroke="#000" stroke-width="0.35">5</text>
<text x="329.1" y="220.7" font-size="13.5" text-anchor="end" font-family="Liberation Sans, sans-serif" font-weight="bold" stroke="#000" stroke-width="0.35">0</text>
<text x="306.2" y="135.75" font-size="13.5" text-anchor="middle" transform="rotate(-90 306.2 135.75)" font-family="Liberation Sans, sans-serif" font-weight="bold" stroke="#000" stroke-width="0.35">Frequency (Hz)</text>
<rect x="673.8" y="34.2" width="4.7" height="182.0" fill="url(#jet)"/>
<text x="681.2" y="52.2" font-size="12.3" font-family="Liberation Sans, sans-serif" font-weight="bold" stroke="#000" stroke-width="0.35">4</text>
<text x="681.2" y="72.2" font-size="12.3" font-family="Liberation Sans, sans-serif" font-weight="bold" stroke="#000" stroke-width="0.35">3</text>
<text x="681.2" y="92.1" font-size="12.3" font-family="Liberation Sans, sans-serif" font-weight="bold" stroke="#000" stroke-width="0.35">2</text>
<text x="681.2" y="112.0" font-size="12.3" font-family="Liberation Sans, sans-serif" font-weight="bold" stroke="#000" stroke-width="0.35">1</text>
<text x="681.2" y="132.0" font-size="12.3" font-family="Liberation Sans, sans-serif" font-weight="bold" stroke="#000" stroke-width="0.35">0</text>
<text x="681.2" y="152.0" font-size="12.3" font-family="Liberation Sans, sans-serif" font-weight="bold" stroke="#000" stroke-width="0.35">-1</text>
<text x="681.2" y="171.9" font-size="12.3" font-family="Liberation Sans, sans-serif" font-weight="bold" stroke="#000" stroke-width="0.35">-2</text>
<text x="681.2" y="191.8" font-size="12.3" font-family="Liberation Sans, sans-serif" font-weight="bold" stroke="#000" stroke-width="0.35">-3</text>
<text x="681.2" y="211.8" font-size="12.3" font-family="Liberation Sans, sans-serif" font-weight="bold" stroke="#000" stroke-width="0.35">-4</text>
<text x="695.0" y="125.75" font-size="13.5" text-anchor="middle" transform="rotate(90 695.0 125.75)" font-family="Liberation Sans, sans-serif" font-weight="bold" stroke="#000" stroke-width="0.35">ERSP(dB)</text>
<text x="486.3" y="12.0" font-size="13.5" font-family="Liberation Sans, sans-serif" font-weight="bold" stroke="#000" stroke-width="0.35">Behavior Evaluation</text>
<rect x="487.1" y="13.9" width="13.8" height="17.5" fill="#3c28aa"/>
<rect x="500.9" y="13.9" width="13.5" height="17.5" fill="#4b55ee"/>
<rect x="514.4" y="13.9" width="14.8" height="17.5" fill="#4a5cf2"/>
<rect x="529.2" y="13.9" width="14.1" height="17.5" fill="#1cb2c6"/>
<rect x="543.3" y="13.9" width="13.0" height="17.5" fill="#2fb9a4"/>
<rect x="556.3" y="13.9" width="29.3" height="17.5" fill="#6cc460"/>
<rect x="585.6" y="13.9" width="14.2" height="17.5" fill="#c6b932"/>
<rect x="599.8" y="13.9" width="14.1" height="17.5" fill="#f8c83a"/>
<rect x="613.9" y="13.9" width="14.1" height="17.5" fill="#f2b13e"/>
<rect x="628" y="13.9" width="14.1" height="17.5" fill="#f6b93a"/>
<rect x="642.1" y="13.9" width="14.2" height="17.5" fill="#f5c23a"/>
<rect x="656.3" y="12.2" width="13.4" height="19.2" fill="#f8f01e"/>
<rect x="671.3" y="12.9" width="2.7" height="18.4" fill="url(#parD)"/>
<text x="690.8" y="18.4" font-size="11.8" text-anchor="end" font-family="Liberation Sans, sans-serif" font-weight="bold" stroke="#000" stroke-width="0.35">1</text>
<text x="691.6" y="34.4" font-size="11.8" text-anchor="end" font-family="Liberation Sans, sans-serif" font-weight="bold" stroke="#000" stroke-width="0.35">-1</text>
<text x="411.6" y="228.4" font-size="13.5" text-anchor="middle" font-family="Liberation Sans, sans-serif" font-weight="bold" stroke="#000" stroke-width="0.35">Neutral stimulation</text>
<text x="411.6" y="244.4" font-size="13.5" text-anchor="middle" font-family="Liberation Sans, sans-serif" font-weight="bold" stroke="#000" stroke-width="0.35">phase</text>
<text x="579.0" y="228.4" font-size="13.5" text-anchor="middle" font-family="Liberation Sans, sans-serif" font-weight="bold" stroke="#000" stroke-width="0.35">Fearful stimulation</text>
<text x="579.0" y="244.4" font-size="13.5" text-anchor="middle" font-family="Liberation Sans, sans-serif" font-weight="bold" stroke="#000" stroke-width="0.35">phase</text>
<path d="M339.0,249.5 H483.7" stroke="#222" stroke-width="1.1"/>
<path d="M338.8,249.5 l4.2,-1.9 v3.8 z M483.9,249.5 l-4.2,-1.9 v3.8 z" fill="#1a1a1a"/>
<path d="M488.7,249.5 H669.0" stroke="#222" stroke-width="1.1"/>
<path d="M488.5,249.5 l4.2,-1.9 v3.8 z M669.2,249.5 l-4.2,-1.9 v3.8 z" fill="#1a1a1a"/>
<g clip-path="url(#clipB)" filter="url(#hb)">
<rect x="325" y="297.3" width="336" height="184.0" fill="rgb(54, 243, 204)"/>
<path stroke="rgb(32, 232, 232)" stroke-width="1.36" fill="none" d="M326 298.0h2m15 0h3m36 0h4m56 0h14m49 0h1m11 0h3m102 0h7M437 299.3h13m74 0h10m8 0h4m34 0h9M348 300.6h4m22 0h11m26 0h3m27 0h3m52 0h7m22 0h11m65 0h5M433 301.9h7m14 0h6m30 0h12M325 303.2h2m101 0h8m113 0h4M416 304.5h10m10 0h3m67 0h4m13 0h4m25 0h2M347 305.8h3m43 0h2m99 0h4m37 0h4M349 307.2h2m37 0h11m15 0h5M342 308.5h9m14 0h4m32 0h5m54 0h4M426 309.8h3m22 0h3m32 0h8m28 0h4m8 0h3m37 0h3M325 311.1h2m14 0h12m42 0h10m48 0h13m71 0h5M325 312.4h8m325 0h3M338 313.7h6m15 0h3m29 0h10m148 0h4m45 0h2M444 315.0h3m125 0h6m64 0h6M332 316.4h4m58 0h6m15 0h7m48 0h6m112 0h4M353 317.7h9m104 0h5m126 0h4M325 319.0h1m69 0h3m116 0h5m15 0h10m73 0h4M344 320.3h10m209 0h3m30 0h7M351 321.6h7m150 0h5m30 0h9m2 0h8M360 322.9h3m82 0h2m26 0h5m90 0h11M420 324.2h6m55 0h4m72 0h6m46 0h4m29 0h5M447 325.6h4m62 0h12m13 0h6m38 0h5M375 326.9h3m14 0h3m34 0h2M403 328.2h4m51 0h4m33 0h6m28 0h7m11 0h7M392 329.5h8m13 0h9m18 0h2m59 0h8M328 330.8h3m44 0h10m171 0h4m32 0h3M341 332.1h4m15 0h4m64 0h8m108 0h2m24 0h6M357 333.4h8m56 0h7m110 0h5M344 334.8h2m21 0h4m15 0h2m79 0h10m33 0h15m91 0h3m26 0h1M363 336.1h4m105 0h11m2 0h16m89 0h8M333 337.4h8m29 0h19m122 0h9m69 0h5m46 0h4M422 338.7h2m51 0h6m13 0h8m79 0h4M449 340.0h4m80 0h7m47 0h10M337 341.3h3m33 0h3m124 0h8m39 0h6M427 342.6h10m21 0h3m22 0h4m99 0h10M455 344.0h1m17 0h7M419 345.3h4m21 0h21m20 0h4m62 0h5M330 346.6h6m56 0h4m62 0h1m150 0h2m30 0h9M428 347.9h5m20 0h6m20 0h5M369 349.2h4m143 0h3m94 0h5M358 350.5h9m19 0h10m134 0h3m8 0h16m7 0h3m25 0h3M325 351.8h8m222 0h2m86 0h7M334 353.2h8m194 0h6m33 0h12M377 354.5h4m126 0h6m69 0h6M325 355.8h4m16 0h9m54 0h2m33 0h4m67 0h7m4 0h11m105 0h7m7 0h6M396 357.1h2m203 0h5m36 0h7M350 358.4h4m18 0h4m78 0h2m182 0h10M376 359.7h7m55 0h22m43 0h10m77 0h8M406 361.0h12m141 0h11m6 0h9m57 0h6M499 362.4h11m7 0h4m49 0h4m35 0h7M393 363.7h9m23 0h7m44 0h6m48 0h4m57 0h10m9 0h3m32 0h7M500 365.0h7m31 0h6m94 0h7M412 366.3h6m69 0h4m84 0h5M331 367.6h3m41 0h6m25 0h7m17 0h8m10 0h9m70 0h3m51 0h9m62 0h7M341 368.9h4m85 0h6m80 0h4M411 370.2h8m36 0h5m56 0h4m39 0h6M372 371.6h4m55 0h7m72 0h11m72 0h9m46 0h10M350 372.9h7m20 0h2m90 0h19m157 0h2M332 374.2h7m53 0h18m15 0h4m148 0h2m56 0h5M325 375.5h2m82 0h2m61 0h6m7 0h7m32 0h3m58 0h7m51 0h11m6 0h1M456 376.8h9m22 0h17M485 378.1h4m30 0h1M417 379.4h1m58 0h1m18 0h4m12 0h7m100 0h2M389 380.8h4m178 0h2m15 0h16m21 0h2M463 382.1h12m11 0h6m42 0h4m85 0h7m15 0h7M394 383.4h9m7 0h5m47 0h19m4 0h9m120 0h5m35 0h7M569 386.0h16m19 0h5m11 0h3m11 0h8m14 0h4M342 387.3h6m67 0h8m78 0h7m20 0h7m15 0h11m6 0h9m36 0h1m26 0h3m14 0h4M332 388.6h3m21 0h7m38 0h6m130 0h5m22 0h2m39 0h1m11 0h8M371 390.0h3m86 0h5m128 0h7m6 0h9m21 0h4m10 0h10M436 391.3h7m128 0h10m2 0h3m8 0h3m9 0h3m13 0h3m22 0h1M327 392.6h9m12 0h3m22 0h17m133 0h6m39 0h1m63 0h5m10 0h9M325 393.9h3m158 0h4m59 0h6m90 0h7m3 0h6M441 395.2h5m102 0h10m4 0h7m34 0h12m13 0h5m3 0h11M487 396.5h6m159 0h3M419 397.8h11m23 0h18m7 0h7m52 0h5m69 0h6m20 0h2M417 399.2h8m84 0h8m78 0h2M354 400.5h8m51 0h7m57 0h3m45 0h7m54 0h1m8 0h5M325 401.8h6m26 0h11m19 0h11m46 0h13m85 0h6m93 0h5m11 0h4M335 403.1h2m40 0h12m17 0h1m72 0h3m3 0h9m13 0h4m78 0h8m6 0h5m10 0h4M431 404.4h8m49 0h6m26 0h2m9 0h6M439 405.7h5m15 0h3m29 0h14M350 407.0h2m7 0h8m101 0h7m32 0h5m53 0h1m40 0h7m31 0h2M541 408.4h5m44 0h6M426 409.7h3m54 0h12m26 0h2m68 0h7m11 0h4M363 411.0h7m31 0h13m40 0h10m64 0h10m79 0h6m15 0h4M329 412.3h11m89 0h3m10 0h4m48 0h5m84 0h4m36 0h3m10 0h7M397 413.6h2m43 0h6m23 0h3m58 0h3m76 0h2M339 414.9h5m39 0h16m8 0h4m24 0h4m48 0h5m52 0h2M371 416.2h8m12 0h6m11 0h7m43 0h9m48 0h26m9 0h8m36 0h13m34 0h3M479 417.6h9m74 0h6M401 418.9h2m38 0h10m132 0h5m3 0h7m8 0h3m6 0h13M331 420.2h9m63 0h8m41 0h7m76 0h6m18 0h4m61 0h6M325 421.5h3m49 0h7m45 0h2m12 0h4m36 0h5m17 0h8m63 0h12m51 0h1m16 0h5M336 422.8h6m26 0h8m45 0h6m108 0h10m28 0h9m32 0h5m30 0h12M353 424.1h4m19 0h7m55 0h7m17 0h11m44 0h25m64 0h7M329 425.4h3m74 0h2m11 0h19m33 0h6m52 0h6m41 0h4m57 0h4M357 426.8h10m21 0h6m68 0h4m30 0h9m47 0h2m22 0h7m22 0h9m11 0h4M409 428.1h3m59 0h3m125 0h2M327 429.4h5m81 0h1m20 0h7m52 0h4m16 0h5m18 0h12m83 0h11M343 430.7h4m112 0h2m19 0h7m31 0h11m82 0h5M325 432.0h5m4 0h13m88 0h9m19 0h5m34 0h6m128 0h8m8 0h9M403 433.3h6m27 0h14m4 0h5m72 0h4m32 0h5M513 434.6h5m102 0h9M452 436.0h2m10 0h5m156 0h3M389 437.3h21m110 0h5m126 0h7M547 438.6h7m75 0h6m2 0h10M396 439.9h2m36 0h2m49 0h8m51 0h9m77 0h3M371 441.2h2m100 0h2M402 442.5h3m126 0h1m36 0h13M364 443.8h11m105 0h5m3 0h9m20 0h9m14 0h3m38 0h12m30 0h7m13 0h3M365 445.2h9m97 0h10m42 0h7m68 0h9m21 0h3M325 446.5h9m52 0h4m16 0h18m49 0h8m46 0h12m31 0h12m15 0h3m17 0h6m33 0h5M380 447.8h1m11 0h8m41 0h8m74 0h6m34 0h9m51 0h4M325 449.1h5m12 0h5m131 0h5m15 0h2m99 0h9m26 0h6m19 0h2M381 450.4h9m20 0h4m55 0h4m15 0h10m66 0h6m59 0h2m24 0h6M339 451.7h2m28 0h8m36 0h3m16 0h24m136 0h9m29 0h4m19 0h6M407 453.0h4m36 0h12m103 0h17m8 0h6M373 454.4h10m36 0h6m33 0h3m26 0h7m68 0h8m20 0h4M365 455.7h12m23 0h13m22 0h9m103 0h2m61 0h3M335 457.0h10m42 0h6m23 0h9m21 0h3m24 0h23m22 0h6m9 0h15m22 0h7m5 0h5m55 0h6M339 458.3h11m52 0h2m46 0h3m24 0h5m29 0h3m64 0h13m6 0h7M342 459.6h4m34 0h2m53 0h4m192 0h2M372 460.9h6m71 0h15m149 0h11M325 462.2h1m100 0h18m14 0h2m197 0h4M365 463.6h2m141 0h3m57 0h12m51 0h8M482 464.9h5m12 0h2m34 0h15m42 0h7m20 0h3M355 466.2h3m228 0h9M342 467.5h8m22 0h10m10 0h18m11 0h11m165 0h9M343 468.8h5m52 0h6m47 0h4m8 0h3m36 0h9m113 0h7M325 470.1h3m41 0h3m124 0h10m84 0h3m33 0h1m28 0h6M328 471.4h5m69 0h5m141 0h6m48 0h10m43 0h6M355 472.8h6m23 0h9m43 0h2m89 0h3m47 0h3m36 0h17M373 474.1h12m40 0h7m76 0h6m89 0h9m26 0h3M376 475.4h12m120 0h4m78 0h13M351 476.7h8m53 0h16m44 0h7m98 0h1m11 0h11m34 0h4m12 0h5M346 478.0h6m12 0h17m75 0h4m84 0h2m24 0h1M325 479.3h1m18 0h4m11 0h2m19 0h5m12 0h2m244 0h6m6 0h6M333 480.6h5m27 0h7m4 0h5m197 0h5"/>
<path stroke="rgb(105, 248, 150)" stroke-width="1.36" fill="none" d="M332 298.0h8m15 0h2m8 0h13m15 0h10m13 0h7m4 0h12m23 0h17m13 0h6m47 0h10m5 0h10m14 0h20m6 0h8m13 0h29M329 299.3h12m1 0h8m21 0h12m22 0h13m4 0h12m22 0h10m11 0h3m12 0h4m11 0h14m28 0h14m29 0h69M328 300.6h13m77 0h11m27 0h8m5 0h22m22 0h8m27 0h11m5 0h34m10 0h10m6 0h37M335 301.9h9m9 0h4m19 0h9m37 0h8m15 0h5m120 0h20m7 0h64M344 303.2h8m17 0h5m18 0h32m14 0h5m22 0h7m6 0h17m7 0h35m21 0h3m7 0h15m12 0h9m3 0h8m11 0h19m6 0h8M348 304.5h6m10 0h27m11 0h9m32 0h13m10 0h4m11 0h8m24 0h7m11 0h14m13 0h27m6 0h47m19 0h4M325 305.8h3m8 0h6m20 0h6m5 0h10m18 0h7m11 0h4m2 0h12m5 0h3m12 0h27m19 0h6m33 0h6m6 0h23m8 0h16m4 0h33m3 0h20M335 307.2h1m67 0h6m16 0h5m7 0h5m6 0h11m36 0h12m5 0h5m18 0h8m11 0h26m13 0h15m1 0h46M325 308.5h11m87 0h11m10 0h7m18 0h5m7 0h13m25 0h7m5 0h11m23 0h4m9 0h15m13 0h8m6 0h13m5 0h23M345 309.8h19m7 0h7m3 0h17m11 0h4m21 0h11m29 0h7m59 0h30m13 0h54m5 0h11M336 311.1h1m23 0h15m34 0h11m13 0h4m57 0h15m18 0h7m13 0h5m15 0h40m21 0h14M336 312.4h10m16 0h18m47 0h9m15 0h26m31 0h9m5 0h19m25 0h32m5 0h41m5 0h6M370 313.7h7m47 0h7m44 0h7m2 0h5m6 0h7m8 0h7m17 0h10m17 0h34m8 0h4m13 0h41M325 315.0h11m6 0h13m38 0h4m28 0h8m26 0h47m8 0h2m5 0h12m10 0h7m36 0h9m10 0h8m7 0h18m12 0h11M346 316.4h15m8 0h9m7 0h5m16 0h6m13 0h10m4 0h9m4 0h5m25 0h7m12 0h20m16 0h5m8 0h8m12 0h12m13 0h9m8 0h8m11 0h6m8 0h10m3 0h3M367 317.7h5m33 0h7m8 0h27m9 0h8m12 0h5m9 0h16m26 0h10m28 0h11m25 0h32m3 0h20M354 319.0h16m16 0h4m12 0h18m3 0h6m4 0h6m13 0h22m9 0h6m13 0h9m12 0h2m29 0h23m6 0h8m9 0h14m10 0h11m17 0h5M326 320.3h7m39 0h4m9 0h17m2 0h18m33 0h7m24 0h16m22 0h16m6 0h13m18 0h16m19 0h8m11 0h13m13 0h4M325 321.6h7m30 0h8m40 0h30m30 0h2m8 0h12m6 0h7m61 0h23m12 0h9m10 0h23m4 0h14M332 322.9h12m22 0h11m9 0h23m9 0h18m45 0h8m37 0h12m5 0h10m29 0h31m4 0h44M331 324.2h1m5 0h24m9 0h5m12 0h21m50 0h7m27 0h14m16 0h12m42 0h31m10 0h21m11 0h12M326 325.6h10m6 0h2m14 0h2m13 0h8m16 0h9m12 0h7m4 0h7m43 0h8m6 0h9m26 0h6m16 0h9m12 0h4m16 0h6m3 0h7m10 0h26m17 0h1M326 326.9h11m28 0h6m30 0h9m6 0h3m18 0h30m3 0h9m10 0h29m8 0h20m10 0h4m7 0h8m4 0h22m13 0h37m8 0h2M326 328.2h8m13 0h24m3 0h14m27 0h12m18 0h6m33 0h8m14 0h11m23 0h3m17 0h83m12 0h6M342 329.5h18m19 0h7m39 0h8m24 0h13m7 0h2m6 0h13m13 0h32m3 0h6m15 0h32m4 0h15m5 0h16m14 0h8M338 330.8h6m12 0h14m19 0h4m22 0h1m27 0h15m4 0h7m30 0h8m14 0h13m12 0h8m17 0h18m9 0h15m5 0h43M353 332.1h3m24 0h12m58 0h6m13 0h22m3 0h17m9 0h3m38 0h8m21 0h53m10 0h4M325 333.4h11m11 0h6m30 0h8m57 0h16m6 0h1m13 0h8m17 0h15m23 0h9m13 0h9m4 0h9m7 0h12m7 0h25m6 0h13M328 334.8h12m36 0h6m28 0h4m25 0h4m46 0h12m32 0h1m22 0h8m6 0h39m13 0h16m15 0h8M325 336.1h5m2 0h15m23 0h8m37 0h9m5 0h3m87 0h2m8 0h9m36 0h11m15 0h9m6 0h23m3 0h20M348 337.4h15m39 0h2m4 0h7m1 0h7m7 0h8m5 0h6m4 0h4m4 0h16m19 0h12m33 0h24m7 0h10m16 0h40m11 0h12M325 338.7h8m6 0h8m7 0h5m2 0h7m14 0h15m10 0h11m9 0h9m21 0h8m1 0h2m17 0h3m18 0h18m27 0h5m12 0h10m10 0h24m3 0h10m4 0h7m6 0h12m4 0h3M337 340.0h9m11 0h7m18 0h7m6 0h23m14 0h13m27 0h8m26 0h4m6 0h10m16 0h9m22 0h11m15 0h22m7 0h7m4 0h14m4 0h4M325 341.3h9m21 0h9m32 0h4m45 0h13m69 0h15m14 0h21m12 0h25m6 0h16m8 0h17M325 342.6h4m13 0h4m29 0h5m10 0h16m46 0h4m9 0h16m8 0h10m14 0h5m39 0h27m14 0h48m14 0h1M345 344.0h16m5 0h5m23 0h12m7 0h8m8 0h3m16 0h1m11 0h10m21 0h24m8 0h17m25 0h3m15 0h27m4 0h32m9 0h6M336 345.3h9m20 0h3m26 0h12m3 0h5m14 0h6m40 0h4m16 0h18m48 0h14m10 0h28m6 0h35m7 0h1M325 346.6h2m17 0h5m17 0h5m12 0h3m14 0h7m10 0h6m17 0h11m12 0h27m14 0h15m7 0h15m2 0h35m8 0h5m7 0h7m10 0h18m19 0h9M325 347.9h1m7 0h16m17 0h10m28 0h20m13 0h12m13 0h11m22 0h10m7 0h11m8 0h11m20 0h15m6 0h42m4 0h32M347 349.2h10m21 0h14m31 0h31m4 0h12m7 0h13m8 0h1m9 0h4m10 0h18m12 0h12m5 0h25m10 0h5m12 0h28M325 350.5h16m70 0h56m4 0h10m25 0h7m9 0h4m44 0h18m14 0h9m3 0h7m8 0h10m6 0h16M349 351.8h3m35 0h16m46 0h5m18 0h5m18 0h13m13 0h6m20 0h5m10 0h14m8 0h2m17 0h38M346 353.2h11m31 0h6m7 0h4m11 0h2m22 0h6m16 0h42m6 0h22m14 0h20m24 0h19m1 0h29m11 0h11M331 354.5h22m4 0h3m26 0h10m10 0h13m9 0h11m15 0h7m21 0h7m28 0h12m13 0h12m3 0h6m41 0h20m4 0h8m9 0h15M374 355.8h21m27 0h5m9 0h4m17 0h9m22 0h15m37 0h24m7 0h10m24 0h3m5 0h25M325 357.1h21m25 0h6m7 0h3m30 0h8m32 0h6m11 0h3m17 0h1m12 0h20m10 0h12m8 0h3m7 0h4m7 0h7m6 0h5m22 0h21m14 0h8M336 358.4h10m36 0h2m39 0h27m12 0h28m18 0h5m20 0h3m12 0h67m11 0h10M325 359.7h26m35 0h20m3 0h24m38 0h11m8 0h9m39 0h3m11 0h14m11 0h9m18 0h7m9 0h33m4 0h4M337 361.0h6m7 0h14m17 0h22m38 0h16m7 0h37m4 0h13m4 0h15m7 0h12m31 0h7m4 0h14m10 0h17m11 0h8M325 362.4h16m12 0h5m18 0h13m46 0h16m7 0h18m14 0h6m34 0h19m5 0h13m11 0h10m31 0h15m13 0h14M325 363.7h35m10 0h6m6 0h7m25 0h7m44 0h8m22 0h12m11 0h9m11 0h5m11 0h19m9 0h7m27 0h26m14 0h5M325 365.0h28m10 0h5m14 0h1m2 0h9m10 0h5m11 0h3m8 0h29m15 0h4m8 0h4m26 0h15m27 0h38m3 0h9m6 0h11m3 0h6m13 0h13M329 366.3h17m9 0h1m15 0h8m9 0h8m121 0h24m7 0h7m27 0h22m5 0h8m11 0h3m8 0h8m10 0h2M338 367.6h8m38 0h7m7 0h4m14 0h5m19 0h7m27 0h10m5 0h3m17 0h7m3 0h5m19 0h5m6 0h7m14 0h4m18 0h9m18 0h18M328 368.9h9m32 0h7m4 0h11m5 0h6m7 0h17m25 0h4m20 0h10m11 0h4m23 0h43m3 0h11m13 0h16m5 0h36M351 370.2h14m13 0h3m14 0h11m29 0h7m2 0h8m31 0h17m24 0h6m6 0h21m34 0h7m8 0h11m1 0h18m19 0h6M326 371.6h11m15 0h5m26 0h30m4 0h3m6 0h2m20 0h8m8 0h9m5 0h10m11 0h9m24 0h9m7 0h29m34 0h12m6 0h6M325 372.9h22m18 0h9m10 0h21m21 0h32m1 0h7m25 0h9m7 0h40m10 0h17m5 0h9m19 0h13m7 0h14m10 0h10M325 374.2h5m11 0h10m6 0h7m2 0h23m44 0h10m12 0h16m12 0h29m23 0h9m8 0h13m5 0h3m9 0h10m15 0h12m7 0h7m21 0h7M331 375.5h31m17 0h22m13 0h25m62 0h19m14 0h10m7 0h12m6 0h11m17 0h41M325 376.8h38m36 0h10m7 0h8m11 0h17m18 0h10m28 0h12m13 0h52m13 0h63M325 378.1h3m15 0h13m32 0h23m11 0h2m13 0h5m11 0h6m8 0h10m15 0h21m12 0h16m10 0h12m35 0h16m6 0h17m7 0h9m2 0h6M330 379.4h7m9 0h11m4 0h5m6 0h5m9 0h9m10 0h7m21 0h30m18 0h10m31 0h28m13 0h29m5 0h11m17 0h16m10 0h5M331 380.8h11m3 0h20m31 0h3m16 0h15m28 0h6m11 0h7m4 0h38m11 0h11m8 0h3m7 0h4m7 0h10m27 0h9m10 0h6m9 0h15M325 382.1h19m5 0h12m5 0h12m3 0h7m4 0h52m6 0h10m35 0h17m3 0h8m4 0h3m18 0h19m7 0h18m45 0h3m15 0h6M332 383.4h4m4 0h2m11 0h10m4 0h7m7 0h8m30 0h8m9 0h22m47 0h19m33 0h7m4 0h35m20 0h14M325 384.7h7m11 0h6m10 0h8m18 0h9m7 0h21m6 0h3m4 0h26m10 0h13m7 0h18m11 0h14m13 0h28m21 0h6m11 0h14m4 0h22m1 0h7M328 386.0h11m14 0h2m25 0h2m13 0h11m21 0h17m18 0h10m12 0h20m19 0h7m8 0h18m3 0h7m22 0h5m19 0h5M327 387.3h7m35 0h2m13 0h26m16 0h10m5 0h8m10 0h12m7 0h4m33 0h11m12 0h8m31 0h29m12 0h19m8 0h9M325 388.6h2m20 0h5m13 0h32m26 0h2m8 0h17m12 0h27m7 0h31m20 0h11m11 0h10m4 0h18m10 0h1m26 0h23M344 390.0h22m14 0h2m31 0h18m18 0h6m14 0h10m7 0h27m12 0h12m6 0h18m10 0h17m36 0h10m8 0h7M325 391.3h6m4 0h22m7 0h18m22 0h5m9 0h11m28 0h8m10 0h27m35 0h13m62 0h6m11 0h14m8 0h10M338 392.6h8m63 0h10m32 0h8m8 0h3m24 0h14m30 0h9m5 0h11m29 0h12m14 0h9m14 0h3M342 393.9h10m18 0h7m14 0h11m13 0h2m23 0h11m8 0h8m10 0h3m13 0h19m5 0h18m25 0h2m8 0h21m2 0h19m15 0h16M329 395.2h10m13 0h4m9 0h58m5 0h4m21 0h12m8 0h5m6 0h5m23 0h3m25 0h5m31 0h6m7 0h11m18 0h8m25 0h3M325 396.5h2m6 0h37m36 0h10m13 0h22m18 0h16m21 0h15m2 0h10m3 0h31m5 0h7m6 0h24m8 0h9m5 0h17m10 0h3M330 397.8h19m10 0h14m16 0h12m32 0h12m45 0h3m8 0h2m9 0h18m43 0h35m22 0h4m13 0h11M325 399.2h7m11 0h19m5 0h11m6 0h3m3 0h11m27 0h5m8 0h14m18 0h8m15 0h3m23 0h16m13 0h18m6 0h17m9 0h3m5 0h27m9 0h12m2 0h2M325 400.5h26m18 0h4m8 0h9m6 0h5m22 0h8m31 0h3m21 0h9m15 0h7m17 0h46m11 0h1m12 0h6m10 0h41M334 401.8h13m29 0h7m27 0h16m34 0h17m9 0h13m19 0h9m44 0h26m15 0h27m11 0h2M340 403.1h6m20 0h1m45 0h11m10 0h9m7 0h9m10 0h5m42 0h8m27 0h11m5 0h9m1 0h10m23 0h6m11 0h32M333 404.4h10m20 0h14m3 0h5m4 0h16m8 0h7m1 0h7m14 0h43m14 0h18m35 0h10m21 0h13m6 0h14m14 0h12m7 0h12M331 405.7h24m2 0h6m8 0h6m22 0h13m16 0h6m13 0h10m8 0h6m35 0h14m19 0h5m6 0h3m2 0h13m4 0h14m7 0h13m10 0h11m15 0h12m5 0h2M325 407.0h4m5 0h2m6 0h5m24 0h6m7 0h6m7 0h23m22 0h6m12 0h3m16 0h12m8 0h4m13 0h2m20 0h5m8 0h10m11 0h26m21 0h5m3 0h15m15 0h4M326 408.4h6m6 0h8m4 0h3m16 0h23m8 0h15m17 0h14m15 0h21m16 0h10m10 0h10m2 0h7m12 0h4m2 0h19m6 0h7m21 0h7m11 0h28m6 0h1M325 409.7h14m5 0h4m11 0h17m1 0h16m27 0h1m12 0h3m69 0h12m27 0h7m3 0h3m29 0h1m14 0h3m12 0h7m8 0h30M325 411.0h17m8 0h4m27 0h9m43 0h9m32 0h7m10 0h30m40 0h4m4 0h20m7 0h7m7 0h5m10 0h11m10 0h5m6 0h4M325 412.3h1m17 0h7m14 0h4m22 0h4m3 0h29m47 0h9m42 0h17m10 0h29m12 0h4m9 0h6m6 0h3m8 0h6m12 0h15M332 413.6h6m33 0h8m32 0h12m4 0h11m14 0h15m11 0h36m6 0h8m11 0h11m13 0h29m24 0h14m4 0h25M325 414.9h11m15 0h29m38 0h14m46 0h6m18 0h37m44 0h18m11 0h11m6 0h18m2 0h12M335 416.2h11m2 0h9m24 0h7m12 0h5m15 0h13m50 0h15m6 0h8m48 0h9m3 0h20m19 0h8m11 0h8m11 0h8M358 417.6h30m10 0h8m13 0h10m26 0h20m17 0h6m15 0h5m7 0h34m11 0h24m4 0h10m3 0h6m8 0h10m10 0h16M333 418.9h15m6 0h7m8 0h14m1 0h12m11 0h7m41 0h5m12 0h13m8 0h25m10 0h3m5 0h20m14 0h3m59 0h23M392 420.2h8m26 0h9m6 0h2m19 0h38m12 0h19m35 0h29m6 0h21m11 0h15M331 421.5h20m10 0h11m28 0h14m5 0h6m25 0h4m4 0h22m11 0h10m14 0h8m14 0h7m9 0h6m33 0h43M346 422.8h18m15 0h9m18 0h13m22 0h7m2 0h26m9 0h15m7 0h4m10 0h12m19 0h11m22 0h5m5 0h16m18 0h16M325 424.1h3m11 0h11m20 0h2m20 0h6m7 0h10m12 0h8m42 0h38m32 0h2m9 0h12m7 0h15m8 0h4m12 0h29m9 0h7M348 425.4h16m4 0h10m11 0h13m44 0h14m20 0h13m13 0h20m14 0h26m2 0h3m13 0h14m7 0h8m15 0h8m8 0h17M341 426.8h8m51 0h8m1 0h14m6 0h11m17 0h2m11 0h15m26 0h8m19 0h9m11 0h7m4 0h4m14 0h13m33 0h12m6 0h10M325 428.1h4m10 0h2m11 0h7m5 0h3m10 0h14m26 0h4m6 0h20m40 0h25m24 0h12m26 0h23m6 0h10m8 0h20m9 0h11M334 429.4h10m4 0h6m26 0h8m31 0h11m14 0h11m25 0h10m33 0h11m17 0h19m13 0h9m27 0h7m23 0h11M325 430.7h14m16 0h9m13 0h10m9 0h2m16 0h10m17 0h11m12 0h14m20 0h11m26 0h36m7 0h30m21 0h15m7 0h10M354 432.0h11m10 0h6m16 0h8m6 0h19m18 0h8m15 0h12m10 0h6m11 0h7m5 0h20m2 0h16m10 0h21m8 0h15m8 0h12M325 433.3h11m7 0h8m8 0h10m7 0h23m16 0h12m40 0h6m13 0h20m38 0h13m19 0h14m9 0h50m4 0h8M329 434.6h11m6 0h3m19 0h15m39 0h22m9 0h40m7 0h10m13 0h16m9 0h5m9 0h17m14 0h25m14 0h7m7 0h15M325 436.0h2m4 0h17m2 0h4m6 0h17m23 0h5m6 0h5m25 0h7m27 0h15m30 0h19m9 0h32m8 0h23m20 0h4m9 0h17M327 437.3h4m35 0h6m8 0h3m31 0h6m9 0h17m29 0h19m20 0h2m15 0h10m14 0h40m10 0h30m4 0h8M325 438.6h18m13 0h4m9 0h16m2 0h16m8 0h9m5 0h8m10 0h74m6 0h9m27 0h5m16 0h11m2 0h13m7 0h13m24 0h11M337 439.9h29m6 0h12m17 0h14m36 0h12m34 0h9m4 0h9m16 0h5m22 0h18m3 0h15m6 0h14m19 0h24M325 441.2h38m24 0h3m18 0h4m8 0h25m7 0h15m11 0h37m17 0h29m6 0h44m2 0h8m2 0h20m12 0h6M325 442.5h3m3 0h19m5 0h7m5 0h5m6 0h4m10 0h7m10 0h3m8 0h4m7 0h5m3 0h5m26 0h17m17 0h15m22 0h8m7 0h10m18 0h20m2 0h8m6 0h5m7 0h9m3 0h6m5 0h6M332 443.8h5m12 0h10m54 0h22m4 0h12m4 0h21m25 0h9m18 0h7m16 0h14m7 0h5m19 0h14m5 0h5m14 0h5M332 445.2h7m10 0h13m15 0h24m10 0h7m45 0h4m17 0h6m15 0h16m17 0h11m2 0h30m29 0h15m20 0h5M375 446.5h3m16 0h9m37 0h17m27 0h4m25 0h12m20 0h6m8 0h5m20 0h4m15 0h4m19 0h16M328 447.8h11m12 0h3m18 0h2m31 0h6m9 0h3m9 0h5m19 0h10m8 0h9m4 0h4m10 0h19m17 0h13m6 0h4m19 0h5m7 0h2m10 0h5m5 0h7m10 0h6m5 0h6M356 449.1h8m8 0h3m5 0h4m19 0h5m29 0h6m19 0h9m14 0h9m12 0h1m4 0h28m11 0h6m17 0h10m28 0h14m20 0h12M330 450.4h12m20 0h9m30 0h7m10 0h8m1 0h17m6 0h16m44 0h3m28 0h20m16 0h18m7 0h3m13 0h8m9 0h16M326 451.7h9m11 0h13m28 0h5m13 0h5m9 0h10m31 0h8m9 0h17m6 0h8m5 0h7m15 0h5m16 0h8m19 0h7m16 0h20m12 0h7M325 453.0h47m5 0h14m5 0h6m12 0h20m28 0h33m1 0h14m16 0h11m5 0h1m8 0h8m22 0h3m11 0h12m11 0h26m8 0h9M329 454.4h11m4 0h26m22 0h3m11 0h3m21 0h17m17 0h21m19 0h3m6 0h32m28 0h15m9 0h5m5 0h11m10 0h9m5 0h6m2 0h11M330 455.7h26m34 0h6m20 0h16m15 0h13m12 0h13m11 0h6m17 0h23m12 0h21m11 0h19m19 0h12m16 0h4M370 457.0h13m44 0h5m6 0h4m10 0h12m37 0h12m40 0h4m2 0h9m32 0h13m7 0h8m8 0h4M331 458.3h4m18 0h20m10 0h13m13 0h6m6 0h22m17 0h13m12 0h14m19 0h34m7 0h16m36 0h23m10 0h17M332 459.6h6m13 0h19m20 0h14m8 0h8m22 0h57m4 0h10m25 0h11m7 0h6m13 0h29m1 0h23m10 0h23M325 460.9h3m18 0h1m34 0h8m3 0h14m17 0h22m32 0h3m17 0h15m6 0h10m5 0h11m5 0h28m7 0h27m16 0h7m3 0h24M344 462.2h39m4 0h33m29 0h3m13 0h10m7 0h34m18 0h7m6 0h11m12 0h31m1 0h7m13 0h12m4 0h7M332 463.6h9m4 0h15m10 0h4m14 0h29m9 0h3m19 0h39m3 0h6m6 0h4m8 0h4m14 0h14m13 0h7m15 0h7m7 0h28m18 0h7M337 464.9h13m11 0h8m1 0h8m3 0h13m12 0h10m6 0h9m13 0h6m21 0h9m28 0h16m30 0h14m34 0h13m13 0h17m9 0h7M325 466.2h7m11 0h8m12 0h6m10 0h17m15 0h17m10 0h19m12 0h6m39 0h19m5 0h19m7 0h10m23 0h6m3 0h16m28 0h11M325 467.5h14m18 0h12m44 0h6m22 0h45m8 0h56m15 0h29m48 0h9m4 0h6M352 468.8h2m6 0h14m10 0h13m11 0h22m31 0h1m9 0h19m31 0h18m9 0h8m3 0h15m7 0h14m7 0h20m14 0h23M334 470.1h3m23 0h6m16 0h10m5 0h16m8 0h13m6 0h24m8 0h9m28 0h9m3 0h24m3 0h12m5 0h21m11 0h12m28 0h15M339 471.4h4m18 0h20m7 0h9m16 0h5m41 0h12m3 0h45m3 0h19m23 0h35m18 0h10m12 0h9M333 472.8h17m15 0h4m43 0h4m7 0h9m9 0h8m7 0h8m21 0h10m9 0h12m32 0h3m6 0h18m8 0h25m33 0h20M325 474.1h7m5 0h4m4 0h8m7 0h7m39 0h10m19 0h18m18 0h2m12 0h22m11 0h34m14 0h5m11 0h7m26 0h5m7 0h8m10 0h7m7 0h2M325 475.4h25m45 0h8m1 0h8m13 0h39m6 0h15m7 0h4m4 0h5m11 0h5m7 0h15m15 0h28m39 0h36M326 476.7h6m10 0h4m17 0h9m8 0h7m19 0h2m32 0h8m6 0h10m18 0h10m13 0h8m5 0h16m21 0h18m36 0h13m19 0h7M325 478.0h8m51 0h18m6 0h43m14 0h41m13 0h10m4 0h6m13 0h6m18 0h23m11 0h30m2 0h9m3 0h7M330 479.3h4m32 0h11m11 0h6m21 0h5m5 0h2m41 0h7m12 0h3m8 0h11m10 0h11m21 0h3m4 0h8m7 0h9m1 0h8m6 0h5m4 0h13m3 0h18M341 480.6h8m34 0h12m11 0h8m27 0h12m26 0h33m5 0h11m6 0h7m7 0h12m6 0h9m11 0h75"/>
<path stroke="rgb(170, 240, 80)" stroke-width="1.36" fill="none" d="M334 298.0h5m27 0h11m17 0h6m30 0h8m26 0h6m77 0h6m10 0h4m21 0h15m9 0h3m18 0h26M331 299.3h8m34 0h7m28 0h8m8 0h9m28 0h3m45 0h4m4 0h3m30 0h11m35 0h7m2 0h7m6 0h12m7 0h9m4 0h10M330 300.6h9m80 0h8m56 0h4m29 0h4m31 0h6m8 0h32m12 0h8m8 0h14m3 0h10m6 0h3M337 301.9h5m84 0h2m144 0h15m11 0h16m5 0h26m7 0h9M346 303.2h3m45 0h22m23 0h3m40 0h6m32 0h4m45 0h12m16 0h5m7 0h4m14 0h17m8 0h6M367 304.5h6m31 0h5m39 0h5m29 0h5m28 0h4m18 0h4m19 0h1m6 0h7m5 0h5m9 0h43m22 0h3M325 305.8h1m49 0h7m45 0h8m25 0h23m60 0h3m9 0h19m12 0h14m6 0h31m6 0h5m6 0h7M450 307.2h7m39 0h10m31 0h5m14 0h21m18 0h11m5 0h10m6 0h25M325 308.5h3m96 0h8m147 0h12m16 0h6m8 0h11m8 0h21M350 309.8h11m22 0h13m39 0h8m98 0h15m7 0h5m17 0h19m4 0h29m6 0h9M362 311.1h6m44 0h6m78 0h11m21 0h5m39 0h33m26 0h9M338 312.4h6m22 0h12m51 0h5m21 0h7m10 0h3m48 0h17m27 0h29m10 0h3m4 0h5m3 0h22m8 0h3M477 313.7h2m18 0h3m11 0h5m21 0h6m21 0h19m3 0h8m10 0h2m21 0h20m6 0h3M328 315.0h5m11 0h8m108 0h25m16 0h3m18 0h9m58 0h4m13 0h6m9 0h12m18 0h10M355 316.4h4m11 0h6m31 0h5m14 0h8m8 0h4m56 0h18m31 0h6m15 0h6m18 0h5m13 0h4m29 0h6M407 317.7h3m47 0h7m36 0h3m68 0h8m29 0h7m5 0h17m12 0h12M357 319.0h10m46 0h5m6 0h3m26 0h10m40 0h6m48 0h18m10 0h4m14 0h9m13 0h9M389 320.3h10m97 0h4m27 0h11m10 0h9m22 0h13m21 0h5m14 0h11m17 0h1M326 321.6h5m32 0h5m58 0h12m61 0h5m64 0h8m4 0h7m16 0h5m15 0h19m6 0h13M367 322.9h8m12 0h14m21 0h3m102 0h9m8 0h8m31 0h28m8 0h4m5 0h33M339 324.2h8m4 0h7m32 0h2m69 0h1m33 0h9m20 0h8m47 0h27m12 0h19m13 0h8M327 325.6h7m65 0h6m27 0h1m47 0h5m44 0h3m21 0h4m61 0h24M328 326.9h6m69 0h5m34 0h6m10 0h7m26 0h14m31 0h3m29 0h5m8 0h18m17 0h25m6 0h2m11 0h1M329 328.2h3m16 0h8m9 0h3m8 0h9m34 0h5m62 0h5m16 0h8m47 0h80m15 0h4M344 329.5h15m67 0h5m28 0h9m20 0h7m18 0h20m37 0h16m19 0h10m12 0h11m16 0h7M359 330.8h3m82 0h7m72 0h8m17 0h4m20 0h16m11 0h12m11 0h16m4 0h11m5 0h2M383 332.1h7m81 0h16m11 0h10m54 0h6m25 0h4m3 0h24m4 0h14M328 333.4h6m52 0h3m61 0h13m23 0h4m21 0h3m4 0h4m26 0h6m17 0h6m6 0h7m9 0h9m11 0h18m12 0h12M330 334.8h9m153 0h5m62 0h3m11 0h18m6 0h9m17 0h13m19 0h6M325 336.1h3m6 0h10m27 0h5m154 0h6m43 0h3m19 0h7m8 0h21m5 0h19M350 337.4h12m56 0h3m43 0h12m21 0h9m48 0h8m11 0h8m19 0h2m7 0h28m14 0h10M325 338.7h7m8 0h6m40 0h10m14 0h7m12 0h4m75 0h13m48 0h8m12 0h21m6 0h7m8 0h3m10 0h9m6 0h2M339 340.0h4m53 0h3m5 0h12m18 0h10m31 0h4m41 0h3m51 0h8m18 0h21m8 0h5m6 0h12M325 341.3h7m114 0h4m80 0h10m18 0h3m7 0h8m16 0h11m1 0h7m11 0h4m3 0h6m10 0h16M391 342.6h14m66 0h9m10 0h7m62 0h24m16 0h21m6 0h17M347 344.0h13m54 0h7m40 0h8m24 0h16m17 0h1m58 0h18m2 0h2m8 0h29M339 345.3h5m52 0h8m27 0h1m63 0h10m56 0h12m13 0h25m8 0h5m4 0h24M401 346.6h5m12 0h3m20 0h8m16 0h9m32 0h9m15 0h8m10 0h14m2 0h10m26 0h4m12 0h16m21 0h8M407 347.9h16m15 0h9m17 0h2m32 0h4m12 0h7m12 0h6m29 0h8m8 0h30m4 0h6m6 0h11m3 0h17M350 349.2h4m70 0h7m49 0h8m37 0h3m25 0h9m9 0h21m30 0h12m4 0h5M413 350.5h8m12 0h30m10 0h6m29 0h3m60 0h4m5 0h7m16 0h5m21 0h9m10 0h13M390 351.8h11m95 0h10m42 0h3m13 0h11m30 0h35M349 353.2h7m113 0h13m6 0h8m3 0h2m11 0h19m17 0h15m27 0h7m5 0h4m6 0h25m14 0h6M333 354.5h10m68 0h7m38 0h2m86 0h8m53 0h8m1 0h8m7 0h6m11 0h13M376 355.8h10m73 0h5m33 0h5m40 0h21m11 0h5m38 0h8m2 0h10M328 357.1h16m75 0h4m86 0h13m16 0h10m71 0h6m5 0h8m17 0h6M337 358.4h8m91 0h14m14 0h3m3 0h18m21 0h3m38 0h8m4 0h19m11 0h13m7 0h1m14 0h8M327 359.7h10m6 0h4m65 0h10m50 0h7m13 0h6m56 0h11m13 0h6m38 0h21m5 0h3m9 0h1M354 361.0h9m26 0h5m50 0h12m17 0h11m4 0h11m8 0h9m7 0h10m55 0h4m7 0h12m15 0h12m13 0h5M325 362.4h4m6 0h3m41 0h7m50 0h12m11 0h7m65 0h15m9 0h10m14 0h7m34 0h13m16 0h12M335 363.7h6m7 0h11m108 0h5m25 0h7m15 0h7m29 0h16m12 0h5m29 0h22m21 0h1M325 365.0h26m81 0h17m5 0h5m60 0h12m31 0h33m7 0h6m8 0h7m9 0h2m16 0h11M330 366.3h12m31 0h4m142 0h14m17 0h3m30 0h6m4 0h4m14 0h5m25 0h4M441 367.6h5m29 0h7m30 0h1m7 0h3m33 0h1m20 0h1m22 0h5m20 0h15M329 368.9h7m35 0h3m8 0h7m9 0h2m11 0h13m52 0h8m39 0h10m10 0h3m7 0h4m14 0h7m17 0h13m9 0h1m9 0h21M360 370.2h4m33 0h8m40 0h7m33 0h13m39 0h19m36 0h5m10 0h8m12 0h8M328 371.6h6m51 0h27m37 0h5m11 0h7m28 0h8m26 0h4m12 0h25m37 0h10m9 0h3M325 372.9h6m10 0h5m22 0h4m15 0h1m6 0h10m24 0h4m5 0h12m2 0h4m7 0h3m27 0h7m9 0h6m5 0h26m13 0h14m8 0h7m22 0h10m9 0h11m13 0h9M327 374.2h1m14 0h7m10 0h3m6 0h10m5 0h4m47 0h8m15 0h11m17 0h9m13 0h2m28 0h5m15 0h6m20 0h8m17 0h5m14 0h6M332 375.5h5m11 0h13m24 0h7m23 0h24m64 0h15m34 0h10m9 0h5m22 0h6m7 0h25M326 376.8h11m11 0h5m49 0h5m11 0h4m15 0h14m24 0h3m33 0h8m18 0h17m3 0h26m27 0h38m4 0h9M325 378.1h2m18 0h10m35 0h10m3 0h7m44 0h4m12 0h4m19 0h9m3 0h6m25 0h3m14 0h8m38 0h13m12 0h11m10 0h7m4 0h5M331 379.4h5m11 0h8m33 0h5m13 0h5m30 0h8m4 0h8m21 0h8m36 0h16m24 0h1m5 0h19m8 0h8m24 0h9M333 380.8h7m17 0h6m114 0h3m16 0h11m4 0h11m15 0h8m31 0h8m29 0h7m28 0h10M325 382.1h17m9 0h7m10 0h8m8 0h2m8 0h23m4 0h11m5 0h5m10 0h7m37 0h15m6 0h4m29 0h17m8 0h14m67 0h5M357 383.4h4m9 0h2m10 0h6m33 0h5m12 0h6m63 0h13m39 0h3m7 0h31m26 0h10M325 384.7h5m30 0h6m20 0h7m9 0h17m18 0h5m6 0h11m14 0h9m10 0h16m14 0h10m16 0h14m2 0h9m25 0h2m14 0h12m6 0h6m4 0h9m5 0h5M396 386.0h8m25 0h12m23 0h7m14 0h7m3 0h6m24 0h3m12 0h14m7 0h3m25 0h3M329 387.3h2m55 0h23m20 0h4m10 0h5m12 0h10m47 0h8m14 0h5m34 0h27m14 0h4m3 0h10m10 0h7M366 388.6h9m5 0h16m38 0h15m17 0h15m16 0h7m4 0h15m26 0h2m19 0h8m6 0h16m46 0h9m4 0h2M348 390.0h6m4 0h7m49 0h15m22 0h2m18 0h7m10 0h13m2 0h8m16 0h7m11 0h13m18 0h2m6 0h3m42 0h4m10 0h5M325 391.3h3m14 0h14m9 0h15m41 0h6m32 0h5m12 0h25m37 0h11m65 0h3m13 0h5m17 0h9M338 392.6h7m65 0h8m35 0h4m43 0h6m32 0h8m8 0h8m32 0h9m19 0h3M344 393.9h5m43 0h8m41 0h8m13 0h3m29 0h16m10 0h11m40 0h18m6 0h16m17 0h15M331 395.2h6m37 0h6m6 0h6m7 0h10m3 0h9m35 0h8m11 0h1m116 0h8m19 0h6M335 396.5h23m3 0h8m39 0h6m16 0h19m27 0h8m24 0h9m9 0h4m8 0h11m4 0h13m8 0h3m11 0h20m11 0h6m7 0h15m12 0h2M331 397.8h16m14 0h9m21 0h8m36 0h8m71 0h7m55 0h16m6 0h8m43 0h4M325 399.2h6m15 0h14m8 0h7m18 0h6m43 0h8m73 0h13m18 0h14m9 0h15m21 0h10m3 0h9m11 0h10m4 0h1M328 400.5h12m6 0h3m77 0h3m59 0h5m19 0h3m20 0h25m2 0h16m44 0h39M335 401.8h7m70 0h11m39 0h8m21 0h6m23 0h6m46 0h9m33 0h24M342 403.1h2m70 0h5m17 0h4m12 0h4m60 0h5m31 0h7m9 0h3m39 0h3m14 0h22m4 0h3M335 404.4h4m25 0h12m15 0h13m45 0h23m5 0h7m18 0h4m2 0h8m38 0h6m24 0h10m10 0h10m17 0h10m10 0h9M332 405.7h21m47 0h11m37 0h8m51 0h10m41 0h8m8 0h11m9 0h8m16 0h8m18 0h8M343 407.0h3m52 0h21m64 0h7m62 0h8m15 0h21m33 0h12m18 0h2M339 408.4h5m27 0h7m6 0h5m15 0h9m20 0h11m19 0h14m24 0h4m14 0h7m31 0h16m55 0h16m4 0h4M325 409.7h5m31 0h13m4 0h13m117 0h3m106 0h5m11 0h5m7 0h16M328 411.0h12m43 0h6m45 0h6m36 0h4m13 0h26m53 0h16m9 0h4m10 0h3m11 0h10M344 412.3h5m51 0h25m50 0h5m45 0h13m14 0h10m6 0h11m28 0h3m19 0h5m13 0h14M334 413.6h2m37 0h4m37 0h8m33 0h10m15 0h6m5 0h22m8 0h5m14 0h6m23 0h8m5 0h8m27 0h11m9 0h20M325 414.9h8m22 0h4m7 0h14m47 0h3m49 0h3m22 0h6m6 0h22m54 0h7m14 0h8m10 0h3m5 0h7m5 0h10M337 416.2h7m7 0h3m28 0h6m35 0h8m54 0h10m12 0h4m50 0h5m8 0h17m40 0h7m13 0h4M366 417.6h19m15 0h3m17 0h6m31 0h17m52 0h9m4 0h20m12 0h21m7 0h8m6 0h3m10 0h7m15 0h6M338 418.9h8m9 0h4m12 0h9m7 0h5m16 0h5m65 0h6m11 0h20m23 0h17m78 0h21M394 420.2h5m30 0h4m30 0h5m6 0h11m7 0h6m16 0h14m39 0h26m9 0h18m19 0h7M333 421.5h2m4 0h11m13 0h7m32 0h9m10 0h3m36 0h19m14 0h6m18 0h4m18 0h3m51 0h15m5 0h6m2 0h13M348 422.8h14m19 0h6m21 0h10m24 0h4m7 0h10m5 0h7m14 0h9m24 0h10m21 0h9m24 0h2m9 0h13m21 0h12M325 424.1h1m13 0h10m45 0h3m8 0h8m15 0h5m53 0h28m46 0h8m11 0h4m4 0h3m33 0h16m16 0h6M349 425.4h6m14 0h6m74 0h9m24 0h10m17 0h16m18 0h4m6 0h11m22 0h8m34 0h7m10 0h3M343 426.8h3m66 0h10m8 0h8m75 0h4m22 0h7m13 0h5m24 0h11m35 0h10M325 428.1h3m26 0h2m23 0h10m41 0h1m8 0h6m43 0h21m29 0h8m29 0h7m2 0h12m8 0h8m11 0h16m12 0h10M334 429.4h9m38 0h6m33 0h9m16 0h8m29 0h7m36 0h8m26 0h9m16 0h7m29 0h5m29 0h5M325 430.7h1m7 0h4m41 0h7m30 0h7m21 0h3m19 0h12m22 0h6m35 0h29m10 0h27m24 0h13m9 0h9M355 432.0h9m34 0h5m22 0h2m22 0h5m19 0h8m31 0h2m10 0h16m6 0h5m4 0h4m13 0h18m11 0h11m12 0h9M325 433.3h3m2 0h5m8 0h7m36 0h12m18 0h9m62 0h18m41 0h9m26 0h7m12 0h14m6 0h27m8 0h6M331 434.6h7m31 0h12m42 0h7m5 0h8m11 0h19m4 0h15m11 0h5m16 0h13m26 0h16m15 0h11m10 0h1m18 0h3m17 0h6M325 436.0h1m8 0h11m16 0h14m68 0h4m30 0h5m43 0h13m12 0h29m12 0h18m36 0h16M415 437.3h3m17 0h9m32 0h17m40 0h7m21 0h33m12 0h14m2 0h12m7 0h4M325 438.6h17m29 0h10m13 0h8m10 0h6m9 0h4m14 0h27m9 0h11m4 0h8m21 0h6m50 0h7m12 0h5m11 0h8m28 0h9M338 439.9h16m4 0h7m9 0h7m21 0h10m40 0h9m37 0h7m8 0h1m22 0h2m26 0h10m12 0h10m9 0h10m23 0h23M325 441.2h5m5 0h27m60 0h21m10 0h10m16 0h35m19 0h10m8 0h8m10 0h12m3 0h9m9 0h6m17 0h12m20 0h4M333 442.5h7m5 0h2m47 0h4m23 0h2m49 0h4m4 0h5m20 0h10m42 0h8m21 0h15m8 0h4m9 0h2m9 0h7m17 0h4M350 443.8h8m57 0h18m8 0h9m7 0h16m30 0h6m21 0h4m20 0h10m34 0h11M333 445.2h4m13 0h11m17 0h6m6 0h9m13 0h4m91 0h14m18 0h9m5 0h27m31 0h13M396 446.5h6m83 0h1m29 0h9m104 0h12M433 447.8h3m39 0h7m20 0h17m20 0h10m66 0h3m13 0h4M359 449.1h1m79 0h2m23 0h5m18 0h5m21 0h5m3 0h17m14 0h1m22 0h6m31 0h9m27 0h8M332 450.4h7m26 0h4m33 0h6m22 0h13m8 0h13m78 0h18m18 0h5m6 0h5m25 0h6m12 0h12M350 451.7h8m48 0h3m11 0h7m35 0h3m13 0h7m16 0h6m7 0h5m38 0h6m21 0h5m18 0h17m15 0h4M325 453.0h6m9 0h4m6 0h6m5 0h10m7 0h10m27 0h17m30 0h16m4 0h11m6 0h8m21 0h8m16 0h6m38 0h9m15 0h23m10 0h8M346 454.4h8m2 0h14m61 0h8m27 0h12m1 0h4m32 0h29m37 0h6m11 0h2m8 0h8m13 0h7m16 0h8M332 455.7h22m38 0h2m25 0h11m18 0h10m16 0h2m22 0h2m20 0h6m7 0h7m15 0h19m13 0h16m22 0h9M372 457.0h10m47 0h1m23 0h10m39 0h7m53 0h4m36 0h9m10 0h6M355 458.3h17m13 0h7m30 0h11m3 0h5m23 0h5m18 0h11m22 0h31m9 0h14m39 0h19m14 0h10M334 459.6h3m16 0h7m6 0h2m24 0h10m46 0h9m9 0h16m8 0h8m6 0h7m29 0h8m11 0h1m17 0h16m3 0h6m5 0h20m12 0h12m5 0h4M382 460.9h6m6 0h9m21 0h12m70 0h5m8 0h7m9 0h7m9 0h25m9 0h17m1 0h7m29 0h13m4 0h4M345 462.2h5m6 0h9m1 0h16m7 0h9m9 0h5m72 0h26m26 0h4m8 0h8m15 0h14m6 0h8m7 0h1m16 0h9M333 463.6h6m10 0h9m12 0h3m15 0h21m4 0h3m34 0h12m4 0h19m50 0h10m15 0h5m17 0h5m9 0h7m8 0h12M338 464.9h11m14 0h3m6 0h4m8 0h9m15 0h3m14 0h4m43 0h7m32 0h12m32 0h12m36 0h11m15 0h13M325 466.2h3m17 0h5m15 0h3m14 0h13m17 0h14m22 0h7m16 0h2m52 0h6m8 0h17m9 0h8m26 0h1m7 0h13m31 0h10M325 467.5h12m21 0h10m46 0h4m34 0h6m17 0h9m11 0h35m6 0h12m19 0h26m51 0h6m6 0h5M361 468.8h12m12 0h10m14 0h9m54 0h3m6 0h7m34 0h9m19 0h5m5 0h13m9 0h12m9 0h18m23 0h14M362 470.1h3m18 0h8m6 0h13m12 0h10m9 0h14m19 0h4m33 0h4m10 0h18m6 0h10m7 0h17m15 0h10m31 0h11M364 471.4h15m12 0h4m65 0h9m8 0h8m15 0h17m7 0h16m25 0h6m9 0h19m19 0h8m14 0h7M334 472.8h4m87 0h6m11 0h5m40 0h4m14 0h9m44 0h7m2 0h8m8 0h24m37 0h10m5 0h1M348 474.1h3m57 0h5m27 0h12m34 0h7m5 0h8m13 0h32m17 0h1m14 0h5m28 0h2m10 0h6m13 0h3M325 475.4h5m7 0h11m58 0h5m17 0h4m6 0h17m16 0h10m49 0h7m27 0h15m47 0h20m3 0h12M382 476.7h4m57 0h4m9 0h3m24 0h7m16 0h5m13 0h9m25 0h14m38 0h11m21 0h4M386 478.0h5m19 0h8m1 0h18m4 0h8m26 0h7m4 0h19m18 0h4m8 0h3m40 0h19m14 0h27m6 0h5m9 0h3M368 479.3h8m13 0h4m78 0h2m26 0h8m13 0h9m32 0h4m9 0h6m5 0h5m18 0h10m7 0h14M343 480.6h3m38 0h10m14 0h3m34 0h6m30 0h30m8 0h8m8 0h4m10 0h10m8 0h6m16 0h29m7 0h2m3 0h30"/>
<path stroke="rgb(228, 228, 45)" stroke-width="1.36" fill="none" d="M336 298.0h2m29 0h10m19 0h3m32 0h6m153 0h3m5 0h4m43 0h14M332 299.3h6m38 0h2m32 0h4m11 0h7m119 0h10m45 0h5m8 0h9m11 0h6m5 0h9M333 300.6h5m82 0h6m127 0h3m10 0h7m1 0h22m14 0h6m10 0h11m6 0h8M599 301.9h12m9 0h21m13 0h6M396 303.2h6m5 0h8m155 0h4m24 0h3m27 0h15m10 0h4M406 304.5h1m76 0h3m30 0h2m50 0h5m8 0h1m13 0h40m25 0h1M377 305.8h4m47 0h6m36 0h12m75 0h13m17 0h12m8 0h15m2 0h12m19 0h6M452 307.2h4m41 0h8m33 0h3m23 0h2m31 0h7m7 0h8m9 0h13M325 308.5h1m99 0h6m149 0h10m18 0h4m10 0h10m9 0h13m4 0h3M355 309.8h4m25 0h6m46 0h5m101 0h12m32 0h17m7 0h7m5 0h14m7 0h8M364 311.1h2m48 0h2m113 0h3m42 0h21m3 0h6m31 0h3M524 312.4h6m1 0h8m29 0h28m27 0h19M512 313.7h3m24 0h2m25 0h6m16 0h5m37 0h15M345 315.0h6m110 0h9m9 0h4m40 0h7m77 0h5m10 0h7m24 0h8M372 316.4h2m34 0h3m16 0h6m71 0h15m33 0h4m17 0h4m72 0h3M458 317.7h5m148 0h1m9 0h15m15 0h8M362 319.0h1m92 0h6m44 0h2m55 0h12m31 0h6m15 0h8M393 320.3h5m131 0h9m12 0h6m25 0h10m24 0h1m17 0h9M430 321.6h4m66 0h3m78 0h5m18 0h4m16 0h7m2 0h8m8 0h12M368 322.9h6m14 0h11m129 0h7m9 0h7m34 0h7m11 0h7m18 0h19m3 0h11M340 324.2h5m180 0h6m50 0h12m6 0h6m13 0h18m16 0h5M328 325.6h5m67 0h4m215 0h22M330 326.9h2m128 0h3m30 0h11m66 0h1m13 0h14m19 0h22M350 328.2h4m24 0h2m128 0h6m59 0h1m12 0h11m4 0h41M348 329.5h10m69 0h3m31 0h5m48 0h8m5 0h4m42 0h11m22 0h6m16 0h10m17 0h5M445 330.8h5m99 0h2m22 0h12m14 0h11m14 0h12m7 0h9M385 332.1h4m83 0h14m76 0h6m34 0h11m3 0h7m5 0h13M330 333.4h2m119 0h11m87 0h4m19 0h4m8 0h5m10 0h8m13 0h16m15 0h10M331 334.8h7m237 0h15m8 0h6m20 0h11M325 336.1h2m9 0h6m31 0h2m156 0h4m67 0h5m10 0h19m7 0h18M351 337.4h10m105 0h8m26 0h3m71 0h6m30 0h27m15 0h8M327 338.7h3m11 0h4m44 0h6m16 0h5m154 0h7m13 0h2m5 0h12m8 0h6m22 0h7m8 0h1M405 340.0h10m21 0h7m132 0h6m19 0h20m9 0h4m8 0h10M327 341.3h4m201 0h8m30 0h4m19 0h8m29 0h4m12 0h15M392 342.6h12m69 0h7m10 0h5m76 0h11m18 0h19m8 0h15M351 344.0h8m56 0h5m43 0h4m29 0h11m79 0h15m15 0h21m1 0h5M397 345.3h6m93 0h8m58 0h9m23 0h16m10 0h3m6 0h22M402 346.6h3m37 0h5m19 0h6m35 0h5m19 0h6m13 0h10m6 0h6m44 0h16m23 0h6M410 347.9h11m18 0h7m70 0h3m16 0h2m47 0h7m1 0h21m6 0h4m7 0h10m6 0h15M425 349.2h4m52 0h6m67 0h7m11 0h19m32 0h9M414 350.5h5m15 0h15m122 0h3m8 0h4m44 0h7m15 0h9M497 351.8h8m59 0h10m31 0h7m5 0h8m3 0h11M472 353.2h8m9 0h4m19 0h18m20 0h11m30 0h5m17 0h13m4 0h6m15 0h5M335 354.5h6m71 0h5m127 0h7m55 0h5m5 0h5m9 0h4m12 0h12M378 355.8h7m75 0h2m36 0h3m43 0h2m7 0h9m56 0h5m5 0h9M329 357.1h8m173 0h10m19 0h8m74 0h2m8 0h5m21 0h4M337 358.4h7m95 0h10m23 0h15m64 0h5m7 0h16m15 0h10m24 0h7M329 359.7h5m79 0h7m52 0h5m77 0h10m16 0h3m40 0h18M355 361.0h8m82 0h11m22 0h3m10 0h6m11 0h7m9 0h7m69 0h10m18 0h9m14 0h4M325 362.4h2m133 0h5m68 0h3m5 0h2m13 0h8m17 0h4m36 0h10m18 0h12M349 363.7h9m110 0h3m27 0h4m18 0h6m30 0h14m14 0h3m31 0h19M325 365.0h12m6 0h7m83 0h7m4 0h2m73 0h10m35 0h3m1 0h20m15 0h4m10 0h4m30 0h10M331 366.3h8m182 0h11m52 0h3m25 0h3M442 367.6h4m30 0h5m144 0h14M330 368.9h5m78 0h3m60 0h7m41 0h7m41 0h5m19 0h11m21 0h19M398 370.2h6m42 0h5m36 0h9m42 0h18m52 0h6m14 0h6M329 371.6h4m53 0h8m10 0h7m40 0h2m13 0h5m30 0h6m44 0h16m46 0h9M325 372.9h4m66 0h8m34 0h10m46 0h6m11 0h3m7 0h9m2 0h12m16 0h12m11 0h3m24 0h9m10 0h10m15 0h8M343 374.2h4m22 0h8m58 0h6m45 0h6m91 0h7m19 0h3m15 0h5M351 375.5h9m55 0h7m8 0h8m68 0h3m44 0h8m11 0h2m26 0h2m11 0h22M327 376.8h9m103 0h11m63 0h5m22 0h6m17 0h11m38 0h35m6 0h5M325 378.1h1m21 0h7m38 0h7m5 0h5m46 0h2m37 0h6m7 0h3m43 0h7m41 0h9m15 0h9m12 0h5m6 0h4M333 379.4h1m14 0h6m54 0h1m45 0h6m23 0h6m39 0h2m4 0h7m33 0h17m8 0h7M335 380.8h3m160 0h8m7 0h8m17 0h6m33 0h6m31 0h5m30 0h6M325 382.1h16m11 0h4m13 0h6m20 0h21m6 0h9m22 0h4m39 0h14m43 0h13m11 0h3m4 0h3m70 0h4M383 383.4h4m127 0h2m54 0h13m6 0h9m29 0h8M325 384.7h4m32 0h4m21 0h6m11 0h7m28 0h3m12 0h5m16 0h7m15 0h11m42 0h11m6 0h5m44 0h10m8 0h4m7 0h6m6 0h5M396 386.0h6m28 0h5m30 0h5m16 0h5m54 0h9M387 387.3h5m7 0h8m37 0h3m15 0h7m49 0h7m16 0h1m37 0h4m5 0h6m1 0h8m24 0h8m11 0h6M367 388.6h6m9 0h12m41 0h13m23 0h8m19 0h5m8 0h2m58 0h6m7 0h15m50 0h5M360 390.0h4m51 0h6m4 0h3m44 0h4m13 0h11m4 0h6m36 0h8m76 0h3m10 0h5M325 391.3h2m17 0h11m11 0h13m82 0h1m15 0h8m8 0h7m39 0h9m105 0h8M338 392.6h7m66 0h6m84 0h4m34 0h6m10 0h6m34 0h7M394 393.9h4m44 0h6m48 0h10m19 0h4m49 0h10m8 0h14m19 0h13M332 395.2h4m39 0h3m24 0h5m7 0h5m38 0h5m131 0h6m20 0h5M343 396.5h14m5 0h6m64 0h2m8 0h5m30 0h6m27 0h4m26 0h8m6 0h11m24 0h7m5 0h6m12 0h5m8 0h12M332 397.8h13m19 0h4m25 0h4m39 0h5m75 0h3m58 0h14m9 0h4M326 399.2h4m18 0h11m9 0h6m21 0h2m46 0h5m77 0h8m28 0h6m11 0h13m37 0h6m12 0h9M331 400.5h7m197 0h8m8 0h8m9 0h9m47 0h37M336 401.8h5m73 0h8m72 0h1m26 0h4m48 0h6m42 0h17M517 403.1h4m106 0h17M366 404.4h9m17 0h11m47 0h11m3 0h7m7 0h5m27 0h5m41 0h1m28 0h8m12 0h6m21 0h8m12 0h7M333 405.7h6m4 0h9m49 0h8m40 0h7m52 0h7m44 0h6m9 0h11m10 0h5m19 0h6m21 0h5M344 407.0h1m54 0h7m6 0h5m67 0h5m64 0h6m20 0h9m5 0h2m35 0h10M373 408.4h3m31 0h5m22 0h9m22 0h10m45 0h6m32 0h14m58 0h4m5 0h3M362 409.7h12m5 0h11m227 0h4m25 0h15M336 411.0h3m45 0h5m45 0h5m55 0h11m4 0h9m55 0h14m12 0h1m12 0h1m13 0h9M401 412.3h23m102 0h10m17 0h8m8 0h9m51 0h4m22 0h6M416 413.6h4m73 0h20m10 0h2m17 0h2m27 0h5m8 0h4m30 0h10m10 0h16M325 414.9h5m37 0h12m139 0h18m57 0h5m16 0h5m21 0h5m7 0h9M338 416.2h5m39 0h5m40 0h2m58 0h4m71 0h2m11 0h5m5 0h5m42 0h5M367 417.6h16m38 0h4m32 0h15m55 0h6m7 0h18m14 0h16m12 0h6m21 0h5M339 418.9h7m26 0h6m32 0h1m85 0h18m25 0h15m81 0h7m3 0h8M395 420.2h2m67 0h2m28 0h1m24 0h7m43 0h22m12 0h16m22 0h3M340 421.5h10m14 0h4m35 0h7m50 0h18m116 0h13m15 0h11M350 422.8h6m52 0h9m26 0h2m26 0h3m18 0h4m27 0h8m23 0h7m36 0h12m28 0h5M340 424.1h8m58 0h6m76 0h7m2 0h10m3 0h2m49 0h4m59 0h13m19 0h5M350 425.4h3m17 0h4m76 0h7m25 0h9m22 0h12m29 0h8m25 0h6m36 0h6M414 426.8h7m10 0h5m104 0h5m15 0h2m27 0h10m36 0h8M325 428.1h2m55 0h5m102 0h19m31 0h6m31 0h5m4 0h10m10 0h7m12 0h14m13 0h10M335 429.4h7m40 0h4m35 0h6m19 0h6m33 0h3m38 0h7m28 0h2m22 0h5m31 0h3M379 430.7h5m32 0h5m80 0h2m39 0h26m12 0h21m30 0h11m11 0h8M356 432.0h7m36 0h3m48 0h3m21 0h6m45 0h5m6 0h2m18 0h3m14 0h4m3 0h10m12 0h9m14 0h8M344 433.3h5m39 0h9m20 0h7m64 0h17m43 0h2m33 0h4m14 0h12m9 0h24m10 0h5M332 434.6h5m33 0h10m44 0h5m7 0h6m13 0h15m9 0h12m13 0h4m17 0h11m28 0h14m17 0h5M340 436.0h3m18 0h13m152 0h11m16 0h3m1 0h21m18 0h11m39 0h15M437 437.3h5m36 0h15m41 0h6m24 0h6m2 0h21m14 0h12m4 0h10M334 438.6h7m54 0h7m11 0h4m29 0h9m10 0h5m12 0h9m7 0h5m24 0h2m53 0h5m15 0h2m14 0h5m30 0h8M339 439.9h6m2 0h6m6 0h5m39 0h7m44 0h6m40 0h4m61 0h7m16 0h6m11 0h10m32 0h13M325 441.2h3m8 0h25m62 0h8m5 0h5m13 0h7m19 0h33m21 0h7m13 0h3m12 0h11m6 0h5m12 0h4m19 0h10m22 0h3M333 442.5h6m56 0h2m76 0h2m7 0h1m23 0h7m45 0h6m29 0h7m34 0h5m19 0h3M351 443.8h6m65 0h9m10 0h8m9 0h13m33 0h3m49 0h7m36 0h9M352 445.2h8m31 0h7m112 0h10m20 0h7m7 0h5m5 0h16m34 0h9M399 446.5h1m116 0h7m111 0h4M434 447.8h1m40 0h6m23 0h2m3 0h9m23 0h6m85 0h2M465 449.1h3m54 0h15m39 0h4m33 0h7m30 0h5M333 450.4h4m66 0h4m24 0h12m8 0h10m82 0h16m21 0h2m39 0h2m15 0h10M351 451.7h6m65 0h2m56 0h3m19 0h4m8 0h5m39 0h4m23 0h4m20 0h14M326 453.0h1m35 0h8m10 0h6m30 0h4m5 0h7m31 0h13m7 0h9m37 0h6m18 0h5m38 0h8m18 0h8m4 0h8m11 0h8M347 454.4h4m8 0h10m64 0h4m30 0h9m40 0h27m39 0h4m23 0h6m15 0h4m19 0h5M334 455.7h9m6 0h3m97 0h4m68 0h3m32 0h18m14 0h14m24 0h6M374 457.0h6m74 0h9m140 0h8m10 0h6M356 458.3h9m22 0h2m34 0h8m7 0h1m49 0h10m40 0h12m11 0h13m40 0h18m14 0h8M392 459.6h8m49 0h7m12 0h10m13 0h6m7 0h6m31 0h6m31 0h13m18 0h17m13 0h10M383 460.9h4m8 0h7m23 0h10m72 0h2m11 0h5m12 0h3m12 0h23m12 0h13m6 0h3m32 0h5M358 462.2h4m7 0h13m8 0h6m89 0h21m43 0h5m18 0h12m9 0h5m26 0h7M335 463.6h3m51 0h18m43 0h10m11 0h13m54 0h6m18 0h2m18 0h5m10 0h3m17 0h5M339 464.9h9m37 0h8m80 0h6m34 0h9m34 0h11m38 0h8m16 0h12M347 466.2h2m36 0h9m18 0h12m116 0h15m10 0h7m36 0h11m33 0h9M325 467.5h11m22 0h9m110 0h5m13 0h12m4 0h17m12 0h6m24 0h14m3 0h5m53 0h4m8 0h4M362 468.8h9m16 0h7m15 0h8m66 0h3m37 0h6m21 0h4m7 0h11m14 0h8m10 0h16m25 0h12M384 470.1h6m8 0h11m14 0h7m13 0h10m83 0h5m9 0h8m8 0h14m19 0h8m32 0h10M372 471.4h6m83 0h7m42 0h5m10 0h6m34 0h5m12 0h5m5 0h6m20 0h7m15 0h6M427 472.8h2m14 0h3m60 0h7m47 0h3m5 0h6m10 0h8m4 0h9m40 0h9M441 474.1h10m36 0h5m7 0h7m14 0h29m36 0h2m41 0h5M325 475.4h3m12 0h6m62 0h1m31 0h14m19 0h6m52 0h3m32 0h11m50 0h18m4 0h12M444 476.7h2m61 0h3m16 0h6m31 0h8m40 0h9M411 478.0h4m11 0h10m6 0h5m29 0h4m11 0h13m77 0h15m15 0h26m9 0h2M369 479.3h6m15 0h2m108 0h5m15 0h8m46 0h5m8 0h2m19 0h9m14 0h7M385 480.6h8m90 0h12m3 0h11m11 0h6m24 0h8m33 0h26m15 0h27"/>
<path stroke="rgb(245, 190, 35)" stroke-width="1.36" fill="none" d="M368 298.0h8m57 0h2m164 0h2m46 0h11M333 299.3h4m89 0h5m121 0h7m49 0h2m10 0h6m25 0h7M422 300.6h2m142 0h6m4 0h8m4 0h8m15 0h4m12 0h9m9 0h5M600 301.9h9m12 0h19M409 303.2h5m215 0h14M569 304.5h3m31 0h6m7 0h18M429 305.8h4m39 0h9m77 0h4m1 0h6m19 0h10m9 0h13m5 0h11m19 0h6M497 307.2h8m107 0h6m11 0h9M425 308.5h5m152 0h7m33 0h9m11 0h11m6 0h2M386 309.8h3m49 0h2m102 0h6m39 0h15m21 0h13m8 0h6M530 311.1h1m44 0h19m4 0h6M525 312.4h3m5 0h5m32 0h7m2 0h16m29 0h17M567 313.7h3m20 0h1m40 0h12M346 315.0h4m112 0h6m56 0h4m80 0h3m11 0h6M409 316.4h1m17 0h6m72 0h5m2 0h6M458 317.7h5m160 0h13m15 0h7M457 319.0h2m148 0h2m17 0h7M530 320.3h7m14 0h3m28 0h8m44 0h8M501 321.6h1m81 0h1m42 0h2m6 0h7m9 0h6m4 0h1M369 322.9h4m16 0h9m132 0h3m12 0h5m36 0h5m14 0h3m21 0h8m2 0h7M527 324.2h3m52 0h10m9 0h4m14 0h16M330 325.6h1m289 0h14M495 326.9h8m86 0h7m22 0h20M509 328.2h4m74 0h9m6 0h39M352 329.5h5m71 0h1m86 0h5m55 0h8m46 0h8M446 330.8h3m125 0h10m16 0h9m17 0h10m8 0h7M474 332.1h10m79 0h4m37 0h6m7 0h6m6 0h11M452 333.4h10m111 0h2m9 0h4m12 0h7m14 0h14m16 0h10M334 334.8h3m240 0h13m9 0h4m23 0h8M604 336.1h1m13 0h18m8 0h17M352 337.4h8m215 0h4m32 0h26m15 0h7M342 338.7h2m47 0h2m20 0h2m156 0h5m22 0h11m9 0h4m23 0h6M406 340.0h8m23 0h5m135 0h2m22 0h18m11 0h2m9 0h10M533 341.3h6m55 0h7m30 0h2m14 0h9m4 0h1M392 342.6h11m71 0h6m11 0h3m80 0h7m20 0h17m10 0h13M353 344.0h6m56 0h5m81 0h5m82 0h12m16 0h9m4 0h5M399 345.3h2m96 0h6m61 0h4m29 0h2m6 0h3m22 0h20M444 346.6h1m88 0h2m18 0h5m59 0h13m26 0h5M413 347.9h6m21 0h5m140 0h4m5 0h19m17 0h9m8 0h5M483 349.2h3m69 0h5m13 0h11m40 0h5M415 350.5h3m17 0h12m125 0h1m10 0h2m45 0h6m17 0h8M498 351.8h6m61 0h9m32 0h5m8 0h4m6 0h10M477 353.2h1m35 0h15m24 0h7m33 0h3m19 0h10m7 0h4m17 0h3M336 354.5h4m72 0h4m129 0h6m56 0h3m8 0h2m11 0h2m14 0h10M380 355.8h4m115 0h1m56 0h5m58 0h3m7 0h7M330 357.1h6m175 0h7m22 0h6m87 0h2M338 358.4h5m98 0h7m25 0h13m77 0h15m17 0h8m25 0h7M416 359.7h1m56 0h3m79 0h8m60 0h14M356 361.0h6m85 0h8m55 0h4m10 0h6m71 0h8m19 0h9m15 0h2M325 362.4h1m136 0h1m93 0h7m59 0h6m22 0h11M351 363.7h6m112 0h1m51 0h4m32 0h11m51 0h3m3 0h11M325 365.0h9m11 0h3m86 0h4m82 0h8m42 0h17m18 0h1m46 0h9M331 366.3h7m185 0h8m54 0h1M442 367.6h3m31 0h5m145 0h12M331 368.9h3m143 0h6m42 0h5m42 0h4m21 0h10m22 0h17M399 370.2h4m44 0h3m41 0h4m45 0h15m54 0h4m16 0h5M387 371.6h5m13 0h5m58 0h2m32 0h4m108 0h7M325 372.9h3m68 0h7m35 0h8m47 0h5m23 0h7m4 0h10m20 0h8m40 0h8m11 0h8m18 0h6M370 374.2h6m60 0h4m48 0h3m93 0h6m38 0h4M353 375.5h7m56 0h4m10 0h8m116 0h6m54 0h21M328 376.8h7m107 0h8m64 0h3m49 0h5m45 0h23m3 0h3M350 378.1h3m40 0h4m8 0h3m86 0h5m55 0h5m45 0h5m17 0h7m14 0h3m8 0h3M349 379.4h4m103 0h2m26 0h4m47 0h5m36 0h14m10 0h5M499 380.8h5m12 0h3m19 0h6m33 0h6m32 0h2m33 0h3M325 382.1h2m8 0h4m32 0h2m24 0h7m4 0h7m9 0h5m68 0h5m3 0h5m46 0h9m93 0h3M570 383.4h11m9 0h7m31 0h7M325 384.7h3m59 0h5m11 0h6m67 0h3m21 0h5m45 0h10m55 0h9m10 0h1m10 0h3m9 0h4M397 386.0h4m65 0h2m19 0h2m58 0h6M387 387.3h4m11 0h4m57 0h5m50 0h6m65 0h3m5 0h5m26 0h7m12 0h4M368 388.6h4m11 0h8m45 0h11m27 0h3m21 0h5m68 0h6m8 0h13M416 390.0h4m74 0h5m6 0h4m39 0h4m92 0h3M346 391.3h8m13 0h4m4 0h3m99 0h7m11 0h3m42 0h7m107 0h7M339 392.6h5m68 0h4m87 0h1m36 0h5m13 0h1m37 0h6M443 393.9h4m50 0h3m79 0h8m14 0h9m19 0h12M459 395.2h1m135 0h3m22 0h3M344 396.5h11m8 0h4m111 0h4m58 0h8m8 0h8m26 0h4m9 0h3m14 0h4m8 0h10M332 397.8h6m2 0h4m93 0h2m139 0h12M326 399.2h4m19 0h9m11 0h5m205 0h12m37 0h5m14 0h7M334 400.5h2m200 0h5m11 0h6m12 0h6m49 0h25m1 0h8M337 401.8h2m76 0h6m101 0h1m51 0h4m44 0h16M517 403.1h3m108 0h10M368 404.4h7m18 0h9m50 0h4m10 0h4m8 0h5m29 0h3m71 0h6m40 0h7m13 0h7M334 405.7h4m6 0h7m51 0h6m41 0h6m53 0h5m47 0h4m11 0h9m12 0h1m23 0h4M399 407.0h6m80 0h3m65 0h6m22 0h6m45 0h8M435 408.4h7m24 0h8m47 0h4m33 0h13m60 0h1M364 409.7h9m6 0h10m229 0h2m27 0h8M385 411.0h3m47 0h4m56 0h6m10 0h6m58 0h11m40 0h8M402 412.3h21m103 0h9m19 0h6m10 0h7m53 0h2m24 0h4M495 413.6h11m1 0h5m61 0h1m45 0h8m13 0h5M325 414.9h3m40 0h11m145 0h12m58 0h2m20 0h1m24 0h3m8 0h9M383 416.2h3m190 0h3m7 0h4m42 0h4M368 417.6h13m148 0h2m9 0h8m2 0h8m15 0h14m13 0h5M340 418.9h5m153 0h14m29 0h3m92 0h5m5 0h6M520 420.2h5m45 0h19m15 0h14M340 421.5h9m56 0h2m54 0h7m4 0h5m118 0h11m17 0h9M410 422.8h7m106 0h8m24 0h5m38 0h10m31 0h2M340 424.1h7m59 0h5m79 0h2m6 0h8m119 0h11m20 0h4M452 425.4h3m28 0h7m27 0h7m31 0h6m27 0h3m39 0h4M415 426.8h5m12 0h3m106 0h3m46 0h8m39 0h6M325 428.1h1m164 0h17m33 0h4m33 0h3m6 0h9m10 0h6m13 0h13m15 0h9M335 429.4h7m80 0h3m22 0h3m77 0h5m54 0h3M379 430.7h4m34 0h3m124 0h7m8 0h8m22 0h10m33 0h9m13 0h7M357 432.0h5m113 0h4m95 0h1m6 0h8m14 0h8m15 0h6M344 433.3h5m40 0h8m21 0h4m68 0h14m98 0h10m12 0h22m12 0h3M333 434.6h2m35 0h9m47 0h1m10 0h4m15 0h11m13 0h11m34 0h10m30 0h12M362 436.0h7m159 0h7m24 0h8m4 0h7m19 0h9m41 0h14M439 437.3h2m39 0h12m44 0h3m34 0h19m16 0h10m6 0h8M336 438.6h3m56 0h6m14 0h1m67 0h6m11 0h1m82 0h2m69 0h7M339 439.9h4m5 0h4m8 0h4m40 0h1m95 0h4m62 0h5m18 0h4m13 0h8m35 0h11M337 441.2h9m3 0h12m63 0h5m9 0h2m14 0h6m21 0h31m23 0h5m30 0h9m47 0h9m24 0h2M334 442.5h4m168 0h6m46 0h5m31 0h5m36 0h3M351 443.8h5m67 0h7m12 0h6m11 0h11m88 0h4m38 0h7M354 445.2h4m34 0h5m114 0h8m21 0h7m8 0h2m9 0h13m37 0h6M476 447.8h5m29 0h8m26 0h1M523 449.1h13m78 0h5m32 0h4M403 450.4h4m24 0h11m10 0h8m83 0h15m82 0h6M352 451.7h4m159 0h3m41 0h2m25 0h2m22 0h13M363 453.0h7m11 0h2m43 0h5m33 0h6m1 0h3m10 0h8m38 0h4m20 0h3m40 0h6m20 0h5m8 0h5m13 0h7M360 454.4h9m100 0h6m43 0h2m5 0h17m41 0h2m25 0h4m41 0h2M334 455.7h8m215 0h16m15 0h13M455 457.0h7m141 0h7m12 0h4M357 458.3h7m60 0h6m59 0h8m44 0h8m13 0h11m41 0h17m16 0h6M393 459.6h6m51 0h5m14 0h7m16 0h4m9 0h5m32 0h3m35 0h9m21 0h10m20 0h8M384 460.9h2m11 0h2m26 0h9m87 0h3m29 0h18m17 0h11M371 462.2h10m10 0h4m91 0h13m74 0h10m42 0h4M390 463.6h7m3 0h5m46 0h8m13 0h11m57 0h3m40 0h3m33 0h2M339 464.9h9m38 0h6m81 0h6m35 0h7m35 0h10m42 0h4m18 0h10M387 466.2h6m20 0h8m120 0h14m11 0h6m37 0h9m34 0h9M325 467.5h10m24 0h5m132 0h9m10 0h12m15 0h3m101 0h2m9 0h4M364 468.8h5m41 0h6m109 0h2m24 0h2m9 0h9m17 0h5m11 0h14m29 0h9M386 470.1h2m10 0h9m16 0h6m15 0h9m98 0h6m10 0h7m26 0h7m33 0h8M373 471.4h4m85 0h5m60 0h1m38 0h4m13 0h2m8 0h4m22 0h6m16 0h4M506 472.8h6m57 0h5m11 0h6m6 0h7m41 0h8M442 474.1h8m39 0h1m10 0h6m15 0h20m88 0h3M445 475.4h9m20 0h2m91 0h9m52 0h8m1 0h8m5 0h6m4 0h1M527 476.7h3m35 0h6m41 0h8M428 478.0h7m42 0h2m14 0h10m79 0h14m15 0h24M501 479.3h3m17 0h6m48 0h3m31 0h7m18 0h2M386 480.6h5m94 0h9m5 0h10m11 0h6m25 0h3m38 0h23m18 0h19m2 0h5"/>
<path stroke="rgb(236, 140, 30)" stroke-width="1.36" fill="none" d="M368 298.0h8m272 0h10M427 299.3h3m126 0h1m63 0h6m25 0h7M567 300.6h4m6 0h6m7 0h5m33 0h7m11 0h3M600 301.9h8m15 0h2m4 0h10M411 303.2h1m217 0h13M619 304.5h15M430 305.8h2m41 0h8m107 0h10m10 0h12m5 0h10m21 0h5M498 307.2h6m108 0h5m13 0h7M426 308.5h4m192 0h9m14 0h7m8 0h1M543 309.8h3m42 0h5m5 0h2m24 0h11m9 0h6M576 311.1h17m6 0h4M571 312.4h4m6 0h12m33 0h15M632 313.7h10M464 315.0h2m157 0h3M428 316.4h4m82 0h4M459 317.7h3m163 0h11m16 0h5M627 319.0h6M530 320.3h7m46 0h6m46 0h6M635 321.6h6m11 0h1M390 322.9h7m149 0h3m81 0h5m5 0h4M584 324.2h7m11 0h2m15 0h15M628 325.6h4M496 326.9h6m89 0h4m24 0h19M588 328.2h7m7 0h38M630 329.5h6M575 330.8h8m18 0h7m19 0h8m10 0h5M564 332.1h2m52 0h4m7 0h10M453 333.4h8m140 0h5m16 0h12m18 0h7M579 334.8h10m39 0h6M625 336.1h10m9 0h7m2 0h8M353 337.4h6m216 0h4m33 0h24m17 0h4M572 338.7h3m24 0h9m38 0h4M407 340.0h6m25 0h3m161 0h16m24 0h8M534 341.3h4m56 0h6m48 0h6M393 342.6h10m72 0h4m13 0h1m85 0h2m27 0h10m11 0h12M354 344.0h4m58 0h4m82 0h3m85 0h9m18 0h7M498 345.3h4m129 0h17M618 346.6h8m32 0h3M586 347.9h1m8 0h17m19 0h8m10 0h1M557 349.2h2m15 0h8m44 0h1M436 350.5h10m185 0h4m19 0h5M499 351.8h4m63 0h7m34 0h2m22 0h7M515 353.2h2m4 0h6m66 0h1m21 0h7M413 354.5h2m131 0h4m98 0h8M381 355.8h2m246 0h7M331 357.1h4m207 0h3M339 358.4h3m102 0h4m26 0h11m79 0h11m20 0h7m27 0h5M556 359.7h6m62 0h12M357 361.0h5m86 0h6m71 0h5m71 0h7m21 0h7M557 362.4h4m62 0h3m25 0h10M523 363.7h1m34 0h7m62 0h8M325 365.0h1m109 0h2m83 0h6m46 0h15m66 0h8M332 366.3h5m188 0h4M443 367.6h1m33 0h3m146 0h12M477 368.9h5m44 0h3m69 0h8m23 0h15M448 370.2h1m96 0h10m55 0h2m18 0h3M407 371.6h2m94 0h2m110 0h5M325 372.9h2m69 0h6m37 0h7m48 0h4m24 0h5m6 0h8m22 0h6m42 0h6m12 0h7m22 0h3M371 374.2h3m210 0h5m40 0h2M354 375.5h6m56 0h3m12 0h7m117 0h4m56 0h6m3 0h10M329 376.8h5m109 0h6m169 0h8m2 0h9M406 378.1h1m88 0h3m57 0h2m70 0h5m26 0h3M349 379.4h3m184 0h2m39 0h12m12 0h4M500 380.8h3m36 0h4m35 0h4M399 382.1h3m8 0h4m11 0h2m71 0h2m7 0h2m49 0h7m94 0h2M571 383.4h8m12 0h5m33 0h5M325 384.7h2m60 0h5m12 0h4m142 0h9m57 0h8m33 0h4M397 386.0h3m148 0h4M519 387.3h5m105 0h5m15 0h1M385 388.6h5m47 0h9m53 0h3m70 0h4m9 0h11M417 390.0h2m87 0h3M347 391.3h6m125 0h5m58 0h5m109 0h6M339 392.6h5m69 0h2m125 0h4m52 0h5M444 393.9h1m136 0h3m19 0h6m21 0h11M345 396.5h4m192 0h6m11 0h5m70 0h8M333 397.8h3m243 0h10M327 399.2h2m21 0h7m13 0h3m206 0h11m39 0h4m14 0h7M538 400.5h1m14 0h4m14 0h4m53 0h8m4 0h8m4 0h7M416 401.8h4m203 0h14M628 403.1h9M370 404.4h4m20 0h7m66 0h2m10 0h3m104 0h5m42 0h6m14 0h5M345 405.7h5m52 0h4m44 0h5m55 0h1m50 0h2m13 0h7M400 407.0h4m150 0h4m77 0h4M436 408.4h5m27 0h4m87 0h12M365 409.7h8m7 0h8m261 0h4M386 411.0h1m48 0h3m75 0h2m61 0h9m42 0h7M404 412.3h18m105 0h7m20 0h5m13 0h4M496 413.6h8m5 0h2m109 0h6M369 414.9h9m147 0h10m107 0h1m10 0h8M383 416.2h3m201 0h2m45 0h1M368 417.6h12m161 0h6m4 0h6m19 0h10m15 0h3M340 418.9h4m156 0h10m127 0h3m7 0h4M521 420.2h3m50 0h9m22 0h12M341 421.5h8m112 0h6m7 0h1m121 0h1m4 0h4m19 0h7M411 422.8h5m108 0h6m26 0h4m39 0h8M341 424.1h5m61 0h3m88 0h7m120 0h10M484 425.4h4m31 0h5m106 0h4M590 426.8h8m40 0h4M491 428.1h15m81 0h8m11 0h4m15 0h11m17 0h8M335 429.4h6m187 0h3M561 430.7h5m26 0h5M358 432.0h4m220 0h7m15 0h6m16 0h6M345 433.3h3m42 0h6m95 0h12m100 0h7m21 0h3m6 0h5M370 434.6h8m60 0h2m16 0h8m17 0h9m36 0h7m33 0h11M362 436.0h5m194 0h4m7 0h5m21 0h7m44 0h12M481 437.3h10m83 0h8m4 0h5m18 0h8m7 0h7M396 438.6h5m83 0h4m168 0h3M340 439.9h3m6 0h2m10 0h2m139 0h1m65 0h1m37 0h7m38 0h9M339 441.2h5m11 0h5m95 0h4m23 0h29m25 0h2m33 0h6m50 0h7M335 442.5h2m170 0h4m48 0h2m35 0h2M352 443.8h4m67 0h6m14 0h4m14 0h6m134 0h5M393 445.2h3m116 0h7m21 0h6m22 0h1m2 0h8m39 0h2M477 447.8h3m31 0h6M524 449.1h11m117 0h1M404 450.4h2m26 0h10m10 0h7m85 0h13M353 451.7h2m161 0h1m97 0h8M363 453.0h6m96 0h2m18 0h6m40 0h2m65 0h4m35 0h3m15 0h4M361 454.4h7m103 0h3m52 0h9M336 455.7h5m217 0h15m16 0h10M457 457.0h4m143 0h5m14 0h2M358 458.3h5m62 0h4m60 0h8m46 0h6m15 0h8m43 0h8m3 0h4m18 0h3M393 459.6h5m53 0h2m17 0h4m19 0h2m10 0h4m72 0h6m26 0h5m23 0h7M426 460.9h8m127 0h8m22 0h7M373 462.2h7m12 0h2m93 0h11m77 0h7m44 0h2M390 463.6h5m57 0h6m16 0h8m59 0h1m42 0h1M339 464.9h8m40 0h5m82 0h4m37 0h5m37 0h9m64 0h10M388 466.2h3m22 0h7m121 0h13m13 0h4m38 0h7m37 0h8M327 467.5h7m162 0h8m14 0h8m132 0h3M410 468.8h5m149 0h6m19 0h3m13 0h8m35 0h7M398 470.1h8m18 0h4m17 0h7m100 0h3m12 0h7m27 0h5m35 0h6M374 471.4h2m190 0h3m25 0h3m22 0h5m18 0h2M508 472.8h2m60 0h3m12 0h6m7 0h5m43 0h7M444 474.1h4m52 0h5m16 0h9m2 0h8M446 475.4h7m115 0h7m53 0h7m4 0h5m6 0h6M566 476.7h4m42 0h7M429 478.0h5m60 0h9m81 0h11m17 0h18M521 479.3h6m83 0h5M387 480.6h3m97 0h5m8 0h8m13 0h4m68 0h20m22 0h16m5 0h2"/>
<path stroke="rgb(205, 72, 22)" stroke-width="1.36" fill="none" d="M369 298.0h6m275 0h7M621 299.3h4m27 0h5M567 300.6h3m59 0h5M601 301.9h5m24 0h8M630 303.2h11M621 304.5h3m5 0h3M475 305.8h5m109 0h8m12 0h9m8 0h9m22 0h4M499 307.2h5m109 0h3m14 0h6M427 308.5h2m194 0h7M625 309.8h10m10 0h4M577 311.1h15m8 0h2M628 312.4h11M634 313.7h5M430 316.4h1M460 317.7h1m165 0h9M628 319.0h4M531 320.3h5m101 0h2M636 321.6h4M631 322.9h3M585 324.2h5m30 0h4m4 0h6M497 326.9h4m119 0h3m4 0h10M589 328.2h5m9 0h37M631 329.5h5M576 330.8h6m20 0h5m21 0h6m13 0h2M630 332.1h8M454 333.4h6m168 0h5m21 0h3M582 334.8h6m42 0h2M627 336.1h8m10 0h4m6 0h6M354 337.4h3m257 0h4m4 0h14m18 0h2M601 338.7h6M409 340.0h3m191 0h13m27 0h5M595 341.3h4M393 342.6h9m74 0h2m131 0h6m14 0h10M417 344.0h2m174 0h4m21 0h4M499 345.3h2m136 0h9M619 346.6h5M596 347.9h15m20 0h7M577 349.2h3M438 350.5h7m187 0h2M567 351.8h5m61 0h2M616 353.2h4M547 354.5h2m100 0h6M630 355.8h5M332 357.1h2M340 358.4h1m136 0h5m82 0h9m24 0h4m28 0h5M557 359.7h4m64 0h10M357 361.0h4m90 0h2m72 0h4m73 0h4m24 0h6M652 362.4h9M560 363.7h2m66 0h7M521 365.0h4m53 0h8m68 0h7M332 366.3h5M478 367.6h1m148 0h10M478 368.9h3m118 0h7m24 0h12M547 370.2h7M617 371.6h2M397 372.9h5m37 0h6m78 0h3m8 0h5m27 0h1m45 0h4m14 0h6m24 0h1M585 374.2h3M355 375.5h4m73 0h5m190 0h6M330 376.8h3m112 0h3m172 0h4m5 0h7M629 378.1h1m29 0h2M579 379.4h9M579 380.8h2M560 382.1h4m96 0h1M571 383.4h7m14 0h3m35 0h3M325 384.7h2m61 0h3m14 0h2m144 0h7m58 0h7m34 0h4M549 386.0h2M520 387.3h3m106 0h5M439 388.6h6m128 0h2m11 0h9M349 391.3h2m128 0h4m60 0h1m113 0h4M339 392.6h5m197 0h2m54 0h3M605 393.9h3m24 0h8M542 396.5h5m86 0h7M581 397.8h7M351 399.2h5m15 0h1m208 0h10m58 0h5M555 400.5h1m75 0h3m7 0h6m6 0h5M624 401.8h13M629 403.1h7M371 404.4h2m22 0h5m233 0h5m16 0h4M450 405.7h5m122 0h5M560 408.4h10M366 409.7h6m8 0h8M578 411.0h6m44 0h5M411 412.3h10m106 0h6m22 0h3M498 413.6h5m118 0h4M371 414.9h6m149 0h8m120 0h7M369 417.6h9m163 0h5m5 0h5m25 0h3M342 418.9h1m162 0h1M576 420.2h6m24 0h9M341 421.5h8m113 0h4m159 0h5M525 422.8h4m71 0h4M342 424.1h3m154 0h5m122 0h8M632 425.4h1M592 426.8h5m43 0h1M492 428.1h13m83 0h6m13 0h2m17 0h9m19 0h7M336 429.4h4M359 432.0h2m223 0h4m17 0h4m18 0h4M346 433.3h1m45 0h3m98 0h9m103 0h3M371 434.6h6m80 0h5m21 0h6m37 0h6m35 0h9M363 436.0h3m285 0h9M484 437.3h5m86 0h6m29 0h5m10 0h5M397 438.6h3M607 439.9h6m39 0h7M357 441.2h3m96 0h2m26 0h4m3 0h8m129 0h5M508 442.5h2M353 443.8h2m69 0h3M513 445.2h5m23 0h5m28 0h4M512 447.8h5M526 449.1h5M433 450.4h8m12 0h5m87 0h11M616 451.7h5M364 453.0h5m117 0h4M362 454.4h6m159 0h6M559 455.7h13m18 0h6M606 457.0h1M490 458.3h7m48 0h2m69 0h4M394 459.6h3m245 0h5M427 460.9h6m130 0h5M374 462.2h6m107 0h10M391 463.6h2m60 0h3m20 0h5M340 464.9h7m40 0h4m84 0h2m40 0h1m40 0h7m66 0h8M414 466.2h5m123 0h11m15 0h2m40 0h5m39 0h6M329 467.5h4m164 0h6m157 0h1M411 468.8h3m191 0h6m39 0h4M399 470.1h5m20 0h3m20 0h3m118 0h5m29 0h4m37 0h1M567 471.4h1m52 0h3M571 472.8h1m14 0h3m11 0h1m46 0h5M501 474.1h4m17 0h7m4 0h6M447 475.4h5m117 0h5m56 0h3m7 0h3m8 0h4M613 476.7h5M430 478.0h4m62 0h6m84 0h8m18 0h9M522 479.3h4m86 0h2M489 480.6h1m11 0h5m88 0h13m34 0h9"/>
<path stroke="rgb(150, 22, 10)" stroke-width="1.36" fill="none" d="M371 298.0h2m281 0h1M652 299.3h4M631 301.9h5M631 303.2h5M477 305.8h1m112 0h5m32 0h7M499 307.2h4m129 0h3M624 308.5h5M627 309.8h7m12 0h2M579 311.1h8M630 312.4h7M628 317.7h6M532 320.3h3M637 321.6h2M621 324.2h2m6 0h3M628 326.9h9M590 328.2h3m11 0h16m8 0h10M632 329.5h2M578 330.8h2m48 0h5M631 332.1h5M457 333.4h1M628 336.1h6m23 0h4M624 337.4h11M604 340.0h9M597 341.3h1M394 342.6h4m231 0h10M640 345.3h2M599 347.9h12m21 0h5M568 351.8h3M650 354.5h2M631 355.8h3M565 358.4h6m59 0h3M627 359.7h6M359 361.0h1m270 0h5M653 362.4h7M629 363.7h5M580 365.0h5m70 0h6M333 366.3h3M628 367.6h8M600 368.9h5m26 0h5M549 370.2h4M398 372.9h3m39 0h4m169 0h2m15 0h5M432 375.5h4M630 376.8h5M572 383.4h5M389 384.7h1m162 0h5m60 0h6m35 0h3M631 387.3h1M441 388.6h3m142 0h8M479 391.3h2M340 392.6h3M543 396.5h3m88 0h6M583 397.8h4M352 399.2h3m226 0h8m60 0h3M643 400.5h3m8 0h2M632 401.8h4M630 403.1h5M634 404.4h4M451 405.7h3m124 0h3M563 408.4h6M367 409.7h4m10 0h6M580 411.0h3m46 0h2M414 412.3h5m109 0h3M528 414.9h5m122 0h3M371 417.6h6m165 0h3m7 0h3M612 420.2h1M342 421.5h6m278 0h2M500 424.1h3m125 0h4M593 426.8h3M494 428.1h5m90 0h4m36 0h5M337 429.4h2M494 433.3h6M372 434.6h4m109 0h3m39 0h4m37 0h7M654 436.0h5M576 437.3h4m46 0h3M398 438.6h1M608 439.9h4m43 0h3M493 441.2h3m133 0h3M514 445.2h3m25 0h3m30 0h2M513 447.8h2M434 450.4h6m14 0h3m95 0h1M365 453.0h3M363 454.4h4m162 0h2M562 455.7h8M491 458.3h5M643 459.6h2M429 460.9h3M377 462.2h1m110 0h8M341 464.9h5m43 0h1m169 0h5m68 0h6M415 466.2h2m133 0h1m105 0h1M498 467.5h4M607 468.8h1M399 470.1h4m165 0h4M648 472.8h3M523 474.1h4m8 0h2M448 475.4h4m118 0h2m80 0h2M614 476.7h2M588 478.0h5m20 0h7M523 479.3h2M595 480.6h8m39 0h7"/>
</g>
<path d="M331.9,297.3v2.2M365.7,297.3v2.2M399.5,297.3v2.2M433.3,297.3v2.2M467.1,297.3v2.2M500.9,297.3v2.2M534.7,297.3v2.2M568.5,297.3v2.2M602.3,297.3v2.2M636.1,297.3v2.2M325,307.7h2.2M325,328.1h2.2M325,347.2h2.2M325,366.7h2.2M325,385.5h2.2M325,405.1h2.2M325,425.7h2.2M325,445.2h2.2M325,464.0h2.2" stroke="#333" stroke-width="0.7" fill="none"/>
<path d="M476.9,297.3 V521" stroke="#222" stroke-width="1.1" stroke-dasharray="3.5,2.5"/>
<path d="M325,481.3 V521" stroke="#333" stroke-width="1" stroke-dasharray="3.5,2.5"/>
<path d="M661,481.3 V521" stroke="#333" stroke-width="1" stroke-dasharray="3.5,2.5"/>
<text x="319.7" y="312.5" font-size="13.5" text-anchor="end" font-family="Liberation Sans, sans-serif" font-weight="bold" stroke="#000" stroke-width="0.35">45</text>
<text x="319.7" y="332.9" font-size="13.5" text-anchor="end" font-family="Liberation Sans, sans-serif" font-weight="bold" stroke="#000" stroke-width="0.35">40</text>
<text x="319.7" y="352.0" font-size="13.5" text-anchor="end" font-family="Liberation Sans, sans-serif" font-weight="bold" stroke="#000" stroke-width="0.35">35</text>
<text x="319.7" y="371.5" font-size="13.5" text-anchor="end" font-family="Liberation Sans, sans-serif" font-weight="bold" stroke="#000" stroke-width="0.35">30</text>
<text x="319.7" y="390.3" font-size="13.5" text-anchor="end" font-family="Liberation Sans, sans-serif" font-weight="bold" stroke="#000" stroke-width="0.35">25</text>
<text x="319.7" y="409.9" font-size="13.5" text-anchor="end" font-family="Liberation Sans, sans-serif" font-weight="bold" stroke="#000" stroke-width="0.35">20</text>
<text x="319.7" y="430.5" font-size="13.5" text-anchor="end" font-family="Liberation Sans, sans-serif" font-weight="bold" stroke="#000" stroke-width="0.35">15</text>
<text x="319.7" y="450.0" font-size="13.5" text-anchor="end" font-family="Liberation Sans, sans-serif" font-weight="bold" stroke="#000" stroke-width="0.35">10</text>
<text x="318.2" y="468.8" font-size="13.5" text-anchor="end" font-family="Liberation Sans, sans-serif" font-weight="bold" stroke="#000" stroke-width="0.35">5</text>
<text x="318.2" y="485.3" font-size="13.5" text-anchor="end" font-family="Liberation Sans, sans-serif" font-weight="bold" stroke="#000" stroke-width="0.35">0</text>
<text x="297.2" y="392" font-size="13.5" text-anchor="middle" transform="rotate(-90 297.2 392)" font-family="Liberation Sans, sans-serif" font-weight="bold" stroke="#000" stroke-width="0.35">Frequency (Hz)</text>
<rect x="663.6" y="297.5" width="4.9" height="184.3" fill="url(#jet)"/>
<text x="671.5" y="314.8" font-size="12.3" font-family="Liberation Sans, sans-serif" font-weight="bold" stroke="#000" stroke-width="0.35">4</text>
<text x="671.5" y="334.8" font-size="12.3" font-family="Liberation Sans, sans-serif" font-weight="bold" stroke="#000" stroke-width="0.35">3</text>
<text x="671.5" y="354.9" font-size="12.3" font-family="Liberation Sans, sans-serif" font-weight="bold" stroke="#000" stroke-width="0.35">2</text>
<text x="671.5" y="374.9" font-size="12.3" font-family="Liberation Sans, sans-serif" font-weight="bold" stroke="#000" stroke-width="0.35">1</text>
<text x="671.5" y="395.0" font-size="12.3" font-family="Liberation Sans, sans-serif" font-weight="bold" stroke="#000" stroke-width="0.35">0</text>
<text x="671.5" y="415.0" font-size="12.3" font-family="Liberation Sans, sans-serif" font-weight="bold" stroke="#000" stroke-width="0.35">-1</text>
<text x="671.5" y="435.1" font-size="12.3" font-family="Liberation Sans, sans-serif" font-weight="bold" stroke="#000" stroke-width="0.35">-2</text>
<text x="671.5" y="455.1" font-size="12.3" font-family="Liberation Sans, sans-serif" font-weight="bold" stroke="#000" stroke-width="0.35">-3</text>
<text x="671.5" y="475.2" font-size="12.3" font-family="Liberation Sans, sans-serif" font-weight="bold" stroke="#000" stroke-width="0.35">-4</text>
<text x="687.6" y="389.2" font-size="13.5" text-anchor="middle" transform="rotate(90 687.6 389.2)" font-family="Liberation Sans, sans-serif" font-weight="bold" stroke="#000" stroke-width="0.35">ERSP(dB)</text>
<text x="477.3" y="275.2" font-size="13.5" font-family="Liberation Sans, sans-serif" font-weight="bold" stroke="#000" stroke-width="0.35">Behavior Evaluation</text>
<rect x="478.2" y="277.2" width="22.6" height="17.0" fill="#3f28b0"/>
<rect x="500.8" y="277.2" width="23.3" height="17.0" fill="#4858f0"/>
<rect x="524.1" y="277.2" width="23.1" height="17.0" fill="#2a92e4"/>
<rect x="547.2" y="277.2" width="23.5" height="17.0" fill="#88c246"/>
<rect x="570.7" y="277.2" width="22.5" height="17.0" fill="#f8b832"/>
<rect x="593.2" y="277.2" width="23.3" height="17.0" fill="#f8ee18"/>
<rect x="616.5" y="277.2" width="46.1" height="17.0" fill="#f4c82c"/>
<rect x="663.9" y="277.2" width="2.8" height="17.0" fill="url(#parU)"/>
<text x="680.4" y="283.7" font-size="11.8" text-anchor="end" font-family="Liberation Sans, sans-serif" font-weight="bold" stroke="#000" stroke-width="0.35">1</text>
<text x="681" y="300.1" font-size="11.8" text-anchor="end" font-family="Liberation Sans, sans-serif" font-weight="bold" stroke="#000" stroke-width="0.35">-1</text>
<text x="403.0" y="495.4" font-size="13.5" text-anchor="middle" font-family="Liberation Sans, sans-serif" font-weight="bold" stroke="#000" stroke-width="0.35">Neutral stimualtion</text>
<text x="403.0" y="511.2" font-size="13.5" text-anchor="middle" font-family="Liberation Sans, sans-serif" font-weight="bold" stroke="#000" stroke-width="0.35">phase</text>
<text x="567.5" y="495.4" font-size="13.5" text-anchor="middle" font-family="Liberation Sans, sans-serif" font-weight="bold" stroke="#000" stroke-width="0.35">Sad stimualtion</text>
<text x="567.5" y="511.2" font-size="13.5" text-anchor="middle" font-family="Liberation Sans, sans-serif" font-weight="bold" stroke="#000" stroke-width="0.35">phase</text>
<path d="M327.5,516.6 H474.4" stroke="#222" stroke-width="1.1"/>
<path d="M327.3,516.6 l4.2,-1.9 v3.8 z M474.6,516.6 l-4.2,-1.9 v3.8 z" fill="#1a1a1a"/>
<path d="M479.4,516.6 H658.5" stroke="#222" stroke-width="1.1"/>
<path d="M479.2,516.6 l4.2,-1.9 v3.8 z M658.7,516.6 l-4.2,-1.9 v3.8 z" fill="#1a1a1a"/>
<g clip-path="url(#clipC)" filter="url(#hb)">
<rect x="336" y="581" width="333" height="181.6" fill="rgb(54, 243, 204)"/>
<path stroke="rgb(32, 232, 232)" stroke-width="1.35" fill="none" d="M457 581.6h8m19 0h1m11 0h8m117 0h5M399 582.9h9m54 0h2m85 0h7m40 0h11m37 0h3m11 0h6M347 584.2h30m165 0h7m94 0h6M397 585.5h8m129 0h6m45 0h4m30 0h1M359 586.8h5m93 0h7m10 0h5m54 0h6m93 0h5m19 0h6M445 588.1h7m18 0h7m13 0h5m13 0h7m47 0h6m44 0h4m12 0h4M363 589.4h2m28 0h1m11 0h2m126 0h6M465 590.7h8m28 0h5m13 0h5m108 0h4M406 592.0h6m39 0h11m49 0h8m12 0h1m42 0h8M351 593.3h12m43 0h2m10 0h4m3 0h16M371 594.6h4m9 0h3m10 0h7m27 0h23m23 0h10m21 0h5m61 0h17m65 0h10M336 595.9h3m104 0h20m9 0h4m188 0h5M396 597.2h4m25 0h9m15 0h5m77 0h6M396 598.5h11m90 0h1m42 0h6M336 599.8h6m11 0h6m9 0h8m24 0h5m95 0h7m86 0h6m68 0h2M350 601.1h6m97 0h5M347 602.4h2m16 0h6m32 0h2m52 0h3m93 0h11m42 0h7M366 603.7h8m82 0h8m57 0h8M391 605.0h7m22 0h14m96 0h4m17 0h5m62 0h5M336 606.3h3m149 0h1m64 0h6m107 0h3M352 607.6h6m47 0h12m19 0h5m87 0h5m78 0h4M433 608.9h3m88 0h4M342 610.2h1m60 0h4m7 0h4m53 0h10m51 0h7m107 0h4M337 611.5h7m85 0h4m127 0h8m27 0h5m52 0h4M338 612.8h8m6 0h5m9 0h9m101 0h6m86 0h9m31 0h8m36 0h5M364 614.1h15m86 0h4m66 0h3m45 0h17m63 0h3M370 615.4h7m33 0h20m15 0h7m16 0h5m49 0h7m43 0h8M384 616.7h5m13 0h8m79 0h1m14 0h8m21 0h14m64 0h7M344 618.0h8m15 0h5m63 0h5m46 0h5m21 0h5m7 0h15m25 0h9M375 619.3h20m45 0h6m22 0h7m12 0h2m15 0h9m134 0h2M371 620.6h3m41 0h2m12 0h11m46 0h2m77 0h8m42 0h10M413 621.9h7m58 0h7m134 0h12M336 623.2h2m23 0h15m14 0h1m132 0h5m80 0h7m5 0h3m35 0h11M368 624.5h8m230 0h7m6 0h8m24 0h2M474 625.8h3m7 0h11m35 0h8m7 0h2m72 0h3M381 627.0h1m99 0h6m3 0h4m67 0h3m24 0h5m12 0h5M396 628.3h4m75 0h3m71 0h3M388 629.6h3m20 0h20m44 0h11m10 0h7m14 0h9m33 0h8m16 0h5m24 0h8m40 0h8M373 630.9h3m75 0h5m48 0h2m26 0h10m43 0h3m34 0h7M360 632.2h6m133 0h12m30 0h8m43 0h8M340 633.5h6m16 0h8m18 0h6m21 0h2m73 0h2m15 0h5M358 634.8h10m30 0h21m115 0h8m75 0h7M340 636.1h5m34 0h4m32 0h8m89 0h10m19 0h6m8 0h7m92 0h9M336 637.4h6m101 0h15m5 0h4m66 0h7m6 0h11m31 0h9m16 0h21m20 0h4M384 638.7h6m10 0h14m45 0h6m90 0h3m41 0h2M405 640.0h4m32 0h6m24 0h1m6 0h2m49 0h2m17 0h11m23 0h6m7 0h8M336 641.3h6m3 0h3m38 0h13m45 0h2m34 0h4m39 0h6m62 0h6m71 0h1M394 642.6h5m5 0h7m42 0h3m84 0h5m87 0h8m6 0h2M458 643.9h3m31 0h6m41 0h9m53 0h1m26 0h4M336 645.2h37m80 0h8m89 0h16m3 0h17m81 0h2M422 646.5h5m10 0h14m49 0h2M396 647.8h9m47 0h4m43 0h5m23 0h7m8 0h5M337 649.1h10m16 0h9m11 0h4m74 0h11m181 0h11M524 650.4h6m64 0h5m11 0h5m4 0h16m24 0h2M362 651.7h8m51 0h7m179 0h4M338 653.0h9m16 0h13m27 0h15m67 0h1m104 0h11m41 0h4M343 654.3h3m101 0h18m87 0h7m66 0h5m20 0h7m6 0h4M385 655.6h3m43 0h9m19 0h12m50 0h3m105 0h3M456 656.9h5m37 0h2m90 0h6m22 0h3M350 658.2h6m44 0h14m17 0h9m14 0h7m94 0h8M363 659.5h10m194 0h14m29 0h15m5 0h5M343 660.8h3m8 0h4m22 0h7m7 0h7m94 0h7m14 0h11m13 0h7m44 0h12m20 0h6M361 662.1h6m64 0h3m20 0h10m131 0h3m26 0h2M404 663.4h13m62 0h5m13 0h4m42 0h7m112 0h5M362 664.7h14m18 0h6m18 0h2m125 0h5m15 0h4m35 0h9m14 0h5M350 666.0h22m86 0h4m113 0h2M369 667.3h5m16 0h5m7 0h9m39 0h6m9 0h12m62 0h6m100 0h18M400 668.6h9m13 0h9m44 0h7m16 0h6m52 0h11m60 0h7m16 0h3M415 669.9h2m20 0h4m110 0h2m2 0h4m55 0h8m23 0h8M403 671.2h6m30 0h20m37 0h7m19 0h4m107 0h3M370 672.4h5m17 0h1m51 0h12m49 0h14m17 0h8m5 0h7m42 0h6m5 0h5M413 673.7h23m108 0h8m11 0h8m16 0h3m12 0h7m43 0h7M336 675.0h8m31 0h11m25 0h8m37 0h1m114 0h5m80 0h13M349 676.3h2m58 0h13m13 0h3m12 0h5m69 0h7M390 677.6h6m21 0h6m84 0h11m18 0h9m1 0h5m5 0h2m91 0h14M378 678.9h2m111 0h5m16 0h11m31 0h3m3 0h15m25 0h8m46 0h6M363 680.2h8m48 0h1m39 0h1m28 0h9m14 0h7m3 0h7m92 0h2m10 0h2M367 681.5h5m79 0h10m19 0h2m33 0h3m132 0h15M472 682.8h7m7 0h3m39 0h5m63 0h14m28 0h14M373 684.1h15m4 0h8m8 0h3m90 0h2m36 0h5m27 0h5m9 0h10m39 0h2M373 685.4h13M440 686.7h8m51 0h1m84 0h5m60 0h2M338 688.0h3m41 0h6m16 0h6m13 0h25m48 0h3M413 689.3h8m15 0h5m80 0h6m27 0h12m5 0h7m83 0h8M369 690.6h4m120 0h10m35 0h16m3 0h5m27 0h5m28 0h9m25 0h6M383 691.9h4m87 0h17m63 0h1m2 0h9m13 0h14m39 0h14M354 693.2h5m26 0h5m30 0h9m24 0h8m87 0h6m21 0h6m25 0h2m46 0h3M336 694.5h2m25 0h3m25 0h2m52 0h7m122 0h9m80 0h6M384 695.8h3m35 0h11m75 0h3m42 0h6m14 0h9m13 0h11m12 0h5m36 0h7M381 697.1h5m15 0h11m96 0h9m34 0h26m9 0h8m39 0h7m12 0h6M373 698.4h3m20 0h5m41 0h5m64 0h12m16 0h6m41 0h8m11 0h6m13 0h14M371 699.7h1m25 0h1m66 0h2m64 0h1m48 0h5m14 0h3M388 701.0h4m82 0h8m75 0h14m52 0h6M459 702.3h4m10 0h13m4 0h15m94 0h3m12 0h3m15 0h7m2 0h13M341 703.6h7m113 0h1m27 0h9m45 0h10m18 0h5m3 0h7m36 0h1m9 0h4m13 0h10M340 704.9h8m4 0h7m128 0h18m100 0h1m24 0h7M361 706.2h9m239 0h3M564 707.5h2m9 0h6m54 0h5M382 708.8h4m132 0h8m4 0h13m24 0h1m30 0h3m61 0h7M374 710.1h7m33 0h3m7 0h3m42 0h5m80 0h4m25 0h4m28 0h6M344 711.4h1m76 0h5m80 0h4m45 0h12M378 712.7h5m16 0h1m54 0h8m30 0h2m59 0h4m20 0h3m47 0h1m17 0h5M353 714.0h3m52 0h6m68 0h3m7 0h7m21 0h5m31 0h13m52 0h3m32 0h6M336 715.3h1m151 0h2m27 0h8m69 0h5m19 0h4m22 0h7m8 0h10M362 716.6h5m219 0h3m56 0h8M416 717.8h4m90 0h3m102 0h2M399 719.1h2m117 0h4m64 0h6m31 0h15M380 720.4h9m16 0h2m67 0h7m19 0h8m147 0h7M337 721.7h10m15 0h6m20 0h5m65 0h13m105 0h19m5 0h2M349 723.0h1m31 0h4m109 0h2m64 0h12M375 724.3h5m16 0h4m39 0h7m25 0h3m93 0h1m29 0h7m26 0h2m14 0h19M450 725.6h5m82 0h3m30 0h9m52 0h2m23 0h7M353 726.9h14m69 0h3m8 0h7m80 0h5m12 0h5m46 0h17M351 728.2h7m37 0h1m11 0h3m28 0h6m44 0h4m92 0h7m2 0h3m43 0h4m18 0h4M366 729.5h6m24 0h5m24 0h16m26 0h6m23 0h6m23 0h15m12 0h9m67 0h7m10 0h6M336 730.8h2m109 0h5m49 0h2m41 0h4m36 0h6m77 0h2M341 732.1h4m29 0h5m11 0h3m105 0h8m94 0h2M460 733.4h9m108 0h7m34 0h3M387 734.7h5m61 0h14m33 0h5m18 0h7m41 0h8M368 736.0h6m15 0h6m12 0h20m34 0h6m152 0h4M468 737.3h10m24 0h6m24 0h3m11 0h3m2 0h10M366 738.6h7m23 0h3m44 0h3m38 0h11m50 0h1m35 0h4m52 0h13M336 739.9h11m20 0h12m21 0h3m19 0h5m73 0h5m77 0h8m32 0h16m30 0h1M383 741.2h12m9 0h8m6 0h5m56 0h9m30 0h6m76 0h9m8 0h3m9 0h12m21 0h4M353 742.5h8m94 0h5m57 0h11m12 0h12m9 0h9m88 0h7M359 743.8h3m85 0h13m27 0h12m24 0h7m56 0h6M658 745.1h6M383 746.4h9m34 0h7m14 0h11m3 0h4m30 0h7m3 0h8m62 0h16m7 0h5m38 0h2M340 747.7h7m19 0h6m65 0h5m22 0h13m45 0h18m16 0h2m10 0h5m45 0h7M336 749.0h2m80 0h6m71 0h4m15 0h6m102 0h13m20 0h14M341 750.3h9m8 0h3m33 0h9m23 0h2m48 0h5m5 0h24m30 0h4m29 0h7m67 0h5M341 751.6h7m31 0h10m65 0h11m12 0h3m6 0h6m14 0h6m11 0h9M365 752.9h9m17 0h23m73 0h1m83 0h4m53 0h4m4 0h6m20 0h5M358 754.2h11m20 0h6m1 0h8m23 0h7m29 0h6m25 0h9m102 0h9m28 0h4M362 755.5h7m5 0h4m16 0h4m48 0h3m44 0h2m7 0h11m72 0h5M356 756.8h5m36 0h9m23 0h6m11 0h2m28 0h10m18 0h5m16 0h3m42 0h16m14 0h5M340 758.1h8m62 0h3m31 0h6m27 0h3m40 0h10m68 0h5M382 759.4h9m4 0h2m3 0h5m48 0h4m87 0h4m60 0h11M373 760.7h15m31 0h7m41 0h6m30 0h4m50 0h8m29 0h7m46 0h6M469 762.0h8m53 0h9m30 0h6m3 0h4m52 0h9"/>
<path stroke="rgb(105, 248, 150)" stroke-width="1.35" fill="none" d="M343 581.6h1m22 0h7m10 0h12m76 0h7m29 0h14m7 0h15m15 0h4m39 0h17m12 0h21m17 0h1M343 582.9h12m11 0h27m44 0h19m13 0h4m8 0h9m10 0h15m17 0h2m52 0h8m25 0h13m2 0h7M336 584.2h8m37 0h10m10 0h3m10 0h5m40 0h7m4 0h3m12 0h19m11 0h8m9 0h4m28 0h12m28 0h3m3 0h30m11 0h5m5 0h8M356 585.5h8m20 0h8m18 0h20m10 0h10m16 0h5m18 0h19m14 0h8m35 0h16m18 0h9m18 0h28m12 0h3M351 586.8h4m20 0h8m12 0h4m22 0h4m61 0h5m25 0h14m19 0h5m9 0h9m5 0h21m18 0h8m25 0h2m17 0h1M383 588.1h12m9 0h15m11 0h8m22 0h5m15 0h6m13 0h7m13 0h10m13 0h17m11 0h9m9 0h9m5 0h7m26 0h11m2 0h3m4 0h14M347 589.4h10m57 0h16m14 0h28m10 0h5m7 0h7m7 0h23m11 0h4m9 0h12m8 0h32m9 0h3m4 0h21M343 590.7h4m11 0h12m18 0h7m3 0h17m30 0h6m28 0h12m39 0h4m43 0h16m7 0h19m20 0h6M336 592.0h3m45 0h3m10 0h7m11 0h9m2 0h7m36 0h7m7 0h7m64 0h6m3 0h9m19 0h6m10 0h9m14 0h14m8 0h11m3 0h3M452 593.3h36m31 0h10m11 0h16m45 0h20m3 0h20M336 594.6h10m10 0h6m45 0h10m41 0h15m18 0h7m18 0h8m10 0h16m8 0h13m24 0h6m18 0h33m16 0h1M361 595.9h18m18 0h4m13 0h22m57 0h6m8 0h11m11 0h5m18 0h36m8 0h15m6 0h18m3 0h4m2 0h14M336 597.2h3m35 0h11m20 0h16m15 0h9m14 0h35m18 0h9m18 0h7m19 0h34m11 0h14m7 0h23m12 0h3M381 598.5h1m6 0h5m25 0h35m17 0h10m23 0h10m15 0h8m20 0h13m9 0h9m2 0h66M347 599.8h2m73 0h9m7 0h10m13 0h2m17 0h9m21 0h20m25 0h22m44 0h25m3 0h16M336 601.1h4m19 0h11m12 0h5m1 0h12m3 0h12m26 0h2m28 0h35m15 0h6m13 0h3m4 0h25m41 0h4m4 0h7m7 0h10m5 0h19M336 602.4h1m18 0h6m15 0h9m40 0h4m61 0h8m9 0h7m22 0h12m32 0h10m27 0h14m18 0h6m5 0h9M393 603.7h12m5 0h8m5 0h5m14 0h10m18 0h2m16 0h21m26 0h5m9 0h23m8 0h15m6 0h28m5 0h10m16 0h9M336 605.0h11m6 0h5m9 0h7m28 0h11m33 0h7m37 0h22m48 0h4m15 0h8m9 0h20m10 0h9m1 0h8m12 0h13M358 606.3h33m12 0h8m13 0h7m5 0h15m25 0h7m19 0h16m24 0h7m15 0h19m11 0h16m11 0h5m11 0h21M363 607.6h3m10 0h5m14 0h6m23 0h10m38 0h13m4 0h6m10 0h11m35 0h9m22 0h24m12 0h14m3 0h9m11 0h6M343 608.9h21m4 0h17m16 0h8m13 0h8m10 0h9m5 0h7m3 0h9m6 0h5m60 0h27m8 0h14m5 0h30m9 0h7m19 0h5M349 610.2h17m14 0h8m36 0h3m6 0h20m3 0h8m20 0h7m10 0h5m4 0h13m32 0h7m12 0h18m8 0h10m2 0h18m6 0h8m10 0h15M353 611.5h7m8 0h14m2 0h26m9 0h6m18 0h20m49 0h6m52 0h5m7 0h7m27 0h7m14 0h13m10 0h3M360 612.8h3m31 0h7m15 0h11m27 0h7m30 0h5m16 0h24m18 0h12m15 0h15m39 0h8m18 0h8M342 614.1h16m31 0h9m6 0h10m20 0h12m1 0h5m89 0h24m37 0h14m9 0h1m10 0h17M336 615.4h1m20 0h3m23 0h2m73 0h7m9 0h17m10 0h7m3 0h3m21 0h8m8 0h10m42 0h8m21 0h20m10 0h7M354 616.7h5m34 0h5m34 0h10m24 0h15m36 0h4m39 0h2m36 0h10m14 0h12m14 0h17M336 618.0h5m83 0h8m63 0h9m39 0h7m27 0h22m7 0h24m6 0h12m18 0h3M355 619.3h12m83 0h3m41 0h4m23 0h3m12 0h30m2 0h20m17 0h7m7 0h5m14 0h6m10 0h9M336 620.6h12m40 0h12m45 0h5m9 0h23m21 0h11m12 0h22m28 0h7m7 0h20m19 0h17m17 0h6M341 621.9h6m8 0h3m5 0h47m37 0h15m5 0h6m29 0h4m14 0h5m6 0h6m5 0h9m4 0h8m8 0h3m8 0h9m6 0h17m20 0h13M346 623.2h11m130 0h21m24 0h8m34 0h13m3 0h4m32 0h19M339 624.5h10m10 0h5m76 0h14m9 0h10m18 0h8m14 0h12m10 0h23m7 0h8m5 0h11m41 0h14m13 0h11M336 625.8h5m15 0h4m13 0h12m51 0h2m18 0h1m62 0h7m39 0h18m10 0h7m6 0h11m18 0h17m11 0h6M336 627.0h3m6 0h21m30 0h6m6 0h11m16 0h2m14 0h19m46 0h17m7 0h9m18 0h9m51 0h18m12 0h6m4 0h2M351 628.3h4m61 0h27m47 0h8m20 0h16m3 0h8m32 0h9m6 0h4m15 0h13m2 0h19m3 0h7m7 0h7M342 629.6h15m23 0h4m50 0h1m10 0h17m108 0h6m15 0h11m4 0h3m14 0h35M336 630.9h1m60 0h10m10 0h3m8 0h2m8 0h2m36 0h2m10 0h2m56 0h20m25 0h6m7 0h10m23 0h32M336 632.2h10m37 0h20m17 0h27m16 0h6m8 0h5m8 0h7m24 0h5m4 0h8m15 0h6m11 0h19m16 0h11m4 0h9m3 0h22m6 0h9M442 633.5h14m59 0h21m18 0h4m12 0h2m9 0h3m14 0h3m11 0h7m5 0h5m6 0h9m5 0h5m8 0h7M445 634.8h12m12 0h3m12 0h32m11 0h3m29 0h11m7 0h16m43 0h7m4 0h8m6 0h8M348 636.1h6m11 0h8m19 0h12m22 0h10m28 0h7m10 0h13m35 0h9m27 0h8m21 0h33m10 0h14M375 637.4h33m5 0h4m55 0h4m7 0h21m8 0h16m32 0h6m4 0h14m16 0h4m33 0h5m19 0h5M336 638.7h4m11 0h8m34 0h4m35 0h6m6 0h10m15 0h5m9 0h6m17 0h11m7 0h19m26 0h12m24 0h26m4 0h8m4 0h22M336 640.0h6m33 0h7m108 0h1m11 0h5m7 0h11m11 0h6m26 0h11m26 0h6m5 0h32m15 0h6M355 641.3h9m12 0h3m71 0h12m5 0h7m14 0h10m14 0h9m13 0h1m43 0h9m12 0h18m6 0h39M344 642.6h8m15 0h17m54 0h9m21 0h11m37 0h14m20 0h5m13 0h6m3 0h9m15 0h4M336 643.9h10m15 0h9m10 0h14m7 0h8m11 0h6m14 0h4m8 0h2m10 0h4m10 0h10m39 0h8m16 0h19m6 0h11m4 0h6m13 0h3m5 0h2m15 0h10m14 0h10M407 645.2h10m21 0h12m33 0h1m16 0h16m11 0h17m67 0h18m9 0h3m17 0h6M336 646.5h2m16 0h5m16 0h4m3 0h26m98 0h6m17 0h9m13 0h4m15 0h18m15 0h9m6 0h2m7 0h32m6 0h4M338 647.8h19m69 0h10m30 0h29m22 0h7m28 0h9m4 0h34m11 0h21m7 0h8m13 0h4M391 649.1h23m26 0h6m32 0h14m4 0h6m2 0h6m4 0h12m12 0h14m29 0h3m16 0h13m8 0h6m10 0h13M336 650.4h5m6 0h8m16 0h30m6 0h5m35 0h21m8 0h11m7 0h11m33 0h14m23 0h11m18 0h2m32 0h18m10 0h3M375 651.7h8m6 0h4m40 0h7m11 0h15m8 0h3m20 0h8m6 0h14m12 0h19m9 0h19m7 0h13m24 0h39M350 653.0h9m21 0h6m55 0h8m14 0h17m13 0h15m2 0h19m5 0h9m9 0h5m5 0h24m40 0h10m12 0h10m7 0h2M354 654.3h5m15 0h5m30 0h10m9 0h9m35 0h3m8 0h9m6 0h39m8 0h4m15 0h7m12 0h29m3 0h7m10 0h15M336 655.6h28m5 0h12m15 0h8m77 0h8m9 0h7m8 0h3m12 0h2m10 0h6m12 0h14m12 0h12m17 0h7m14 0h13m10 0h2m5 0h5M343 656.9h12m3 0h8m18 0h2m23 0h6m3 0h10m19 0h6m17 0h9m7 0h8m28 0h5m13 0h3m5 0h15m3 0h17m26 0h5m10 0h31M359 658.2h14m1 0h9m3 0h9m23 0h4m24 0h5m13 0h14m7 0h10m10 0h23m13 0h11m14 0h8m5 0h5m8 0h6m3 0h2m17 0h6m5 0h12M336 659.5h9m8 0h6m18 0h29m29 0h2m9 0h5m18 0h11m14 0h4m10 0h4m29 0h11m34 0h20m34 0h2m2 0h25M362 660.8h5m38 0h18m12 0h22m17 0h18m58 0h3m10 0h9m4 0h8m48 0h10m12 0h8M342 662.1h9m29 0h3m11 0h33m11 0h7m22 0h21m20 0h16m13 0h12m7 0h9m8 0h12m16 0h20m8 0h15m10 0h6M337 663.4h4m46 0h6m27 0h10m29 0h5m9 0h2m12 0h4m17 0h15m4 0h14m15 0h13m11 0h20m16 0h16m2 0h15M341 664.7h1m66 0h6m10 0h4m9 0h2m5 0h8m15 0h10m9 0h2m9 0h4m14 0h14m7 0h6m12 0h8m11 0h27m17 0h7m12 0h7m11 0h11M376 666.0h17m8 0h6m2 0h9m7 0h8m40 0h8m15 0h20m13 0h38m14 0h6m10 0h59M336 667.3h15m85 0h11m35 0h22m4 0h18m4 0h7m29 0h14m5 0h11m4 0h15m2 0h17m32 0h3M338 668.6h13m20 0h17m57 0h6m11 0h10m37 0h10m5 0h29m18 0h30m8 0h15m12 0h11m9 0h12M336 669.9h1m7 0h7m10 0h10m29 0h11m10 0h6m17 0h10m8 0h13m6 0h2m7 0h7m8 0h10m12 0h7m44 0h9m5 0h17m20 0h6m1 0h6m14 0h13M372 671.2h10m8 0h4m18 0h13m7 0h5m27 0h14m27 0h14m11 0h17m8 0h13m14 0h26m6 0h15m9 0h7m6 0h16M342 672.4h16m22 0h7m13 0h8m3 0h8m16 0h4m27 0h8m10 0h13m26 0h10m30 0h3m3 0h25m23 0h13m5 0h12m11 0h9M336 673.7h2m4 0h20m4 0h14m17 0h5m38 0h6m16 0h6m18 0h10m7 0h21m5 0h13m33 0h3m17 0h3m14 0h5m20 0h11m13 0h8M360 675.0h12m19 0h18m13 0h13m11 0h5m12 0h1m8 0h7m19 0h9m9 0h6m12 0h11m5 0h19m11 0h26m15 0h21m7 0h4M336 676.3h8m26 0h3m7 0h7m55 0h5m25 0h3m19 0h7m9 0h7m20 0h20m5 0h24m6 0h23m12 0h3m6 0h11m11 0h11M336 677.6h1m3 0h4m6 0h13m10 0h10m15 0h11m17 0h14m11 0h20m11 0h9m30 0h12m33 0h13m5 0h2m15 0h22m16 0h3m23 0h4M359 678.9h8m27 0h9m24 0h5m13 0h6m8 0h13m4 0h5m105 0h7m19 0h12m6 0h20M336 680.2h18m20 0h17m7 0h8m21 0h16m4 0h7m46 0h9m22 0h12m5 0h22m12 0h19m10 0h7m8 0h2m9 0h16m1 0h15M336 681.5h8m6 0h9m17 0h19m2 0h8m23 0h14m44 0h23m13 0h7m7 0h9m16 0h10m5 0h11m8 0h11m2 0h12m7 0h17m23 0h2M336 682.8h18m8 0h14m16 0h11m12 0h6m20 0h19m34 0h3m14 0h14m24 0h11m6 0h12m2 0h12m63 0h14M352 684.1h18m51 0h3m31 0h23m30 0h7m9 0h9m14 0h18m39 0h9m6 0h12m8 0h4m14 0h3M336 685.4h13m9 0h7m23 0h11m14 0h7m41 0h10m5 0h23m18 0h56m8 0h5m1 0h40m13 0h4m13 0h12M336 686.7h15m36 0h5m3 0h5m10 0h2m6 0h7m5 0h9m23 0h12m1 0h9m1 0h10m11 0h4m14 0h17m8 0h27m30 0h3m26 0h6m14 0h4m9 0h1M345 688.0h5m43 0h8m13 0h7m32 0h23m2 0h14m12 0h29m5 0h14m19 0h2m21 0h1m18 0h27m15 0h3M360 689.3h6m25 0h18m20 0h3m31 0h22m4 0h11m14 0h4m10 0h16m39 0h8m23 0h10m22 0h9M336 690.6h23m26 0h14m6 0h20m11 0h13m7 0h14m7 0h10m33 0h15m40 0h11m22 0h6m22 0h15m16 0h2M337 691.9h24m12 0h7m11 0h4m38 0h20m40 0h12m7 0h3m11 0h24m47 0h33m23 0h11M339 693.2h4m23 0h1m2 0h2m23 0h21m26 0h9m41 0h29m15 0h10m12 0h16m19 0h11m9 0h11m13 0h1m25 0h7M404 694.5h7m2 0h12m40 0h12m26 0h4m16 0h48m14 0h13m4 0h9m24 0h26M336 695.8h3m6 0h3m17 0h17m15 0h7m2 0h8m36 0h11m3 0h14m11 0h4m22 0h28m19 0h8m38 0h8m12 0h7m8 0h9m16 0h1M342 697.1h6m6 0h5m7 0h11m18 0h2m28 0h12m37 0h14m2 0h7m37 0h11m36 0h1m30 0h10m22 0h6m10 0h7M336 698.4h6m9 0h14m18 0h10m17 0h27m54 0h5m7 0h5m19 0h10m24 0h22m63 0h23M376 699.7h14m22 0h24m10 0h10m17 0h1m1 0h11m12 0h18m7 0h2m10 0h11m10 0h21m10 0h8m19 0h7m6 0h3m4 0h32M349 701.0h4m28 0h2m25 0h10m14 0h25m28 0h4m30 0h16m7 0h13m19 0h15m23 0h8m12 0h13M336 702.3h16m22 0h6m6 0h14m20 0h4m5 0h6m16 0h5m10 0h4m40 0h10m7 0h10m24 0h2m26 0h6m11 0h4m12 0h5m31 0h11M336 703.6h2m13 0h17m5 0h4m13 0h32m6 0h1m13 0h14m16 0h4m25 0h5m19 0h16m21 0h6m24 0h26m43 0h8M336 704.9h2m24 0h5m15 0h16m16 0h30m10 0h8m47 0h33m9 0h4m5 0h28m35 0h1m17 0h21m3 0h4M336 706.2h3m7 0h8m18 0h16m20 0h32m5 0h10m7 0h6m25 0h7m3 0h26m7 0h10m14 0h4m8 0h6m2 0h3m13 0h5m39 0h5m20 0h4M336 707.5h4m19 0h21m10 0h1m23 0h15m4 0h10m6 0h3m8 0h8m8 0h12m20 0h13m4 0h9m1 0h7m42 0h48m11 0h10m2 0h14M340 708.8h5m11 0h4m29 0h4m9 0h34m7 0h9m7 0h19m9 0h28m35 0h1m22 0h6m26 0h19m14 0h2M341 710.1h3m12 0h13m15 0h7m40 0h24m25 0h6m6 0h24m3 0h29m14 0h17m13 0h7m24 0h32m3 0h3M336 711.4h4m10 0h12m35 0h7m27 0h8m10 0h13m14 0h16m3 0h8m12 0h37m20 0h9m7 0h8m6 0h13m8 0h9m17 0h20M336 712.7h7m6 0h7m11 0h8m10 0h8m11 0h27m34 0h16m17 0h6m4 0h12m10 0h19m13 0h12m17 0h6m34 0h8m14 0h16M336 714.0h4m41 0h12m6 0h5m14 0h17m9 0h4m25 0h5m32 0h5m13 0h7m2 0h14m35 0h31m10 0h3m10 0h12m12 0h5M354 715.3h6m8 0h15m4 0h9m4 0h6m14 0h28m7 0h29m44 0h15m6 0h5m7 0h28m15 0h4m18 0h9m19 0h2M336 716.6h6m35 0h17m7 0h23m5 0h2m19 0h22m7 0h3m25 0h11m8 0h16m20 0h19m14 0h8m19 0h6m5 0h8m14 0h7m5 0h2M337 717.8h7m4 0h5m5 0h3m30 0h8m25 0h16m7 0h8m17 0h9m8 0h18m10 0h8m4 0h4m10 0h18m14 0h6m18 0h13m8 0h38M336 719.1h17m17 0h11m8 0h5m10 0h9m3 0h18m22 0h30m7 0h6m27 0h14m15 0h5m44 0h14m24 0h15m8 0h4M351 720.4h23m23 0h4m10 0h7m5 0h10m9 0h20m49 0h9m1 0h37m7 0h7m4 0h31m6 0h10m8 0h21M352 721.7h4m16 0h12m13 0h9m22 0h27m29 0h10m7 0h5m10 0h28m7 0h20m35 0h4m4 0h53M355 723.0h4m6 0h10m18 0h46m8 0h16m7 0h6m25 0h8m9 0h9m4 0h25m24 0h16m11 0h7m10 0h21m12 0h6M349 724.3h10m6 0h8m11 0h7m20 0h13m4 0h7m20 0h12m23 0h8m3 0h21m8 0h31m12 0h13m20 0h20M339 725.6h11m21 0h17m8 0h14m28 0h8m12 0h1m9 0h19m2 0h26m7 0h11m14 0h11m3 0h4m18 0h43m10 0h16M336 726.9h15m20 0h2m45 0h14m28 0h11m4 0h21m8 0h7m113 0h13m10 0h22M336 728.2h11m15 0h9m5 0h13m27 0h8m42 0h8m21 0h16m35 0h11m3 0h10m3 0h9m20 0h8m19 0h7m16 0h5m11 0h1M336 729.5h6m3 0h15m17 0h3m6 0h6m25 0h4m23 0h20m13 0h1m9 0h5m13 0h17m20 0h8m15 0h6m30 0h2m36 0h1m15 0h14M342 730.8h21m11 0h8m6 0h4m15 0h11m13 0h11m14 0h2m8 0h13m13 0h5m11 0h5m9 0h7m23 0h7m7 0h5m5 0h7m14 0h14m9 0h4m4 0h14m4 0h18M336 732.1h2m72 0h7m22 0h11m7 0h21m8 0h10m34 0h11m4 0h51m11 0h11m9 0h14m6 0h22M336 733.4h7m19 0h3m7 0h24m1 0h13m15 0h11m3 0h7m2 0h8m31 0h25m18 0h15m16 0h11m15 0h28m39 0h5m9 0h1M336 734.7h15m5 0h6m18 0h4m12 0h7m7 0h4m31 0h2m29 0h5m9 0h6m12 0h13m26 0h21m24 0h22m8 0h15m2 0h14m8 0h8M348 736.0h9m22 0h2m59 0h4m46 0h20m11 0h8m1 0h12m6 0h30m4 0h3m7 0h11m3 0h9m32 0h22M336 737.3h14m3 0h7m9 0h6m19 0h12m7 0h6m8 0h31m2 0h5m24 0h2m28 0h8m39 0h2m14 0h12m7 0h6m14 0h18m3 0h10m6 0h11M343 738.6h13m28 0h8m11 0h20m2 0h14m19 0h22m21 0h6m4 0h14m9 0h6m28 0h9m28 0h5m49 0h8M351 739.9h11m48 0h5m19 0h15m19 0h6m8 0h6m23 0h11m11 0h7m9 0h18m7 0h4m16 0h8M341 741.2h9m7 0h19m50 0h7m14 0h26m25 0h17m14 0h1m33 0h34m57 0h6M342 742.5h7m22 0h7m6 0h6m7 0h15m8 0h3m51 0h9m12 0h8m5 0h7m16 0h3m22 0h3m14 0h9m10 0h8m3 0h9m10 0h5m4 0h23M371 743.8h15m24 0h17m2 0h13m27 0h2m3 0h11m17 0h9m22 0h3m13 0h32m40 0h16m6 0h13m9 0h4M341 745.1h10m10 0h11m9 0h3m29 0h2m10 0h32m14 0h7m20 0h14m9 0h4m4 0h11m5 0h8m9 0h16m2 0h5m10 0h4m3 0h43M342 746.4h13m8 0h3m32 0h25m45 0h5m7 0h10m27 0h3m3 0h14m6 0h6m18 0h5m35 0h13m14 0h3M336 747.7h3m54 0h9m2 0h8m37 0h3m28 0h16m11 0h6m30 0h10m43 0h9m25 0h18m10 0h11M346 749.0h18m2 0h6m8 0h6m6 0h17m19 0h2m24 0h6m4 0h6m17 0h4m52 0h17m9 0h11m5 0h31m22 0h3m5 0h7M374 750.3h9m6 0h3m27 0h2m17 0h4m9 0h15m47 0h5m37 0h15m12 0h6m2 0h20m5 0h12m6 0h4m25 0h7M359 751.6h13m41 0h7m3 0h18m54 0h7m33 0h9m8 0h5m10 0h22m10 0h18m1 0h7m6 0h13m14 0h11M337 752.9h15m7 0h2m21 0h2m32 0h8m7 0h9m4 0h7m6 0h4m35 0h15m9 0h27m6 0h15m9 0h6m10 0h9m42 0h13M336 754.2h1m4 0h10m28 0h8m25 0h9m26 0h6m27 0h10m17 0h13m5 0h25m6 0h14m8 0h13m27 0h20m21 0h10M336 755.5h4m45 0h5m19 0h24m27 0h29m43 0h10m6 0h16m11 0h3m16 0h5m7 0h9m7 0h22m3 0h9m6 0h7M339 756.8h13m13 0h10m43 0h9m26 0h19m21 0h7m15 0h6m27 0h16m26 0h8m10 0h4m10 0h4m42 0h1M336 758.1h1m12 0h7m1 0h9m5 0h3m27 0h5m14 0h16m19 0h18m12 0h13m5 0h13m20 0h7m7 0h8m10 0h7m8 0h11m15 0h16m18 0h5m11 0h10M336 759.4h3m6 0h16m5 0h11m39 0h8m4 0h5m10 0h5m17 0h6m16 0h6m39 0h6m29 0h11m9 0h3m5 0h10m17 0h21m5 0h2m11 0h8M348 760.7h14m33 0h17m20 0h14m9 0h9m11 0h12m49 0h9m23 0h14m22 0h9m6 0h25m15 0h4M339 762.0h9m6 0h6m5 0h10m8 0h4m6 0h10m24 0h6m26 0h7m16 0h6m12 0h14m6 0h8m35 0h4m40 0h2m18 0h4m14 0h20"/>
<path stroke="rgb(170, 240, 80)" stroke-width="1.35" fill="none" d="M474 581.6h2m32 0h11m10 0h8m22 0h2m43 0h13m16 0h15M348 582.9h1m18 0h7m64 0h8m38 0h2m15 0h12m75 0h5m27 0h11m5 0h4M338 584.2h4m40 0h7m99 0h15m14 0h3m47 0h7m37 0h28m24 0h6M356 585.5h7m23 0h5m20 0h8m4 0h6m12 0h5m21 0h2m23 0h13m63 0h5m55 0h25M379 586.8h1m137 0h11m36 0h4m11 0h8m3 0h6m22 0h3M385 588.1h7m14 0h6m19 0h5m46 0h3m15 0h5m15 0h7m17 0h14m13 0h6m14 0h4m9 0h3m29 0h8m12 0h12M349 589.4h5m94 0h19m17 0h1m25 0h10m5 0h4m47 0h29m20 0h18M360 590.7h9m31 0h8m73 0h7m115 0h1m3 0h7M398 592.0h6m12 0h6m6 0h4m39 0h3m11 0h3m77 0h6m39 0h2m23 0h8m11 0h7m6 0h2M462 593.3h10m3 0h6m39 0h8m13 0h13m49 0h16m7 0h17M338 594.6h6m65 0h6m46 0h5m52 0h2m18 0h10m14 0h7m28 0h2m21 0h12m4 0h6m3 0h6M363 595.9h5m49 0h3m6 0h8m60 0h4m12 0h6m38 0h13m14 0h6m13 0h10m10 0h2m8 0h2m14 0h11M375 597.2h9m23 0h4m6 0h2m18 0h6m19 0h5m11 0h13m23 0h6m21 0h3m22 0h8m9 0h10m23 0h6m12 0h19m15 0h1M426 598.5h8m10 0h7m56 0h2m21 0h5m23 0h6m15 0h7m7 0h1m4 0h30m4 0h20M424 599.8h5m11 0h6m35 0h7m23 0h16m30 0h10m5 0h3m47 0h23m8 0h11M336 601.1h3m21 0h9m23 0h5m7 0h8m61 0h12m2 0h18m54 0h7m57 0h2m11 0h8m7 0h18M538 602.4h4m78 0h10m21 0h2m11 0h4M394 603.7h10m41 0h5m41 0h1m7 0h9m43 0h8m6 0h5m11 0h12m10 0h11m4 0h10m8 0h7m19 0h4M369 605.0h3m33 0h7m38 0h1m41 0h18m70 0h5m12 0h18m13 0h4m6 0h5m15 0h11M360 606.3h9m36 0h4m37 0h3m28 0h5m21 0h7m2 0h4m49 0h13m19 0h3m2 0h7m29 0h17M396 607.6h4m26 0h7m41 0h9m23 0h8m79 0h12m14 0h11m7 0h6M345 608.9h17m7 0h14m42 0h3m13 0h7m18 0h5m77 0h10m4 0h3m1 0h3m12 0h10m9 0h9m12 0h6m11 0h5M355 610.2h9m17 0h6m47 0h17m34 0h4m23 0h8m57 0h7m19 0h5m7 0h13m8 0h7m12 0h13M354 611.5h5m11 0h9m9 0h5m13 0h3m12 0h2m21 0h17m111 0h1m66 0h10M396 612.8h3m20 0h8m89 0h16m25 0h8m18 0h5m48 0h6m21 0h6M347 614.1h10m34 0h5m39 0h9m98 0h13m48 0h10m24 0h14M475 615.4h12m50 0h4m12 0h6m47 0h3m25 0h15m15 0h5M469 616.7h6m125 0h5m18 0h10m17 0h13M336 618.0h4m87 0h4m64 0h8m41 0h4m31 0h7m5 0h7m10 0h3m3 0h11m12 0h9m21 0h2M356 619.3h10m171 0h18m17 0h14m53 0h4M340 620.6h7m45 0h6m62 0h19m49 0h5m7 0h7m30 0h4m11 0h9m3 0h4m24 0h13m19 0h5M378 621.9h10m6 0h14m149 0h5m22 0h5m17 0h6m23 0h10M349 623.2h7m136 0h12m30 0h4m38 0h9m43 0h16M342 624.5h1m100 0h7m15 0h3m26 0h3m17 0h9m14 0h21m9 0h4m8 0h9m43 0h12m15 0h8M375 625.8h6m141 0h1m43 0h16m27 0h7m21 0h14m15 0h3M358 627.0h6m46 0h8m35 0h16m73 0h5m20 0h8m54 0h6m1 0h7M417 628.3h22m81 0h12m47 0h6m28 0h8m8 0h4m4 0h6m20 0h6M350 629.6h6m94 0h5m117 0h2m20 0h6m26 0h21m7 0h1M550 630.9h15m40 0h6m28 0h4m6 0h20M384 632.2h12m27 0h8m1 0h4m7 0h1m47 0h5m36 0h5m17 0h4m14 0h16m19 0h7m7 0h7m6 0h20m7 0h8M444 633.5h10m62 0h19m78 0h4m8 0h3m8 0h7m20 0h6M447 634.8h7m31 0h6m8 0h1m7 0h5m50 0h7m9 0h12m47 0h5M350 636.1h1m43 0h10m23 0h6m50 0h10m41 0h3m29 0h6m25 0h13m5 0h10m13 0h6m1 0h5M378 637.4h11m9 0h8m79 0h4m6 0h7m11 0h13m35 0h4m7 0h11m55 0h3M352 638.7h6m75 0h3m48 0h5m18 0h9m17 0h8m65 0h21m10 0h5m12 0h8M504 640.0h1m10 0h9m47 0h8m26 0h5m7 0h29m20 0h3M356 641.3h6m90 0h9m7 0h4m41 0h7m61 0h3m16 0h8m16 0h20m9 0h3M345 642.6h5m18 0h12m91 0h6m40 0h11m51 0h6M338 643.9h6m21 0h2m16 0h4m16 0h4m73 0h7m44 0h3m25 0h7m11 0h9m6 0h4m40 0h8m16 0h6M409 645.2h6m27 0h6m56 0h10m14 0h15m70 0h13m33 0h4M392 646.5h13m103 0h2m21 0h6m37 0h13m18 0h4m26 0h9m4 0h9m10 0h2M340 647.8h15m73 0h7m33 0h11m9 0h1m30 0h3m32 0h4m19 0h21m13 0h12m16 0h6M394 649.1h1m121 0h8m16 0h11m50 0h10m28 0h2M350 650.4h3m21 0h21m56 0h15m14 0h2m13 0h9m36 0h9m29 0h6m54 0h17M376 651.7h5m53 0h4m18 0h7m36 0h4m12 0h6m19 0h10m20 0h13m8 0h12m27 0h15m5 0h15M351 653.0h6m25 0h1m61 0h3m18 0h12m20 0h5m12 0h4m6 0h4m8 0h5m23 0h20m46 0h4m16 0h6M376 654.3h1m53 0h5m66 0h9m5 0h19m32 0h3m16 0h7m1 0h17m8 0h2m13 0h12M340 655.6h22m12 0h5m18 0h6m80 0h4m13 0h2m39 0h4m14 0h11m18 0h5m42 0h11m20 0h3M346 656.9h8m6 0h4m56 0h7m21 0h4m20 0h5m14 0h1m62 0h6m11 0h11m43 0h20m3 0h4M466 658.2h9m12 0h6m13 0h20m42 0h1m64 0h9M337 659.5h5m13 0h2m22 0h6m6 0h5m146 0h7m39 0h13m46 0h14m6 0h2M407 660.8h14m16 0h6m6 0h7m31 0h4m73 0h5m9 0h5m51 0h6M344 662.1h5m46 0h7m5 0h10m4 0h5m13 0h4m25 0h10m31 0h12m17 0h10m9 0h6m11 0h7m21 0h18m10 0h13m12 0h3M422 663.4h6m82 0h10m10 0h9m19 0h9m15 0h16m25 0h7m6 0h12M447 664.7h2m20 0h7m40 0h10m11 0h3m15 0h6m14 0h8m4 0h4m27 0h5m14 0h5m15 0h2M382 666.0h9m21 0h5m10 0h4m66 0h18m17 0h19m6 0h8m18 0h1m15 0h15m7 0h10m6 0h4m7 0h7M336 667.3h10m138 0h18m8 0h13m8 0h6m31 0h11m7 0h9m7 0h6m12 0h13m35 0h1M374 668.6h12m79 0h5m41 0h5m16 0h20m21 0h7m5 0h13m13 0h12m14 0h9m11 0h9M346 669.9h3m13 0h7m32 0h9m13 0h1m21 0h7m14 0h2m23 0h5m11 0h7m15 0h4m46 0h7m6 0h10m37 0h1m17 0h12M374 671.2h7m33 0h7m13 0h2m30 0h9m31 0h12m43 0h5m18 0h10m22 0h11m11 0h6m9 0h5M343 672.4h14m26 0h2m28 0h5m49 0h5m14 0h3m35 0h8m39 0h21m27 0h10m6 0h11m14 0h6M344 673.7h16m128 0h7m9 0h10m17 0h10m97 0h7m16 0h8M364 675.0h6m23 0h4m5 0h6m16 0h11m40 0h1m23 0h7m30 0h7m9 0h4m5 0h7m26 0h11m16 0h20M336 676.3h1m107 0h2m49 0h5m12 0h2m24 0h16m9 0h10m2 0h11m7 0h20m47 0h9M351 677.6h7m17 0h6m18 0h7m21 0h8m21 0h13m15 0h5m33 0h10m40 0h5m26 0h1M361 678.9h4m33 0h1m62 0h4m123 0h4m21 0h7m11 0h17M342 680.2h10m23 0h3m6 0h4m11 0h5m25 0h7m13 0h4m48 0h7m24 0h9m10 0h3m7 0h1m23 0h15m12 0h5m20 0h12m9 0h11M336 681.5h4m12 0h5m21 0h8m2 0h4m39 0h7m49 0h20m18 0h1m11 0h7m18 0h7m26 0h10m5 0h9m15 0h9m25 0h1M342 682.8h11m10 0h6m25 0h7m42 0h16m55 0h10m27 0h8m9 0h7m82 0h3M353 684.1h15m91 0h18m32 0h4m12 0h7m17 0h12m44 0h7m9 0h9M341 685.4h6m14 0h2m26 0h5m21 0h2m46 0h3m12 0h12m4 0h3m22 0h10m9 0h33m19 0h6m17 0h11m35 0h10M345 686.7h5m71 0h2m9 0h6m25 0h9m15 0h7m39 0h7m23 0h11M415 688.0h5m35 0h17m11 0h6m34 0h9m7 0h7m68 0h16m3 0h6M392 689.3h14m60 0h18m6 0h9m30 0h12m108 0h4M340 690.6h5m5 0h7m29 0h11m12 0h15m14 0h8m11 0h12m9 0h7m41 0h8m42 0h9m53 0h3m1 0h7M339 691.9h20m15 0h5m55 0h9m5 0h4m42 0h8m28 0h19m49 0h6m2 0h23m27 0h5M407 693.2h6m30 0h6m45 0h11m3 0h7m23 0h6m13 0h8m5 0h1m22 0h8m13 0h7m43 0h3M416 694.5h6m47 0h6m50 0h9m4 0h31m16 0h7m2 0h2m8 0h5m27 0h25M368 695.8h13m17 0h5m5 0h5m38 0h9m5 0h11m41 0h5m3 0h17m23 0h2m41 0h7m30 0h5M368 697.1h7m53 0h7m41 0h8m52 0h7m71 0h6m25 0h4M336 698.4h4m12 0h11m22 0h6m20 0h10m6 0h7m94 0h8m27 0h11m4 0h3m66 0h15m1 0h6M378 699.7h7m34 0h3m26 0h6m26 0h3m17 0h15m43 0h4m4 0h10m12 0h6m22 0h3m17 0h10m7 0h11M409 701.0h7m19 0h4m81 0h15m8 0h11m22 0h11m46 0h11M336 702.3h6m46 0h9m33 0h3m34 0h1m44 0h7m9 0h8m123 0h10M336 703.6h1m15 0h14m26 0h19m6 0h2m26 0h9m48 0h3m21 0h14m24 0h2m28 0h22m46 0h7M385 704.9h11m19 0h10m6 0h11m68 0h30m12 0h2m7 0h25m56 0h14m11 0h2M336 706.2h2m9 0h6m21 0h2m33 0h9m6 0h6m16 0h8m51 0h12m4 0h6m10 0h8m28 0h2m67 0h1m23 0h3M336 707.5h1m23 0h19m38 0h10m8 0h6m20 0h5m44 0h9m9 0h2m9 0h1m45 0h6m8 0h6m6 0h18m15 0h7m6 0h12M390 708.8h1m13 0h31m9 0h6m10 0h17m21 0h17m59 0h4m28 0h11M358 710.1h8m19 0h4m43 0h14m47 0h22m6 0h7m2 0h13m19 0h16m46 0h8m3 0h18M352 711.4h8m39 0h3m49 0h8m19 0h6m13 0h5m16 0h12m4 0h10m3 0h4m22 0h7m10 0h4m10 0h10m11 0h5m20 0h14m4 0h1M336 712.7h5m30 0h2m14 0h4m15 0h9m7 0h2m43 0h1m8 0h3m31 0h8m13 0h14m19 0h8m60 0h6m17 0h14M336 714.0h3m43 0h10m26 0h15m42 0h1m53 0h4m7 0h7m40 0h13m7 0h6m29 0h9m14 0h4M369 715.3h12m41 0h12m7 0h3m22 0h5m4 0h8m50 0h9m20 0h15m3 0h6M336 716.6h4m38 0h12m21 0h10m30 0h20m57 0h13m22 0h17m16 0h6m21 0h3m7 0h7m16 0h5m7 0h1M425 717.8h14m9 0h7m20 0h3m13 0h14m14 0h4m77 0h10m12 0h35M336 719.1h14m22 0h8m25 0h6m7 0h14m33 0h20m42 0h10m71 0h8m29 0h8m14 0h2M363 720.4h8m55 0h5m13 0h17m51 0h5m7 0h13m3 0h10m4 0h2m12 0h1m8 0h29m8 0h8m11 0h5m5 0h8M376 721.7h5m19 0h5m24 0h9m3 0h13m34 0h3m29 0h5m6 0h12m10 0h16m47 0h40m3 0h7M366 723.0h8m21 0h30m24 0h12m58 0h6m16 0h14m33 0h7m15 0h2m14 0h16m17 0h3M352 724.3h5m10 0h5m40 0h10m7 0h5m22 0h9m39 0h5m6 0h6m12 0h27m14 0h8m26 0h15M341 725.6h7m50 0h10m32 0h5m26 0h13m9 0h21m10 0h8m18 0h6m35 0h6m7 0h4m7 0h7m14 0h14M336 726.9h15m69 0h5m2 0h3m32 0h8m8 0h16m133 0h9m12 0h10m2 0h9M377 728.2h10m31 0h3m46 0h6m23 0h8m43 0h9m5 0h8m5 0h7m24 0h2m24 0h4M336 729.5h3m7 0h5m37 0h2m56 0h17m51 0h7m22 0h6m19 0h1m88 0h12M344 730.8h15m17 0h5m29 0h6m17 0h5m31 0h8m76 0h5m19 0h5m15 0h13m22 0h9m7 0h14M412 732.1h2m26 0h7m21 0h9m11 0h6m37 0h9m8 0h12m13 0h21m15 0h2m17 0h11m9 0h21M373 733.4h7m21 0h7m18 0h8m17 0h3m34 0h9m7 0h6m23 0h9m23 0h5m17 0h10m5 0h12M344 734.7h6m48 0h3m108 0h10m31 0h1m8 0h8m26 0h20m12 0h8m10 0h7M349 736.0h7m137 0h2m1 0h12m13 0h7m4 0h6m11 0h11m5 0h10m18 0h7m50 0h9M338 737.3h10m47 0h9m25 0h12m10 0h2m68 0h2m63 0h6m11 0h2m18 0h15m6 0h7m9 0h6M345 738.6h9m31 0h6m13 0h13m46 0h14m35 0h4m145 0h3M352 739.9h5m78 0h11m37 0h4m28 0h4m16 0h4m11 0h9m37 0h5M359 741.2h15m52 0h6m17 0h22m31 0h11m51 0h31m60 0h5M374 742.5h2m23 0h12m64 0h7m27 0h5m60 0h6m25 0h6m21 0h20M416 743.8h9m6 0h9m36 0h8m19 0h8m40 0h9m7 0h12m44 0h12m13 0h7M342 745.1h8m12 0h9m55 0h10m11 0h8m18 0h3m24 0h4m27 0h6m10 0h4m13 0h8m33 0h38M349 746.4h5m46 0h10m6 0h6m46 0h4m10 0h5m38 0h10m10 0h2m22 0h2m43 0h3M336 747.7h2m56 0h7m6 0h2m74 0h11m15 0h1m34 0h8m46 0h5m29 0h15m15 0h7M348 749.0h14m19 0h3m10 0h7m54 0h3m87 0h13m13 0h7m8 0h22m3 0h4m33 0h4M376 750.3h6m71 0h11m94 0h10m16 0h2m6 0h13m12 0h9m38 0h3M365 751.6h2m47 0h4m7 0h5m66 0h5m35 0h7m25 0h14m18 0h15m6 0h2m9 0h11m17 0h7M338 752.9h12m68 0h4m23 0h5m49 0h10m12 0h8m10 0h6m16 0h5m11 0h5m13 0h6m44 0h8M343 754.2h7m31 0h5m96 0h6m20 0h10m11 0h4m8 0h6m11 0h11m17 0h2m32 0h17m23 0h9M336 755.5h3m78 0h15m36 0h19m63 0h13m44 0h7m14 0h8m13 0h6m7 0h7M343 756.8h8m68 0h7m28 0h5m4 0h8m79 0h5m36 0h6M350 758.1h4m6 0h4m62 0h7m26 0h12m16 0h10m8 0h5m28 0h2m29 0h5m10 0h9m22 0h7m22 0h3m14 0h8M336 759.4h1m10 0h12m9 0h3m46 0h6m66 0h2m43 0h2m60 0h8m18 0h19m22 0h6M356 760.7h4m36 0h14m25 0h5m16 0h7m14 0h9m86 0h9m24 0h6m24 0h8M340 762.0h6m21 0h7m23 0h3m62 0h3m37 0h10m10 0h5m120 0h15"/>
<path stroke="rgb(228, 228, 45)" stroke-width="1.35" fill="none" d="M509 581.6h8m13 0h4m74 0h9m19 0h11M369 582.9h3m67 0h6m57 0h8m79 0h3m29 0h9M383 584.2h4m104 0h11m67 0h3m40 0h23M357 585.5h5m25 0h3m22 0h6m7 0h2m70 0h7m131 0h17M518 586.8h9m53 0h5M387 588.1h3m43 0h2m66 0h4m16 0h5m27 0h5m14 0h3m61 0h7m14 0h11M451 589.4h15m46 0h4m61 0h27m22 0h16M401 590.7h5M399 592.0h4m14 0h4m8 0h2m136 0h3m66 0h6m13 0h6m7 0h1M464 593.3h7m50 0h6m15 0h9m53 0h15m9 0h4m3 0h7M339 594.6h3m68 0h4m125 0h8m75 0h2m14 0h2m6 0h5M428 595.9h5m63 0h1m58 0h10m19 0h1m16 0h8m37 0h10M375 597.2h8m55 0h5m37 0h10m25 0h4m48 0h6m12 0h3m31 0h2m14 0h12M428 598.5h3m16 0h2m130 0h6m19 0h23m6 0h17M442 599.8h2m37 0h7m26 0h1m3 0h6m98 0h22m11 0h8M336 601.1h1m24 0h7m38 0h4m64 0h7m17 0h6m132 0h8m9 0h16M623 602.4h5M395 603.7h9m96 0h7m47 0h2m26 0h8m15 0h8m6 0h8m9 0h7M406 605.0h4m83 0h15m90 0h16m25 0h3m17 0h10M361 606.3h6m111 0h2m24 0h4m58 0h9m29 0h3m32 0h5m5 0h5M397 607.6h2m28 0h6m43 0h5m26 0h6m82 0h9m16 0h2m15 0h5M346 608.9h14m10 0h9m64 0h4m21 0h2m80 0h6m26 0h8m11 0h7m16 0h1m15 0h1M359 610.2h3m20 0h5m48 0h16m64 0h3m61 0h2m56 0h6m13 0h6M355 611.5h3m13 0h4m70 0h5m7 0h2m185 0h4M420 612.8h6m92 0h13m28 0h4m75 0h3m23 0h4M349 614.1h7m36 0h3m41 0h7m100 0h9m52 0h5m28 0h13M476 615.4h2m76 0h4m77 0h12m19 0h2M624 616.7h8m18 0h10M336 618.0h4m156 0h6m78 0h4m8 0h5m18 0h9m14 0h6m23 0h2M356 619.3h9m174 0h15m26 0h5m55 0h2M341 620.6h5m115 0h8m1 0h4m56 0h1m9 0h6m88 0h10m21 0h3M379 621.9h7m10 0h5m158 0h2m47 0h2m26 0h8M352 623.2h2m223 0h8m49 0h10M515 624.5h7m17 0h18m11 0h2m9 0h8m45 0h10m17 0h7M377 625.8h1m188 0h5m6 0h3m30 0h6m22 0h12M360 627.0h2m49 0h6m39 0h12m100 0h6m63 0h6M417 628.3h8m4 0h5m87 0h11m47 0h5m31 0h3m12 0h2m6 0h4m22 0h4M351 629.6h4m278 0h13M552 630.9h5m50 0h3m42 0h16M385 632.2h9m31 0h3m64 0h2m40 0h2m20 0h1m16 0h14m20 0h6m10 0h4m7 0h19m9 0h5M445 633.5h8m64 0h17m80 0h3m20 0h5m23 0h2M449 634.8h2m35 0h4m19 0h1m54 0h4m12 0h6m52 0h3M395 636.1h8m25 0h2m54 0h8m74 0h5m29 0h9m7 0h8m15 0h3m5 0h3M380 637.4h7m110 0h2m16 0h10m37 0h2m9 0h8m58 0h1M354 638.7h3m128 0h3m20 0h8m19 0h5m68 0h17m13 0h3M515 640.0h8m49 0h6m28 0h4m7 0h28M357 641.3h4m91 0h9m53 0h6m81 0h6m19 0h17M347 642.6h1m22 0h7m142 0h5m57 0h2M340 643.9h3m138 0h6m74 0h3m14 0h7m51 0h7m18 0h4M411 645.2h2m92 0h8m16 0h5m3 0h4m81 0h2M398 646.5h6m128 0h4m40 0h10m50 0h8m5 0h7M428 647.8h6m37 0h6m102 0h4m7 0h7m14 0h10m18 0h5M516 649.1h8m23 0h3m52 0h7M382 650.4h2m3 0h6m68 0h3m32 0h6m39 0h7m32 0h1m58 0h15M377 651.7h2m80 0h3m79 0h7m25 0h10m9 0h11m35 0h6m7 0h13M468 653.0h6m92 0h7m78 0h2M432 654.3h1m70 0h5m8 0h7m3 0h7m64 0h11m26 0h9M342 655.6h10m4 0h4m39 0h3m158 0h9m66 0h10M347 656.9h6m68 0h5m47 0h2m81 0h2m14 0h9m45 0h7m4 0h7M468 658.2h5m16 0h3m15 0h9m4 0h4m110 0h7M543 659.5h5m42 0h10m48 0h12M416 660.8h3m19 0h3m9 0h5m124 0h2m55 0h3M398 662.1h2m9 0h5m26 0h2m27 0h8m33 0h8m20 0h9m28 0h4m24 0h17m10 0h12M511 663.4h7m14 0h4m23 0h7m18 0h1m5 0h6m28 0h5m7 0h11M471 664.7h3m43 0h7m32 0h4m60 0h2m17 0h2M499 666.0h15m20 0h16m9 0h5m36 0h6m16 0h8m19 0h5M485 667.3h16m10 0h8m13 0h4m32 0h11m8 0h8m8 0h3m15 0h11M376 668.6h5m152 0h18m37 0h5m20 0h9m15 0h9m11 0h8M364 669.9h3m35 0h7m37 0h4m42 0h3m14 0h5m66 0h5m8 0h8m57 0h6M467 671.2h6m34 0h10m100 0h9m13 0h5m10 0h3M344 672.4h11m58 0h4m51 0h2m55 0h6m42 0h17m30 0h9m7 0h9M345 673.7h9m135 0h5m11 0h8m19 0h8m99 0h4m19 0h7M404 675.0h3m18 0h9m66 0h6m32 0h2m22 0h5m28 0h9m18 0h18M496 676.3h2m41 0h12m14 0h6m6 0h8m9 0h19m52 0h4M352 677.6h4m20 0h4m19 0h6m23 0h6m24 0h9m56 0h8M632 678.9h15M344 680.2h6m80 0h5m15 0h2m50 0h6m26 0h5m54 0h6m14 0h4m21 0h7m16 0h5M354 681.5h1m24 0h4m105 0h9m3 0h6m32 0h6m18 0h6m28 0h8m7 0h7m17 0h7M344 682.8h8m13 0h2m28 0h4m49 0h10m58 0h7m30 0h6M355 684.1h3m7 0h2m102 0h6m51 0h5m19 0h9m47 0h5m10 0h8M343 685.4h3m45 0h1m87 0h8m34 0h4m14 0h15m1 0h7m5 0h3m21 0h4m20 0h8m37 0h8M347 686.7h1m84 0h6m26 0h6m18 0h6m40 0h5m30 0h3M416 688.0h3m37 0h10m59 0h6m8 0h5m70 0h14M393 689.3h8m76 0h6m7 0h8m31 0h11M351 690.6h5m31 0h8m15 0h12m36 0h5m17 0h3m45 0h5m44 0h7m62 0h1M347 691.9h11m78 0h6m7 0h2m44 0h5m41 0h7m51 0h3m6 0h21M410 693.2h2m32 0h4m51 0h3m56 0h5m31 0h6m15 0h5M526 694.5h7m6 0h21m26 0h4m15 0h3m29 0h23M370 695.8h10m19 0h3m50 0h7m7 0h8m53 0h14m68 0h5M369 697.1h5m56 0h3m105 0h2m75 0h4m27 0h2M336 698.4h2m17 0h7m24 0h4m22 0h7m110 0h6m114 0h12m4 0h4M379 699.7h3m67 0h4m48 0h14m52 0h9m12 0h6m43 0h8m9 0h8M411 701.0h3m107 0h13m10 0h10m25 0h7m47 0h10M513 702.3h5m11 0h6m125 0h9M353 703.6h7m2 0h3m29 0h15m94 0h2m22 0h12m56 0h8m5 0h5m50 0h6M391 704.9h3m24 0h5m9 0h7m72 0h26m24 0h6m4 0h10m1 0h2m60 0h10M349 706.2h3m95 0h6m55 0h3m27 0h6m124 0h1M361 707.5h18m40 0h7m11 0h2m72 0h7m68 0h3m12 0h2m9 0h13m20 0h5m7 0h12M405 708.8h19m3 0h7m10 0h6m12 0h4m3 0h7m24 0h14m93 0h8M359 710.1h6m67 0h11m51 0h7m3 0h10m8 0h4m37 0h13m48 0h7m5 0h15M356 711.4h1m95 0h4m23 0h3m15 0h4m20 0h4m10 0h8m31 0h5m26 0h8m38 0h7M336 712.7h2m50 0h1m19 0h5m97 0h7m16 0h10m22 0h6m61 0h6m27 0h4M336 714.0h2m45 0h8m28 0h13m97 0h3m56 0h11m44 0h7m16 0h3M370 715.3h10m97 0h4m54 0h6m22 0h12M336 716.6h4m40 0h7m65 0h19m59 0h10m24 0h15m18 0h4m33 0h5m18 0h3M430 717.8h8m10 0h6m38 0h11m120 0h8m7 0h18M337 719.1h12m24 0h6m27 0h4m9 0h5m43 0h17m44 0h7m76 0h2m36 0h2M446 720.4h15m65 0h9m7 0h6m31 0h26m10 0h7M430 721.7h7m5 0h12m80 0h8m15 0h11m49 0h6m3 0h9m12 0h8m5 0h5M367 723.0h6m23 0h18m38 0h7m84 0h11m36 0h4m34 0h4m2 0h7M413 724.3h8m10 0h2m24 0h6m53 0h4m14 0h24m17 0h4m30 0h12M342 725.6h4m127 0h10m13 0h17m12 0h6m21 0h3m38 0h3m41 0h11M342 726.9h8m114 0h5m16 0h6m138 0h6m13 0h9m5 0h7M378 728.2h8m82 0h4m25 0h5m46 0h7m7 0h6m7 0h6M347 729.5h3m97 0h15m53 0h5m23 0h5m110 0h11M351 730.8h6m20 0h3m31 0h4m57 0h4m78 0h3m21 0h3m17 0h11m24 0h7m9 0h12M441 732.1h5m23 0h6m57 0h7m11 0h8m20 0h10m41 0h4m15 0h21M375 733.4h3m24 0h5m21 0h4m57 0h6m39 0h6m48 0h8m8 0h1m4 0h4M345 734.7h4m212 0h5m28 0h5m3 0h10M349 736.0h6m144 0h7m16 0h5m6 0h4m12 0h10m7 0h8m19 0h6m52 0h7M339 737.3h7m49 0h8m27 0h9m185 0h13m7 0h6m12 0h2M346 738.6h7m34 0h2m17 0h6m53 0h11M436 739.9h7m109 0h4M359 741.2h13m55 0h5m18 0h5m7 0h8m34 0h8m54 0h22m68 0h3M407 742.5h3m66 0h5m28 0h5m62 0h3m27 0h5m21 0h19M419 743.8h5m10 0h2m41 0h6m21 0h6m43 0h3m11 0h10m47 0h11m15 0h3M342 745.1h7m14 0h7m57 0h7m98 0h3m30 0h4m38 0h9m4 0h23M351 746.4h2m48 0h8m9 0h4m47 0h2m54 0h9M336 747.7h2m57 0h5m89 0h3m53 0h6m82 0h12m18 0h6M350 749.0h12m34 0h3m147 0h4m38 0h5m6 0h8M377 750.3h3m81 0h1m131 0h10m15 0h8M498 751.6h1m38 0h5m27 0h12m20 0h12m19 0h10m20 0h4M446 752.9h4m52 0h4m15 0h6m51 0h3m65 0h5M345 754.2h3m34 0h3m98 0h4m22 0h8m43 0h8m53 0h15m25 0h7M336 755.5h2m87 0h7m38 0h16m66 0h9m47 0h6m15 0h5m17 0h3m9 0h6M344 756.8h5m71 0h5m40 0h5m82 0h1m39 0h4M351 758.1h2m108 0h4m25 0h6m75 0h1m14 0h6m25 0h3m42 0h6M418 759.4h4m175 0h7m19 0h16m26 0h4M398 760.7h5m54 0h5m111 0h8m26 0h2m27 0h6M368 762.0h5m131 0h7m12 0h3m123 0h10"/>
<path stroke="rgb(245, 190, 35)" stroke-width="1.35" fill="none" d="M510 581.6h5m93 0h8m21 0h9M440 582.9h4m59 0h6m114 0h5M494 584.2h8m111 0h5m4 0h11M357 585.5h4m27 0h1m25 0h2m83 0h3m134 0h6m4 0h5M519 586.8h6m57 0h1M502 588.1h2m50 0h2m81 0h6m14 0h10M452 589.4h12m115 0h22m25 0h16M403 590.7h2M400 592.0h3m15 0h2m217 0h5m15 0h3M465 593.3h4m53 0h4m17 0h6m56 0h13m19 0h4M541 594.6h5m100 0h4M557 595.9h7m37 0h8m38 0h8M376 597.2h7m55 0h4m40 0h7m28 0h1m50 0h3m65 0h9M580 598.5h4m21 0h22m7 0h13M482 599.8h5m136 0h9m4 0h7m14 0h5M362 601.1h4m133 0h5m133 0h6m12 0h14M396 603.7h7m98 0h6m75 0h6m19 0h4m9 0h6m11 0h5M494 605.0h12m93 0h14m27 0h1m21 0h4M364 606.3h1m202 0h7m66 0h3M428 607.6h4m75 0h6m83 0h7m35 0h3M347 608.9h11m13 0h7m66 0h2m105 0h4m29 0h5m13 0h5M382 610.2h4m50 0h4m3 0h7m187 0h6m14 0h4M355 611.5h3M421 612.8h4m96 0h9m109 0h1M351 614.1h3m83 0h5m102 0h5m55 0h4m30 0h10M636 615.4h10M625 616.7h7m19 0h7M337 618.0h1m158 0h5m92 0h3m20 0h8m15 0h4m25 0h1M357 619.3h7m179 0h10M343 620.6h1m117 0h6m74 0h4m90 0h9M381 621.9h4m252 0h6M578 623.2h6m50 0h10M517 624.5h3m20 0h16m24 0h7m49 0h5m19 0h5M567 625.8h2m42 0h4m24 0h10M412 627.0h4m42 0h9m101 0h6m64 0h4M418 628.3h5m99 0h9m49 0h3m56 0h2M353 629.6h1m280 0h11M654 630.9h13M386 632.2h7m181 0h5m3 0h3m23 0h4m12 0h1m10 0h18M446 633.5h5m67 0h7m3 0h5m104 0h5M565 634.8h2m15 0h1m56 0h1M396 636.1h7m82 0h6m76 0h4m32 0h4m10 0h6M382 637.4h4m131 0h7m50 0h5M486 638.7h1m21 0h7m98 0h9M516 640.0h6m51 0h5m28 0h3m9 0h26M453 641.3h7m55 0h4m83 0h4m21 0h15M372 642.6h3M482 643.9h4m93 0h5m53 0h6m19 0h3M506 645.2h5m28 0h1M400 646.5h2m131 0h2m43 0h7m52 0h6m7 0h5M429 647.8h4m159 0h4m16 0h8m20 0h3M517 649.1h6m79 0h6M497 650.4h4m41 0h5m93 0h14M543 651.7h3m29 0h7m10 0h10m37 0h4m9 0h11M517 654.3h4m6 0h6m67 0h7m29 0h5M344 655.6h7m210 0h7m68 0h8M348 656.9h4m70 0h3m147 0h9m46 0h4m7 0h5M507 658.2h8m120 0h6M544 659.5h2m45 0h8m51 0h9M451 660.8h3M470 662.1h6m35 0h5m23 0h8m57 0h15m12 0h4m1 0h5M513 663.4h4m42 0h6m61 0h2m9 0h9M518 664.7h4M503 666.0h9m23 0h6m3 0h4m54 0h1m20 0h6m21 0h3M488 667.3h10m14 0h3m18 0h2m34 0h9m9 0h7m28 0h4m3 0h2M535 668.6h14m64 0h9m15 0h8m13 0h6M403 669.9h5m102 0h3m80 0h7m60 0h1M508 671.2h8m103 0h6m14 0h4M345 672.4h8m61 0h2m110 0h4m44 0h15m33 0h6m8 0h8M346 673.7h7m137 0h4m12 0h5m21 0h7m124 0h5M426 675.0h8m66 0h5m58 0h3m30 0h8m18 0h17M539 676.3h9m18 0h3m9 0h6m11 0h17M352 677.6h4m44 0h5m24 0h3m27 0h7m58 0h6M633 678.9h13M432 680.2h1m69 0h5m28 0h2m58 0h3m16 0h2m23 0h4M489 681.5h6m8 0h2m34 0h4m20 0h4m29 0h8m8 0h4m20 0h5M345 682.8h6m99 0h7m97 0h4M552 684.1h6m50 0h1m13 0h6M541 685.4h9m69 0h3m39 0h6M433 686.7h4m28 0h4m20 0h4m42 0h3M457 688.0h9m61 0h3m10 0h3m72 0h11M393 689.3h5m80 0h4m9 0h7m31 0h10M351 690.6h5m32 0h6m18 0h9m157 0h6M348 691.9h9m139 0h3m43 0h5m62 0h13m1 0h5M559 693.2h3m33 0h4m18 0h1M527 694.5h6m7 0h13m34 0h2m48 0h23M371 695.8h9m73 0h6m8 0h6m56 0h2m3 0h6m70 0h3M371 697.1h1M387 698.4h2m25 0h4m112 0h5m115 0h10m6 0h3M503 699.7h11m54 0h7m14 0h4m45 0h6m11 0h6M523 701.0h11m11 0h9m26 0h5m49 0h8M515 702.3h1m14 0h4m127 0h6M354 703.6h4m38 0h10m124 0h9m56 0h7m62 0h5M432 704.9h5m74 0h24m27 0h4m7 0h5m67 0h8M448 706.2h4m86 0h6M361 707.5h9m4 0h4m43 0h4m87 0h5m97 0h10m22 0h3m9 0h11M406 708.8h15m8 0h4m12 0h4m22 0h4m27 0h12m94 0h6M433 710.1h6m56 0h5m5 0h8m9 0h3m38 0h12m50 0h5m7 0h6M499 711.4h1m36 0h6m32 0h5m27 0h6m39 0h6M511 712.7h5m18 0h6m27 0h3m63 0h4m31 0h1M336 714.0h1m48 0h4m31 0h11m158 0h9m45 0h7m16 0h3M371 715.3h7m159 0h4m22 0h11M337 716.6h2m114 0h5m3 0h9m62 0h8m26 0h2m2 0h9m19 0h2m35 0h3m20 0h1M432 717.8h5m12 0h5m40 0h6m140 0h14M338 719.1h10m26 0h4m29 0h2m62 0h12M447 720.4h13m68 0h6m9 0h4m33 0h24m11 0h6M431 721.7h5m7 0h10m82 0h6m19 0h7m51 0h3m6 0h6m15 0h6m7 0h3M368 723.0h4m25 0h15m132 0h9m83 0h4M414 724.3h6m38 0h3m56 0h3m15 0h22m52 0h6M474 725.6h9m21 0h8m15 0h2m108 0h9M343 726.9h7m115 0h2m163 0h4m15 0h7m8 0h5M378 728.2h7m84 0h2m28 0h1m48 0h6m9 0h5m8 0h5M448 729.5h13m56 0h1m26 0h4m112 0h4M578 730.8h3m18 0h9m26 0h6m9 0h11M442 732.1h3m26 0h3m59 0h5m13 0h6m23 0h6m63 0h9M536 733.4h3m50 0h6M346 734.7h3m214 0h2m39 0h8M350 736.0h4m146 0h5m17 0h5m7 0h1m15 0h8m10 0h4m22 0h4m54 0h4M341 737.3h4m51 0h7m28 0h6m188 0h11m9 0h4M348 738.6h3m56 0h3m55 0h10M437 739.9h4M360 741.2h10m58 0h3m20 0h2m10 0h6m36 0h5m59 0h2m4 0h12m70 0h1M478 742.5h1m31 0h3m94 0h2m24 0h17M421 743.8h1m56 0h5m21 0h6m58 0h7m50 0h9M343 745.1h5m17 0h4m59 0h5m175 0h7m8 0h19M403 746.4h5m11 0h2m105 0h7M336 747.7h2m57 0h5m146 0h4m84 0h6m24 0h5M354 749.0h7m239 0h7M593 750.3h9m18 0h5M538 751.6h3m29 0h10m22 0h10m21 0h8M447 752.9h2m73 0h4m121 0h2M511 754.2h4m49 0h2m55 0h14m27 0h5M336 755.5h1m89 0h5m41 0h5m5 0h2m72 0h2m51 0h4m18 0h1m32 0h5M421 756.8h4m41 0h3m124 0h2M351 758.1h1m235 0h4m72 0h4M419 759.4h2m177 0h5m21 0h6m3 0h5M458 760.7h3m113 0h6m57 0h5M369 762.0h2m153 0h1m129 0h2"/>
<path stroke="rgb(236, 140, 30)" stroke-width="1.35" fill="none" d="M609 581.6h7m21 0h8M504 582.9h3M496 584.2h5m112 0h3m8 0h8M358 585.5h2m278 0h3M637 588.1h5m16 0h8M455 589.4h8m117 0h19m28 0h14M401 592.0h1m236 0h3M467 593.3h1m55 0h2m81 0h11M543 594.6h1m103 0h3M559 595.9h3m40 0h7m39 0h6M376 597.2h7m55 0h4m42 0h4m148 0h9M581 598.5h2m24 0h6m3 0h10m9 0h9M482 599.8h4m138 0h6m7 0h6M500 601.1h3m134 0h6m22 0h4M397 603.7h6m98 0h5m77 0h4m33 0h6m11 0h5M599 605.0h13M567 606.3h5M429 607.6h3m76 0h4m85 0h6M348 608.9h8m16 0h4m210 0h1m15 0h5M383 610.2h2m52 0h1m6 0h5m189 0h5M422 612.8h3m97 0h8M438 614.1h3m197 0h8M637 615.4h7M626 616.7h5m21 0h5M497 618.0h4m115 0h7M358 619.3h5m182 0h7M462 620.6h4m76 0h3m91 0h8M637 621.9h6M579 623.2h4m52 0h8M541 624.5h15m25 0h5m51 0h4m20 0h2M612 625.8h2m26 0h8M413 627.0h1m47 0h4m104 0h4M419 628.3h3m100 0h9M635 629.6h9M656 630.9h10M388 632.2h3m218 0h2m25 0h7m3 0h6M447 633.5h2m70 0h4m115 0h3M397 636.1h5m84 0h4m78 0h2m48 0h4M520 637.4h2M509 638.7h6M517 640.0h4m53 0h3m30 0h1m10 0h15m3 0h8M455 641.3h4m57 0h2m84 0h3m23 0h14M484 643.9h1m95 0h3m54 0h5M507 645.2h3M579 646.5h5m54 0h5M430 647.8h2m181 0h6M518 649.1h4m81 0h4M543 650.4h2m101 0h7M576 651.7h5m12 0h9m50 0h9M528 654.3h4m106 0h1M346 655.6h3m212 0h6m69 0h7M350 656.9h1m222 0h7m59 0h3M508 658.2h6m122 0h4M592 659.5h7m52 0h7M471 662.1h4m38 0h1m25 0h7m59 0h12m22 0h1M560 663.4h4m73 0h8M504 666.0h6m27 0h1m87 0h3M569 667.3h9m10 0h6M536 668.6h12m66 0h7m17 0h6m15 0h4M403 669.9h4m186 0h7M621 671.2h2m17 0h3M346 672.4h4m230 0h7m36 0h5m9 0h7M346 673.7h6m155 0h3m23 0h6m125 0h2M427 675.0h6m68 0h3m93 0h6m20 0h15M540 676.3h6m33 0h5m12 0h15M353 677.6h1m46 0h4m56 0h5m60 0h4M633 678.9h12M503 680.2h4m132 0h3M490 681.5h4m46 0h3m21 0h2m31 0h7m33 0h3M345 682.8h5m102 0h4m99 0h2M554 684.1h2m68 0h2M542 685.4h5m115 0h3M433 686.7h4m52 0h4M458 688.0h7m151 0h8M395 689.3h1m95 0h6m33 0h9M352 690.6h3m35 0h2m21 0h6m160 0h4M349 691.9h7m187 0h3m64 0h10m5 0h2M528 694.5h4m9 0h11m86 0h21M373 695.8h6m74 0h5m10 0h3m65 0h3M531 698.4h2m119 0h8m8 0h1M504 699.7h10m54 0h7m14 0h4m45 0h4M527 701.0h6m13 0h7m29 0h1m51 0h8M398 703.6h4m132 0h4m58 0h5m63 0h4M433 704.9h3m76 0h11m3 0h7m30 0h2m83 0h4M539 706.2h4M363 707.5h5m7 0h2m136 0h3m104 0h2m37 0h9M406 708.8h12m28 0h2m62 0h3m96 0h3M495 710.1h4m7 0h5m53 0h9m52 0h4m10 0h1M536 711.4h5m34 0h3m29 0h4m41 0h4M512 712.7h4m117 0h3M420 714.0h11m159 0h7m47 0h5m18 0h2M374 715.3h2m188 0h10M453 716.6h4m5 0h7m63 0h8m32 0h6m58 0h1M433 717.8h3m14 0h3m42 0h4m143 0h6M339 719.1h8m126 0h9M448 720.4h12m122 0h10m1 0h10m13 0h4M431 721.7h4m8 0h10m84 0h3m21 0h5m62 0h3m18 0h5M369 723.0h3m26 0h13M415 724.3h3m119 0h18m56 0h3M475 725.6h7m23 0h6m127 0h7M343 726.9h6m301 0h5M379 728.2h5m165 0h4m10 0h4m9 0h4M449 729.5h11m85 0h2M579 730.8h1m19 0h8m28 0h4m12 0h7M534 732.1h4m16 0h2m94 0h5M589 733.4h5M606 734.7h5M350 736.0h4m148 0h1m20 0h3m24 0h7m38 0h2M396 737.3h6m30 0h4m190 0h9m11 0h2M466 738.6h8M361 741.2h6m61 0h3m34 0h3m39 0h1m69 0h8M511 742.5h1m122 0h16M478 743.8h4m23 0h4m60 0h5m52 0h7M343 745.1h5m261 0h5m14 0h12M527 746.4h5M336 747.7h1m59 0h3m236 0h3m26 0h5M355 749.0h6m240 0h5M594 750.3h7m20 0h3M539 751.6h1m31 0h9m54 0h6M523 752.9h2M622 754.2h11m31 0h2M427 755.5h3m180 0h2m52 0h5M422 756.8h2M599 759.4h3m22 0h5M574 760.7h6m58 0h3"/>
<path stroke="rgb(205, 72, 22)" stroke-width="1.35" fill="none" d="M610 581.6h5m23 0h6M626 584.2h5M638 588.1h4m16 0h8M587 589.4h10m32 0h11M639 592.0h1M613 593.3h3M603 595.9h5m41 0h4M376 597.2h6m57 0h1m197 0h7M617 598.5h8m11 0h7M483 599.8h2m140 0h4m9 0h4M638 601.1h4m25 0h2M398 603.7h4m100 0h4m115 0h4m13 0h3M600 605.0h9M599 607.6h2M350 608.9h3m250 0h3M446 610.2h2m190 0h4M523 612.8h6M639 614.1h6M638 615.4h4M498 618.0h1m118 0h6M360 619.3h1m186 0h3M636 620.6h7M639 621.9h2M635 623.2h8M542 624.5h6m34 0h3M570 627.0h2M523 628.3h7M636 629.6h7M657 630.9h7M636 632.2h6m5 0h4M639 633.5h1M397 636.1h5M509 638.7h5M619 640.0h11m7 0h6M638 643.9h4M581 646.5h1m56 0h4M614 647.8h2M648 650.4h4M577 651.7h3m14 0h7M529 654.3h2M562 655.6h4m71 0h5M573 656.9h6M509 658.2h4M593 659.5h5m54 0h5M540 662.1h6m61 0h7M638 663.4h6M506 666.0h2M570 667.3h7m12 0h4M538 668.6h9m68 0h5m18 0h5M594 669.9h6M641 671.2h1M584 672.4h1m52 0h6M347 673.7h4m183 0h3M428 675.0h5m165 0h4m21 0h5m3 0h4M540 676.3h4m36 0h3m14 0h11M401 677.6h2m58 0h3m62 0h1M634 678.9h10M541 681.5h1m55 0h6M347 682.8h2M434 686.7h2m54 0h2M460 688.0h4M492 689.3h5m33 0h8M415 690.6h1m164 0h2M350 691.9h5m260 0h4M544 694.5h6m88 0h7m3 0h11M375 695.8h3m76 0h3M655 698.4h4M506 699.7h7m56 0h5M529 701.0h3m16 0h4m83 0h5M597 703.6h3M512 704.9h9M540 706.2h2M408 708.8h9M564 710.1h7m55 0h2M537 711.4h3m113 0h1M421 714.0h9m162 0h3m50 0h4M565 715.3h8M464 716.6h4m65 0h6m34 0h4M451 717.8h1M341 719.1h3m131 0h5M449 720.4h10m124 0h7m5 0h6m16 0h2M433 721.7h1m10 0h8m198 0h3M400 723.0h9M538 724.3h7M476 725.6h6m24 0h3m130 0h4M344 726.9h5m302 0h3M379 728.2h4m166 0h3m12 0h3m10 0h2M451 729.5h4M601 730.8h5M591 733.4h2M607 734.7h3M351 736.0h2m170 0h2m26 0h5M397 737.3h4M467 738.6h6M579 741.2h5M635 742.5h13M480 743.8h1m25 0h2m62 0h3m55 0h4M344 745.1h3m284 0h7M336 747.7h1m59 0h2m267 0h4M356 749.0h4m242 0h4M595 750.3h5M572 751.6h7M623 754.2h9M665 755.5h4M626 759.4h1M575 760.7h5"/>
<path stroke="rgb(150, 22, 10)" stroke-width="1.35" fill="none" d="M611 581.6h3m26 0h3M638 588.1h3m18 0h5M588 589.4h8m35 0h8M604 595.9h3M377 597.2h4m257 0h5M618 598.5h6m13 0h5M639 601.1h2M399 603.7h3m220 0h2M601 605.0h5M639 610.2h2M524 612.8h5M640 614.1h3M617 618.0h5M637 620.6h6M636 623.2h6M524 628.3h5M638 629.6h4M638 632.2h3m8 0h1M399 636.1h2M510 638.7h3M621 640.0h3m15 0h2M639 646.5h2M595 651.7h5M638 655.6h2M574 656.9h4M594 659.5h2M540 662.1h5M639 663.4h4M571 667.3h5m14 0h2M540 668.6h5m94 0h3M594 669.9h5M638 672.4h4M349 673.7h1M430 675.0h1m193 0h2M599 676.3h5M635 678.9h8M598 681.5h5M494 689.3h2m35 0h6M351 691.9h3M639 694.5h4m12 0h3M507 699.7h5m58 0h3M636 701.0h3M513 704.9h7M409 708.8h7M565 710.1h5M422 714.0h7m217 0h1M566 715.3h5M534 716.6h5M450 720.4h8m127 0h3M445 721.7h7M402 723.0h6M477 725.6h4M346 726.9h1M380 728.2h2M552 736.0h3M398 737.3h2M468 738.6h4M637 742.5h9M666 747.7h3M603 749.0h1M574 751.6h3M625 754.2h4M576 760.7h3"/>
</g>
<path d="M342.9,581v2.2M376.4,581v2.2M409.9,581v2.2M443.4,581v2.2M476.9,581v2.2M510.4,581v2.2M543.9,581v2.2M577.4,581v2.2M610.9,581v2.2M644.4,581v2.2M336,591.7h2.2M336,609.4h2.2M336,629.4h2.2M336,649.5h2.2M336,666.6h2.2M336,685.5h2.2M336,706.8h2.2M336,725.6h2.2M336,744.8h2.2" stroke="#333" stroke-width="0.7" fill="none"/>
<path d="M484.6,581 V802.5" stroke="#222" stroke-width="1.1" stroke-dasharray="3.5,2.5"/>
<path d="M336,762.6 V802.5" stroke="#333" stroke-width="1" stroke-dasharray="3.5,2.5"/>
<path d="M669.1,762.6 V802.5" stroke="#333" stroke-width="1" stroke-dasharray="3.5,2.5"/>
<text x="329.7" y="596.5" font-size="13.5" text-anchor="end" font-family="Liberation Sans, sans-serif" font-weight="bold" stroke="#000" stroke-width="0.35">45</text>
<text x="329.7" y="614.2" font-size="13.5" text-anchor="end" font-family="Liberation Sans, sans-serif" font-weight="bold" stroke="#000" stroke-width="0.35">40</text>
<text x="329.7" y="634.2" font-size="13.5" text-anchor="end" font-family="Liberation Sans, sans-serif" font-weight="bold" stroke="#000" stroke-width="0.35">35</text>
<text x="329.7" y="654.3" font-size="13.5" text-anchor="end" font-family="Liberation Sans, sans-serif" font-weight="bold" stroke="#000" stroke-width="0.35">30</text>
<text x="329.7" y="671.4" font-size="13.5" text-anchor="end" font-family="Liberation Sans, sans-serif" font-weight="bold" stroke="#000" stroke-width="0.35">25</text>
<text x="329.7" y="690.3" font-size="13.5" text-anchor="end" font-family="Liberation Sans, sans-serif" font-weight="bold" stroke="#000" stroke-width="0.35">20</text>
<text x="329.7" y="711.6" font-size="13.5" text-anchor="end" font-family="Liberation Sans, sans-serif" font-weight="bold" stroke="#000" stroke-width="0.35">15</text>
<text x="329.7" y="730.4" font-size="13.5" text-anchor="end" font-family="Liberation Sans, sans-serif" font-weight="bold" stroke="#000" stroke-width="0.35">10</text>
<text x="328.8" y="749.6" font-size="13.5" text-anchor="end" font-family="Liberation Sans, sans-serif" font-weight="bold" stroke="#000" stroke-width="0.35">5</text>
<text x="328.8" y="767.0" font-size="13.5" text-anchor="end" font-family="Liberation Sans, sans-serif" font-weight="bold" stroke="#000" stroke-width="0.35">0</text>
<text x="306.1" y="674.7" font-size="13.5" text-anchor="middle" transform="rotate(-90 306.1 674.7)" font-family="Liberation Sans, sans-serif" font-weight="bold" stroke="#000" stroke-width="0.35">Frequency (Hz)</text>
<rect x="671.6" y="581" width="5.2" height="182.0" fill="url(#jet)"/>
<text x="679.6" y="598.4" font-size="12.3" font-family="Liberation Sans, sans-serif" font-weight="bold" stroke="#000" stroke-width="0.35">4</text>
<text x="679.6" y="618.2" font-size="12.3" font-family="Liberation Sans, sans-serif" font-weight="bold" stroke="#000" stroke-width="0.35">3</text>
<text x="679.6" y="638.1" font-size="12.3" font-family="Liberation Sans, sans-serif" font-weight="bold" stroke="#000" stroke-width="0.35">2</text>
<text x="679.6" y="657.9" font-size="12.3" font-family="Liberation Sans, sans-serif" font-weight="bold" stroke="#000" stroke-width="0.35">1</text>
<text x="679.6" y="677.7" font-size="12.3" font-family="Liberation Sans, sans-serif" font-weight="bold" stroke="#000" stroke-width="0.35">0</text>
<text x="679.6" y="697.5" font-size="12.3" font-family="Liberation Sans, sans-serif" font-weight="bold" stroke="#000" stroke-width="0.35">-1</text>
<text x="679.6" y="717.4" font-size="12.3" font-family="Liberation Sans, sans-serif" font-weight="bold" stroke="#000" stroke-width="0.35">-2</text>
<text x="679.6" y="737.2" font-size="12.3" font-family="Liberation Sans, sans-serif" font-weight="bold" stroke="#000" stroke-width="0.35">-3</text>
<text x="679.6" y="757.0" font-size="12.3" font-family="Liberation Sans, sans-serif" font-weight="bold" stroke="#000" stroke-width="0.35">-4</text>
<text x="695.0" y="680.0" font-size="13.5" text-anchor="middle" transform="rotate(90 695.0 680.0)" font-family="Liberation Sans, sans-serif" font-weight="bold" stroke="#000" stroke-width="0.35">ERSP(dB)</text>
<text x="483.4" y="560.8" font-size="13.5" font-family="Liberation Sans, sans-serif" font-weight="bold" stroke="#000" stroke-width="0.35">Behavior Evaluation</text>
<rect x="484.4" y="562.7" width="26.7" height="15.0" fill="#3c28aa"/>
<rect x="511.1" y="562.7" width="27.6" height="15.0" fill="#4178f4"/>
<rect x="538.7" y="562.7" width="26.8" height="15.0" fill="#1ea6dc"/>
<rect x="565.5" y="562.7" width="26.7" height="15.0" fill="#f0b438"/>
<rect x="592.2" y="562.7" width="27.6" height="15.0" fill="#f3b836"/>
<rect x="619.8" y="562.7" width="26.6" height="15.0" fill="#f5c630"/>
<rect x="646.4" y="562.7" width="26.8" height="15.0" fill="#f6ee1c"/>
<rect x="673.7" y="562.5" width="3.3" height="15.3" fill="url(#parD)"/>
<text x="688.4" y="566" font-size="11.8" text-anchor="end" font-family="Liberation Sans, sans-serif" font-weight="bold" stroke="#000" stroke-width="0.35">1</text>
<text x="690.4" y="580.9" font-size="11.8" text-anchor="end" font-family="Liberation Sans, sans-serif" font-weight="bold" stroke="#000" stroke-width="0.35">-1</text>
<text x="410.9" y="776.5" font-size="13.5" text-anchor="middle" font-family="Liberation Sans, sans-serif" font-weight="bold" stroke="#000" stroke-width="0.35">Neutral stimualtion</text>
<text x="410.9" y="792.5" font-size="13.5" text-anchor="middle" font-family="Liberation Sans, sans-serif" font-weight="bold" stroke="#000" stroke-width="0.35">phase</text>
<text x="569.4" y="776.5" font-size="13.5" text-anchor="middle" font-family="Liberation Sans, sans-serif" font-weight="bold" stroke="#000" stroke-width="0.35">Happy stimualtion</text>
<text x="569.4" y="792.5" font-size="13.5" text-anchor="middle" font-family="Liberation Sans, sans-serif" font-weight="bold" stroke="#000" stroke-width="0.35">phase</text>
<path d="M338.5,798 H482.1" stroke="#222" stroke-width="1.1"/>
<path d="M338.3,798 l4.2,-1.9 v3.8 z M482.3,798 l-4.2,-1.9 v3.8 z" fill="#1a1a1a"/>
<path d="M487.1,798 H666.6" stroke="#222" stroke-width="1.1"/>
<path d="M486.9,798 l4.2,-1.9 v3.8 z M666.8,798 l-4.2,-1.9 v3.8 z" fill="#1a1a1a"/>
</svg></body></html>
